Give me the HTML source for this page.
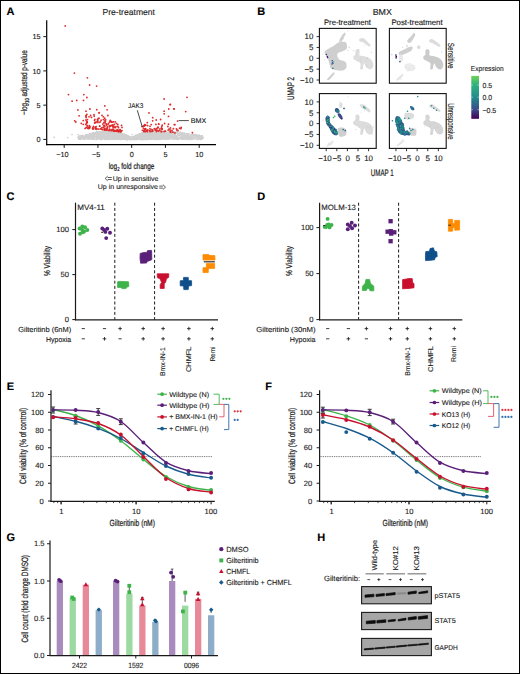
<!DOCTYPE html>
<html><head><meta charset="utf-8"><title>Figure</title>
<style>
html,body{margin:0;padding:0;background:#fff;}
svg{display:block;}
text{font-family:"Liberation Sans",sans-serif;}
</style></head><body>
<svg width="520" height="674" viewBox="0 0 520 674">
<rect x="0" y="0" width="520" height="674" fill="#fff"/>
<g fill="#1a1a1a" text-rendering="geometricPrecision">
<text x="6.60" y="15.00" font-size="11" font-weight="bold" fill="#000" stroke="#000" stroke-width="0.12">A</text>
<text x="102.50" y="15.00" font-size="8.6" fill="#1a1a1a" stroke="#1a1a1a" stroke-width="0.12" textLength="52.50" lengthAdjust="spacingAndGlyphs">Pre-treatment</text>
<g fill="#d0d0d0">
<circle cx="82.4" cy="137.5" r="0.85"/>
<circle cx="113.5" cy="134.5" r="0.85"/>
<circle cx="99.6" cy="133.1" r="0.85"/>
<circle cx="131.2" cy="138.7" r="0.85"/>
<circle cx="147.4" cy="139.1" r="0.85"/>
<circle cx="198.7" cy="136.6" r="0.85"/>
<circle cx="99.0" cy="138.2" r="0.85"/>
<circle cx="125.3" cy="138.5" r="0.85"/>
<circle cx="132.2" cy="139.3" r="0.85"/>
<circle cx="90.2" cy="136.3" r="0.85"/>
<circle cx="150.8" cy="135.2" r="0.85"/>
<circle cx="114.8" cy="131.1" r="0.85"/>
<circle cx="182.5" cy="134.6" r="0.85"/>
<circle cx="138.9" cy="138.3" r="0.85"/>
<circle cx="171.2" cy="136.1" r="0.85"/>
<circle cx="123.7" cy="134.3" r="0.85"/>
<circle cx="151.4" cy="131.8" r="0.85"/>
<circle cx="158.0" cy="138.8" r="0.85"/>
<circle cx="130.7" cy="137.6" r="0.85"/>
<circle cx="152.4" cy="131.3" r="0.85"/>
<circle cx="88.9" cy="138.0" r="0.85"/>
<circle cx="145.1" cy="138.9" r="0.85"/>
<circle cx="96.7" cy="135.3" r="0.85"/>
<circle cx="148.1" cy="138.3" r="0.85"/>
<circle cx="170.4" cy="138.4" r="0.85"/>
<circle cx="138.2" cy="134.9" r="0.85"/>
<circle cx="113.1" cy="132.0" r="0.85"/>
<circle cx="152.5" cy="136.1" r="0.85"/>
<circle cx="156.8" cy="138.6" r="0.85"/>
<circle cx="101.3" cy="137.2" r="0.85"/>
<circle cx="116.3" cy="136.9" r="0.85"/>
<circle cx="160.8" cy="137.4" r="0.85"/>
<circle cx="151.0" cy="136.3" r="0.85"/>
<circle cx="160.8" cy="134.6" r="0.85"/>
<circle cx="97.3" cy="138.2" r="0.85"/>
<circle cx="179.6" cy="137.6" r="0.85"/>
<circle cx="126.6" cy="136.4" r="0.85"/>
<circle cx="99.1" cy="131.9" r="0.85"/>
<circle cx="151.9" cy="135.9" r="0.85"/>
<circle cx="194.2" cy="138.2" r="0.85"/>
<circle cx="107.0" cy="132.5" r="0.85"/>
<circle cx="148.7" cy="136.9" r="0.85"/>
<circle cx="132.0" cy="138.9" r="0.85"/>
<circle cx="124.7" cy="135.2" r="0.85"/>
<circle cx="123.5" cy="138.3" r="0.85"/>
<circle cx="187.0" cy="137.8" r="0.85"/>
<circle cx="147.8" cy="136.3" r="0.85"/>
<circle cx="139.3" cy="138.7" r="0.85"/>
<circle cx="186.5" cy="135.3" r="0.85"/>
<circle cx="90.6" cy="135.9" r="0.85"/>
<circle cx="138.2" cy="135.1" r="0.85"/>
<circle cx="198.4" cy="139.3" r="0.85"/>
<circle cx="134.7" cy="137.9" r="0.85"/>
<circle cx="115.0" cy="131.0" r="0.85"/>
<circle cx="95.7" cy="133.0" r="0.85"/>
<circle cx="164.8" cy="132.8" r="0.85"/>
<circle cx="119.2" cy="134.4" r="0.85"/>
<circle cx="186.5" cy="136.8" r="0.85"/>
<circle cx="185.6" cy="135.8" r="0.85"/>
<circle cx="122.4" cy="137.1" r="0.85"/>
<circle cx="126.0" cy="136.6" r="0.85"/>
<circle cx="187.7" cy="135.0" r="0.85"/>
<circle cx="127.4" cy="136.7" r="0.85"/>
<circle cx="90.5" cy="138.9" r="0.85"/>
<circle cx="150.7" cy="135.4" r="0.85"/>
<circle cx="124.6" cy="136.4" r="0.85"/>
<circle cx="106.8" cy="139.3" r="0.85"/>
<circle cx="106.7" cy="133.7" r="0.85"/>
<circle cx="159.3" cy="133.9" r="0.85"/>
<circle cx="179.9" cy="133.0" r="0.85"/>
<circle cx="125.6" cy="137.4" r="0.85"/>
<circle cx="192.1" cy="134.7" r="0.85"/>
<circle cx="119.8" cy="135.3" r="0.85"/>
<circle cx="152.4" cy="132.4" r="0.85"/>
<circle cx="165.8" cy="131.5" r="0.85"/>
<circle cx="155.2" cy="138.0" r="0.85"/>
<circle cx="131.1" cy="138.5" r="0.85"/>
<circle cx="150.4" cy="135.3" r="0.85"/>
<circle cx="170.3" cy="135.6" r="0.85"/>
<circle cx="138.7" cy="135.9" r="0.85"/>
<circle cx="128.7" cy="138.4" r="0.85"/>
<circle cx="128.5" cy="136.7" r="0.85"/>
<circle cx="135.2" cy="138.9" r="0.85"/>
<circle cx="115.5" cy="134.1" r="0.85"/>
<circle cx="114.6" cy="132.7" r="0.85"/>
<circle cx="162.4" cy="137.7" r="0.85"/>
<circle cx="135.3" cy="137.8" r="0.85"/>
<circle cx="96.9" cy="137.4" r="0.85"/>
<circle cx="136.9" cy="136.5" r="0.85"/>
<circle cx="103.0" cy="136.1" r="0.85"/>
<circle cx="191.1" cy="138.9" r="0.85"/>
<circle cx="167.3" cy="138.3" r="0.85"/>
<circle cx="106.8" cy="134.2" r="0.85"/>
<circle cx="122.5" cy="136.1" r="0.85"/>
<circle cx="176.9" cy="132.2" r="0.85"/>
<circle cx="124.2" cy="135.7" r="0.85"/>
<circle cx="156.8" cy="133.4" r="0.85"/>
<circle cx="120.3" cy="133.3" r="0.85"/>
<circle cx="200.3" cy="137.2" r="0.85"/>
<circle cx="115.2" cy="131.8" r="0.85"/>
<circle cx="118.8" cy="138.8" r="0.85"/>
<circle cx="94.2" cy="136.1" r="0.85"/>
<circle cx="120.8" cy="134.1" r="0.85"/>
<circle cx="138.3" cy="137.8" r="0.85"/>
<circle cx="91.9" cy="138.5" r="0.85"/>
<circle cx="119.5" cy="134.2" r="0.85"/>
<circle cx="163.0" cy="131.5" r="0.85"/>
<circle cx="143.5" cy="137.9" r="0.85"/>
<circle cx="130.5" cy="138.7" r="0.85"/>
<circle cx="156.4" cy="135.0" r="0.85"/>
<circle cx="146.2" cy="136.9" r="0.85"/>
<circle cx="163.1" cy="137.7" r="0.85"/>
<circle cx="199.2" cy="137.2" r="0.85"/>
<circle cx="90.6" cy="138.2" r="0.85"/>
<circle cx="100.6" cy="139.2" r="0.85"/>
<circle cx="140.5" cy="137.1" r="0.85"/>
<circle cx="146.6" cy="135.3" r="0.85"/>
<circle cx="133.1" cy="139.2" r="0.85"/>
<circle cx="81.5" cy="135.8" r="0.85"/>
<circle cx="165.1" cy="135.4" r="0.85"/>
<circle cx="92.9" cy="133.6" r="0.85"/>
<circle cx="151.8" cy="136.7" r="0.85"/>
<circle cx="92.9" cy="138.6" r="0.85"/>
<circle cx="96.4" cy="137.8" r="0.85"/>
<circle cx="123.8" cy="136.1" r="0.85"/>
<circle cx="154.2" cy="133.3" r="0.85"/>
<circle cx="115.3" cy="137.7" r="0.85"/>
<circle cx="132.5" cy="138.4" r="0.85"/>
<circle cx="108.2" cy="138.1" r="0.85"/>
<circle cx="149.2" cy="134.1" r="0.85"/>
<circle cx="87.1" cy="136.2" r="0.85"/>
<circle cx="103.8" cy="133.2" r="0.85"/>
<circle cx="190.6" cy="137.6" r="0.85"/>
<circle cx="124.9" cy="135.0" r="0.85"/>
<circle cx="184.5" cy="138.5" r="0.85"/>
<circle cx="133.2" cy="137.5" r="0.85"/>
<circle cx="171.4" cy="135.9" r="0.85"/>
<circle cx="90.0" cy="137.1" r="0.85"/>
<circle cx="160.0" cy="139.3" r="0.85"/>
<circle cx="111.7" cy="131.3" r="0.85"/>
<circle cx="85.0" cy="137.0" r="0.85"/>
<circle cx="138.8" cy="136.0" r="0.85"/>
<circle cx="144.1" cy="139.1" r="0.85"/>
<circle cx="138.7" cy="136.9" r="0.85"/>
<circle cx="143.1" cy="138.0" r="0.85"/>
<circle cx="202.0" cy="135.9" r="0.85"/>
<circle cx="146.1" cy="138.9" r="0.85"/>
<circle cx="133.5" cy="137.3" r="0.85"/>
<circle cx="105.1" cy="135.8" r="0.85"/>
<circle cx="139.8" cy="139.3" r="0.85"/>
<circle cx="183.1" cy="138.2" r="0.85"/>
<circle cx="132.1" cy="139.0" r="0.85"/>
<circle cx="109.0" cy="135.1" r="0.85"/>
<circle cx="168.0" cy="133.5" r="0.85"/>
<circle cx="155.2" cy="136.0" r="0.85"/>
<circle cx="106.5" cy="135.2" r="0.85"/>
<circle cx="178.0" cy="137.5" r="0.85"/>
<circle cx="170.1" cy="132.9" r="0.85"/>
<circle cx="126.2" cy="135.6" r="0.85"/>
<circle cx="163.7" cy="133.0" r="0.85"/>
<circle cx="126.2" cy="136.3" r="0.85"/>
<circle cx="118.8" cy="139.3" r="0.85"/>
<circle cx="156.6" cy="134.1" r="0.85"/>
<circle cx="140.3" cy="135.7" r="0.85"/>
<circle cx="191.8" cy="135.9" r="0.85"/>
<circle cx="110.1" cy="131.0" r="0.85"/>
<circle cx="128.7" cy="137.2" r="0.85"/>
<circle cx="200.7" cy="139.3" r="0.85"/>
<circle cx="132.4" cy="138.5" r="0.85"/>
<circle cx="115.1" cy="137.8" r="0.85"/>
<circle cx="148.8" cy="131.8" r="0.85"/>
<circle cx="144.4" cy="135.7" r="0.85"/>
<circle cx="147.3" cy="131.1" r="0.85"/>
<circle cx="137.3" cy="136.8" r="0.85"/>
<circle cx="79.5" cy="136.2" r="0.85"/>
<circle cx="124.7" cy="137.1" r="0.85"/>
<circle cx="100.3" cy="138.9" r="0.85"/>
<circle cx="128.2" cy="137.6" r="0.85"/>
<circle cx="134.7" cy="138.2" r="0.85"/>
<circle cx="116.2" cy="137.0" r="0.85"/>
<circle cx="112.0" cy="139.3" r="0.85"/>
<circle cx="107.9" cy="139.0" r="0.85"/>
<circle cx="134.4" cy="136.6" r="0.85"/>
<circle cx="80.2" cy="135.8" r="0.85"/>
<circle cx="83.2" cy="135.5" r="0.85"/>
<circle cx="109.6" cy="135.4" r="0.85"/>
<circle cx="105.2" cy="135.0" r="0.85"/>
<circle cx="167.3" cy="135.5" r="0.85"/>
<circle cx="179.5" cy="135.0" r="0.85"/>
<circle cx="114.7" cy="137.7" r="0.85"/>
<circle cx="114.9" cy="135.0" r="0.85"/>
<circle cx="99.9" cy="135.7" r="0.85"/>
<circle cx="146.4" cy="134.6" r="0.85"/>
<circle cx="139.0" cy="134.4" r="0.85"/>
<circle cx="168.8" cy="137.4" r="0.85"/>
<circle cx="104.3" cy="131.9" r="0.85"/>
<circle cx="154.6" cy="136.4" r="0.85"/>
<circle cx="121.3" cy="135.6" r="0.85"/>
<circle cx="105.0" cy="133.1" r="0.85"/>
<circle cx="134.2" cy="136.7" r="0.85"/>
<circle cx="78.8" cy="139.2" r="0.85"/>
<circle cx="201.6" cy="137.7" r="0.85"/>
<circle cx="158.0" cy="138.8" r="0.85"/>
<circle cx="151.9" cy="133.7" r="0.85"/>
<circle cx="117.8" cy="135.6" r="0.85"/>
<circle cx="116.5" cy="136.5" r="0.85"/>
<circle cx="182.3" cy="138.9" r="0.85"/>
<circle cx="146.1" cy="133.2" r="0.85"/>
<circle cx="102.1" cy="135.9" r="0.85"/>
<circle cx="142.3" cy="135.2" r="0.85"/>
<circle cx="115.8" cy="134.8" r="0.85"/>
<circle cx="193.0" cy="137.2" r="0.85"/>
<circle cx="112.0" cy="138.6" r="0.85"/>
<circle cx="83.8" cy="139.0" r="0.85"/>
<circle cx="96.9" cy="137.2" r="0.85"/>
<circle cx="83.5" cy="138.5" r="0.85"/>
<circle cx="137.2" cy="139.1" r="0.85"/>
<circle cx="127.9" cy="138.4" r="0.85"/>
<circle cx="96.8" cy="136.8" r="0.85"/>
<circle cx="121.1" cy="138.6" r="0.85"/>
<circle cx="147.4" cy="131.7" r="0.85"/>
<circle cx="192.0" cy="137.1" r="0.85"/>
<circle cx="113.1" cy="136.7" r="0.85"/>
<circle cx="181.0" cy="137.7" r="0.85"/>
<circle cx="113.1" cy="136.3" r="0.85"/>
<circle cx="114.7" cy="137.8" r="0.85"/>
<circle cx="148.4" cy="132.7" r="0.85"/>
<circle cx="149.9" cy="137.9" r="0.85"/>
<circle cx="187.8" cy="137.7" r="0.85"/>
<circle cx="107.0" cy="135.1" r="0.85"/>
<circle cx="107.7" cy="132.7" r="0.85"/>
<circle cx="92.8" cy="138.9" r="0.85"/>
<circle cx="121.3" cy="134.7" r="0.85"/>
<circle cx="84.6" cy="136.5" r="0.85"/>
<circle cx="132.8" cy="138.8" r="0.85"/>
<circle cx="98.6" cy="133.5" r="0.85"/>
<circle cx="136.0" cy="138.1" r="0.85"/>
<circle cx="160.8" cy="135.3" r="0.85"/>
<circle cx="109.5" cy="133.4" r="0.85"/>
<circle cx="192.2" cy="137.2" r="0.85"/>
<circle cx="160.1" cy="132.3" r="0.85"/>
<circle cx="181.7" cy="133.3" r="0.85"/>
<circle cx="156.6" cy="135.0" r="0.85"/>
<circle cx="177.6" cy="136.2" r="0.85"/>
<circle cx="158.0" cy="131.1" r="0.85"/>
<circle cx="165.5" cy="138.0" r="0.85"/>
<circle cx="115.7" cy="131.3" r="0.85"/>
<circle cx="142.9" cy="137.3" r="0.85"/>
<circle cx="108.6" cy="137.9" r="0.85"/>
<circle cx="100.0" cy="135.7" r="0.85"/>
<circle cx="139.3" cy="138.8" r="0.85"/>
<circle cx="130.2" cy="138.8" r="0.85"/>
<circle cx="127.1" cy="138.5" r="0.85"/>
<circle cx="101.8" cy="137.1" r="0.85"/>
<circle cx="134.7" cy="137.6" r="0.85"/>
<circle cx="135.8" cy="138.4" r="0.85"/>
<circle cx="192.1" cy="137.6" r="0.85"/>
<circle cx="112.7" cy="131.4" r="0.85"/>
<circle cx="135.1" cy="136.2" r="0.85"/>
<circle cx="123.5" cy="136.6" r="0.85"/>
<circle cx="141.4" cy="137.7" r="0.85"/>
<circle cx="158.9" cy="137.4" r="0.85"/>
<circle cx="110.6" cy="132.7" r="0.85"/>
<circle cx="152.2" cy="138.1" r="0.85"/>
<circle cx="137.7" cy="138.0" r="0.85"/>
<circle cx="153.7" cy="134.1" r="0.85"/>
<circle cx="108.2" cy="134.9" r="0.85"/>
<circle cx="112.3" cy="133.0" r="0.85"/>
<circle cx="154.1" cy="132.5" r="0.85"/>
<circle cx="91.4" cy="137.7" r="0.85"/>
<circle cx="86.2" cy="137.0" r="0.85"/>
<circle cx="164.8" cy="132.2" r="0.85"/>
<circle cx="124.8" cy="135.6" r="0.85"/>
<circle cx="142.9" cy="133.9" r="0.85"/>
<circle cx="128.4" cy="137.6" r="0.85"/>
<circle cx="158.9" cy="136.8" r="0.85"/>
<circle cx="172.1" cy="138.8" r="0.85"/>
<circle cx="96.0" cy="136.8" r="0.85"/>
<circle cx="141.6" cy="138.8" r="0.85"/>
<circle cx="158.4" cy="139.3" r="0.85"/>
<circle cx="148.8" cy="133.5" r="0.85"/>
<circle cx="109.0" cy="139.3" r="0.85"/>
<circle cx="177.3" cy="137.8" r="0.85"/>
<circle cx="123.2" cy="137.8" r="0.85"/>
<circle cx="113.9" cy="136.6" r="0.85"/>
<circle cx="128.7" cy="137.3" r="0.85"/>
<circle cx="145.9" cy="136.8" r="0.85"/>
<circle cx="146.6" cy="133.4" r="0.85"/>
<circle cx="171.2" cy="132.5" r="0.85"/>
<circle cx="140.6" cy="135.5" r="0.85"/>
<circle cx="97.0" cy="136.4" r="0.85"/>
<circle cx="150.5" cy="138.6" r="0.85"/>
<circle cx="142.1" cy="138.4" r="0.85"/>
<circle cx="125.9" cy="135.3" r="0.85"/>
<circle cx="138.9" cy="136.8" r="0.85"/>
<circle cx="138.5" cy="137.5" r="0.85"/>
<circle cx="88.9" cy="137.1" r="0.85"/>
<circle cx="103.1" cy="131.2" r="0.85"/>
<circle cx="159.2" cy="134.3" r="0.85"/>
<circle cx="155.7" cy="136.6" r="0.85"/>
<circle cx="127.0" cy="137.9" r="0.85"/>
<circle cx="124.4" cy="135.4" r="0.85"/>
<circle cx="152.9" cy="138.1" r="0.85"/>
<circle cx="190.7" cy="136.4" r="0.85"/>
<circle cx="120.3" cy="134.6" r="0.85"/>
<circle cx="140.5" cy="135.3" r="0.85"/>
<circle cx="99.2" cy="132.0" r="0.85"/>
<circle cx="133.7" cy="138.9" r="0.85"/>
<circle cx="134.8" cy="137.1" r="0.85"/>
<circle cx="165.6" cy="131.6" r="0.85"/>
<circle cx="121.6" cy="133.3" r="0.85"/>
<circle cx="136.6" cy="135.8" r="0.85"/>
<circle cx="104.8" cy="137.2" r="0.85"/>
<circle cx="202.2" cy="136.3" r="0.85"/>
<circle cx="122.1" cy="138.7" r="0.85"/>
<circle cx="111.0" cy="131.9" r="0.85"/>
<circle cx="92.7" cy="138.2" r="0.85"/>
<circle cx="113.3" cy="138.8" r="0.85"/>
<circle cx="164.2" cy="131.5" r="0.85"/>
<circle cx="198.5" cy="138.1" r="0.85"/>
<circle cx="131.9" cy="138.2" r="0.85"/>
<circle cx="110.0" cy="135.5" r="0.85"/>
<circle cx="109.9" cy="137.9" r="0.85"/>
<circle cx="154.4" cy="137.2" r="0.85"/>
<circle cx="116.6" cy="139.1" r="0.85"/>
<circle cx="164.0" cy="138.2" r="0.85"/>
<circle cx="151.4" cy="135.5" r="0.85"/>
<circle cx="107.3" cy="133.1" r="0.85"/>
<circle cx="136.6" cy="135.4" r="0.85"/>
<circle cx="184.5" cy="136.7" r="0.85"/>
<circle cx="107.7" cy="134.7" r="0.85"/>
<circle cx="141.8" cy="136.1" r="0.85"/>
<circle cx="151.3" cy="138.9" r="0.85"/>
<circle cx="190.3" cy="135.3" r="0.85"/>
<circle cx="121.6" cy="134.7" r="0.85"/>
<circle cx="126.0" cy="138.9" r="0.85"/>
<circle cx="128.6" cy="137.8" r="0.85"/>
<circle cx="169.2" cy="135.0" r="0.85"/>
<circle cx="145.7" cy="137.0" r="0.85"/>
<circle cx="134.5" cy="136.6" r="0.85"/>
<circle cx="159.9" cy="132.2" r="0.85"/>
<circle cx="142.8" cy="134.0" r="0.85"/>
<circle cx="133.1" cy="137.1" r="0.85"/>
<circle cx="102.3" cy="132.8" r="0.85"/>
<circle cx="119.8" cy="137.7" r="0.85"/>
<circle cx="129.8" cy="136.9" r="0.85"/>
<circle cx="125.1" cy="137.7" r="0.85"/>
<circle cx="141.5" cy="139.1" r="0.85"/>
<circle cx="150.5" cy="135.2" r="0.85"/>
<circle cx="200.3" cy="137.5" r="0.85"/>
<circle cx="121.3" cy="137.5" r="0.85"/>
<circle cx="189.9" cy="138.3" r="0.85"/>
<circle cx="119.5" cy="136.0" r="0.85"/>
<circle cx="191.7" cy="138.3" r="0.85"/>
<circle cx="79.0" cy="138.8" r="0.85"/>
<circle cx="80.1" cy="139.0" r="0.85"/>
<circle cx="114.2" cy="131.9" r="0.85"/>
<circle cx="166.1" cy="138.3" r="0.85"/>
<circle cx="158.1" cy="138.7" r="0.85"/>
<circle cx="123.7" cy="137.8" r="0.85"/>
<circle cx="99.1" cy="138.0" r="0.85"/>
<circle cx="111.8" cy="136.3" r="0.85"/>
<circle cx="96.8" cy="132.9" r="0.85"/>
<circle cx="136.4" cy="135.8" r="0.85"/>
<circle cx="154.1" cy="137.1" r="0.85"/>
<circle cx="192.3" cy="137.1" r="0.85"/>
<circle cx="170.9" cy="135.0" r="0.85"/>
<circle cx="117.6" cy="137.4" r="0.85"/>
<circle cx="84.9" cy="138.1" r="0.85"/>
<circle cx="105.5" cy="137.1" r="0.85"/>
<circle cx="122.1" cy="138.3" r="0.85"/>
<circle cx="201.7" cy="139.3" r="0.85"/>
<circle cx="133.8" cy="136.8" r="0.85"/>
<circle cx="109.8" cy="137.9" r="0.85"/>
<circle cx="119.7" cy="134.8" r="0.85"/>
<circle cx="140.6" cy="136.5" r="0.85"/>
<circle cx="162.3" cy="135.1" r="0.85"/>
<circle cx="96.2" cy="133.8" r="0.85"/>
<circle cx="115.6" cy="134.3" r="0.85"/>
<circle cx="94.8" cy="134.0" r="0.85"/>
<circle cx="104.2" cy="135.3" r="0.85"/>
<circle cx="149.0" cy="134.6" r="0.85"/>
<circle cx="165.7" cy="133.4" r="0.85"/>
<circle cx="140.9" cy="134.3" r="0.85"/>
<circle cx="136.4" cy="137.5" r="0.85"/>
<circle cx="137.5" cy="137.5" r="0.85"/>
<circle cx="136.6" cy="135.8" r="0.85"/>
<circle cx="124.7" cy="136.7" r="0.85"/>
<circle cx="104.5" cy="138.2" r="0.85"/>
<circle cx="154.1" cy="134.2" r="0.85"/>
<circle cx="139.3" cy="138.0" r="0.85"/>
<circle cx="172.0" cy="138.0" r="0.85"/>
<circle cx="157.5" cy="138.1" r="0.85"/>
<circle cx="154.5" cy="138.9" r="0.85"/>
<circle cx="96.4" cy="136.8" r="0.85"/>
<circle cx="140.7" cy="136.6" r="0.85"/>
<circle cx="201.5" cy="138.8" r="0.85"/>
<circle cx="132.4" cy="137.7" r="0.85"/>
<circle cx="136.7" cy="138.8" r="0.85"/>
<circle cx="184.7" cy="137.5" r="0.85"/>
<circle cx="139.4" cy="134.2" r="0.85"/>
<circle cx="168.8" cy="137.5" r="0.85"/>
<circle cx="136.7" cy="137.2" r="0.85"/>
<circle cx="78.9" cy="138.2" r="0.85"/>
<circle cx="147.2" cy="131.2" r="0.85"/>
<circle cx="157.6" cy="134.0" r="0.85"/>
<circle cx="139.8" cy="137.6" r="0.85"/>
<circle cx="155.1" cy="132.0" r="0.85"/>
<circle cx="109.3" cy="136.1" r="0.85"/>
<circle cx="123.0" cy="135.0" r="0.85"/>
<circle cx="124.8" cy="136.7" r="0.85"/>
<circle cx="146.4" cy="137.7" r="0.85"/>
<circle cx="113.3" cy="135.7" r="0.85"/>
<circle cx="161.7" cy="132.2" r="0.85"/>
<circle cx="137.9" cy="137.6" r="0.85"/>
<circle cx="125.4" cy="138.1" r="0.85"/>
<circle cx="112.2" cy="137.9" r="0.85"/>
<circle cx="90.6" cy="135.1" r="0.85"/>
<circle cx="168.1" cy="136.4" r="0.85"/>
<circle cx="154.9" cy="133.0" r="0.85"/>
<circle cx="191.2" cy="139.3" r="0.85"/>
<circle cx="124.8" cy="137.5" r="0.85"/>
<circle cx="149.7" cy="133.0" r="0.85"/>
<circle cx="119.2" cy="139.0" r="0.85"/>
<circle cx="134.2" cy="138.9" r="0.85"/>
<circle cx="140.7" cy="139.2" r="0.85"/>
<circle cx="106.7" cy="138.3" r="0.85"/>
<circle cx="107.4" cy="133.3" r="0.85"/>
<circle cx="147.7" cy="138.2" r="0.85"/>
<circle cx="126.5" cy="137.7" r="0.85"/>
<circle cx="171.4" cy="132.2" r="0.85"/>
<circle cx="127.9" cy="138.6" r="0.85"/>
<circle cx="155.3" cy="139.2" r="0.85"/>
<circle cx="93.3" cy="133.0" r="0.85"/>
<circle cx="115.9" cy="133.8" r="0.85"/>
<circle cx="101.7" cy="133.6" r="0.85"/>
<circle cx="180.7" cy="137.7" r="0.85"/>
<circle cx="120.1" cy="138.8" r="0.85"/>
<circle cx="127.0" cy="137.9" r="0.85"/>
<circle cx="139.1" cy="136.9" r="0.85"/>
<circle cx="147.1" cy="135.4" r="0.85"/>
<circle cx="154.4" cy="133.8" r="0.85"/>
<circle cx="152.3" cy="135.9" r="0.85"/>
<circle cx="146.0" cy="134.7" r="0.85"/>
<circle cx="145.3" cy="134.0" r="0.85"/>
<circle cx="115.8" cy="138.9" r="0.85"/>
<circle cx="148.3" cy="138.9" r="0.85"/>
<circle cx="110.3" cy="136.7" r="0.85"/>
<circle cx="119.7" cy="139.2" r="0.85"/>
<circle cx="158.1" cy="137.2" r="0.85"/>
<circle cx="114.0" cy="137.8" r="0.85"/>
<circle cx="88.5" cy="137.4" r="0.85"/>
<circle cx="93.7" cy="133.1" r="0.85"/>
<circle cx="155.0" cy="134.2" r="0.85"/>
<circle cx="116.9" cy="132.6" r="0.85"/>
<circle cx="123.1" cy="134.3" r="0.85"/>
<circle cx="143.6" cy="138.4" r="0.85"/>
<circle cx="125.5" cy="134.9" r="0.85"/>
<circle cx="155.2" cy="137.8" r="0.85"/>
<circle cx="126.2" cy="139.4" r="0.85"/>
<circle cx="117.6" cy="136.3" r="0.85"/>
<circle cx="98.5" cy="135.2" r="0.85"/>
<circle cx="135.1" cy="137.5" r="0.85"/>
<circle cx="199.2" cy="138.0" r="0.85"/>
<circle cx="149.6" cy="133.4" r="0.85"/>
<circle cx="119.9" cy="134.6" r="0.85"/>
<circle cx="180.5" cy="138.3" r="0.85"/>
<circle cx="102.5" cy="136.3" r="0.85"/>
<circle cx="135.6" cy="136.7" r="0.85"/>
<circle cx="135.2" cy="138.3" r="0.85"/>
<circle cx="152.1" cy="135.1" r="0.85"/>
<circle cx="142.2" cy="138.7" r="0.85"/>
<circle cx="88.3" cy="136.9" r="0.85"/>
<circle cx="135.9" cy="138.8" r="0.85"/>
<circle cx="186.4" cy="139.1" r="0.85"/>
<circle cx="137.3" cy="137.2" r="0.85"/>
<circle cx="124.5" cy="135.8" r="0.85"/>
<circle cx="129.1" cy="138.4" r="0.85"/>
<circle cx="182.9" cy="133.8" r="0.85"/>
<circle cx="112.6" cy="135.9" r="0.85"/>
<circle cx="154.4" cy="132.5" r="0.85"/>
<circle cx="89.9" cy="137.2" r="0.85"/>
<circle cx="135.6" cy="139.4" r="0.85"/>
<circle cx="149.1" cy="131.5" r="0.85"/>
<circle cx="91.0" cy="135.2" r="0.85"/>
<circle cx="117.2" cy="131.8" r="0.85"/>
<circle cx="80.0" cy="136.8" r="0.85"/>
<circle cx="115.8" cy="139.0" r="0.85"/>
<circle cx="124.6" cy="138.8" r="0.85"/>
<circle cx="106.8" cy="136.3" r="0.85"/>
<circle cx="126.3" cy="136.0" r="0.85"/>
<circle cx="110.4" cy="136.1" r="0.85"/>
<circle cx="140.3" cy="137.2" r="0.85"/>
<circle cx="138.0" cy="138.6" r="0.85"/>
<circle cx="120.7" cy="133.2" r="0.85"/>
<circle cx="121.5" cy="137.4" r="0.85"/>
<circle cx="134.6" cy="137.6" r="0.85"/>
<circle cx="120.0" cy="137.8" r="0.85"/>
<circle cx="119.9" cy="136.9" r="0.85"/>
<circle cx="142.1" cy="133.7" r="0.85"/>
<circle cx="136.5" cy="139.1" r="0.85"/>
<circle cx="142.4" cy="133.8" r="0.85"/>
<circle cx="95.8" cy="136.6" r="0.85"/>
<circle cx="156.3" cy="134.8" r="0.85"/>
<circle cx="119.7" cy="132.8" r="0.85"/>
<circle cx="202.5" cy="137.7" r="0.85"/>
<circle cx="167.6" cy="137.9" r="0.85"/>
<circle cx="120.1" cy="138.2" r="0.85"/>
<circle cx="154.2" cy="133.1" r="0.85"/>
<circle cx="144.1" cy="135.7" r="0.85"/>
<circle cx="149.0" cy="139.3" r="0.85"/>
<circle cx="193.3" cy="135.2" r="0.85"/>
<circle cx="169.0" cy="136.1" r="0.85"/>
<circle cx="180.9" cy="134.0" r="0.85"/>
<circle cx="86.7" cy="134.6" r="0.85"/>
<circle cx="128.6" cy="136.5" r="0.85"/>
<circle cx="116.0" cy="134.6" r="0.85"/>
<circle cx="115.9" cy="133.9" r="0.85"/>
<circle cx="120.9" cy="135.2" r="0.85"/>
<circle cx="148.8" cy="137.1" r="0.85"/>
<circle cx="115.3" cy="138.6" r="0.85"/>
<circle cx="132.8" cy="137.6" r="0.85"/>
<circle cx="117.0" cy="133.8" r="0.85"/>
<circle cx="144.3" cy="136.8" r="0.85"/>
<circle cx="142.1" cy="139.3" r="0.85"/>
<circle cx="116.1" cy="134.9" r="0.85"/>
<circle cx="100.2" cy="132.3" r="0.85"/>
<circle cx="145.9" cy="133.4" r="0.85"/>
<circle cx="159.4" cy="131.4" r="0.85"/>
<circle cx="131.7" cy="138.6" r="0.85"/>
<circle cx="96.7" cy="137.4" r="0.85"/>
<circle cx="154.0" cy="137.9" r="0.85"/>
<circle cx="126.8" cy="135.4" r="0.85"/>
<circle cx="118.0" cy="134.4" r="0.85"/>
<circle cx="116.0" cy="134.2" r="0.85"/>
<circle cx="184.6" cy="135.3" r="0.85"/>
<circle cx="122.8" cy="134.6" r="0.85"/>
<circle cx="128.8" cy="138.0" r="0.85"/>
<circle cx="112.8" cy="137.5" r="0.85"/>
<circle cx="145.3" cy="135.0" r="0.85"/>
<circle cx="167.2" cy="135.7" r="0.85"/>
<circle cx="140.6" cy="136.0" r="0.85"/>
<circle cx="93.3" cy="136.3" r="0.85"/>
<circle cx="169.3" cy="136.8" r="0.85"/>
<circle cx="201.9" cy="137.9" r="0.85"/>
<circle cx="90.1" cy="133.6" r="0.85"/>
<circle cx="138.4" cy="136.3" r="0.85"/>
<circle cx="181.1" cy="133.8" r="0.85"/>
<circle cx="180.0" cy="132.3" r="0.85"/>
<circle cx="160.0" cy="137.3" r="0.85"/>
<circle cx="132.5" cy="138.2" r="0.85"/>
<circle cx="99.1" cy="137.2" r="0.85"/>
<circle cx="105.8" cy="138.8" r="0.85"/>
<circle cx="140.3" cy="138.1" r="0.85"/>
<circle cx="184.5" cy="134.4" r="0.85"/>
<circle cx="106.3" cy="131.8" r="0.85"/>
<circle cx="93.3" cy="137.0" r="0.85"/>
<circle cx="155.5" cy="132.2" r="0.85"/>
<circle cx="88.9" cy="138.4" r="0.85"/>
<circle cx="138.9" cy="135.2" r="0.85"/>
<circle cx="141.4" cy="133.4" r="0.85"/>
<circle cx="128.3" cy="137.3" r="0.85"/>
<circle cx="168.0" cy="137.8" r="0.85"/>
<circle cx="129.8" cy="138.5" r="0.85"/>
<circle cx="135.5" cy="137.2" r="0.85"/>
<circle cx="103.9" cy="137.9" r="0.85"/>
<circle cx="111.1" cy="133.6" r="0.85"/>
<circle cx="142.0" cy="133.4" r="0.85"/>
<circle cx="142.5" cy="137.1" r="0.85"/>
<circle cx="171.0" cy="133.2" r="0.85"/>
<circle cx="132.5" cy="138.7" r="0.85"/>
<circle cx="154.5" cy="135.9" r="0.85"/>
<circle cx="126.7" cy="137.5" r="0.85"/>
<circle cx="161.0" cy="131.5" r="0.85"/>
<circle cx="128.6" cy="137.5" r="0.85"/>
<circle cx="116.7" cy="132.1" r="0.85"/>
<circle cx="156.0" cy="135.6" r="0.85"/>
<circle cx="123.9" cy="135.5" r="0.85"/>
<circle cx="104.8" cy="135.7" r="0.85"/>
<circle cx="116.5" cy="135.7" r="0.85"/>
<circle cx="111.6" cy="133.6" r="0.85"/>
<circle cx="143.3" cy="137.7" r="0.85"/>
<circle cx="168.6" cy="137.3" r="0.85"/>
<circle cx="171.8" cy="136.5" r="0.85"/>
<circle cx="183.8" cy="135.5" r="0.85"/>
<circle cx="175.7" cy="138.7" r="0.85"/>
<circle cx="164.0" cy="136.3" r="0.85"/>
<circle cx="160.4" cy="136.5" r="0.85"/>
<circle cx="196.7" cy="139.3" r="0.85"/>
<circle cx="111.1" cy="135.5" r="0.85"/>
<circle cx="138.2" cy="136.3" r="0.85"/>
<circle cx="199.1" cy="135.2" r="0.85"/>
<circle cx="121.4" cy="134.2" r="0.85"/>
<circle cx="108.1" cy="138.8" r="0.85"/>
<circle cx="124.2" cy="134.4" r="0.85"/>
<circle cx="119.6" cy="136.8" r="0.85"/>
<circle cx="102.2" cy="138.7" r="0.85"/>
<circle cx="158.3" cy="134.0" r="0.85"/>
<circle cx="132.8" cy="137.5" r="0.85"/>
<circle cx="174.2" cy="138.4" r="0.85"/>
<circle cx="115.2" cy="139.3" r="0.85"/>
<circle cx="196.1" cy="135.2" r="0.85"/>
<circle cx="115.9" cy="134.9" r="0.85"/>
<circle cx="158.0" cy="132.8" r="0.85"/>
<circle cx="121.2" cy="135.8" r="0.85"/>
<circle cx="133.1" cy="139.2" r="0.85"/>
<circle cx="122.2" cy="137.9" r="0.85"/>
<circle cx="174.3" cy="139.0" r="0.85"/>
<circle cx="104.1" cy="135.6" r="0.85"/>
<circle cx="87.2" cy="135.0" r="0.85"/>
<circle cx="143.0" cy="132.9" r="0.85"/>
<circle cx="105.9" cy="132.2" r="0.85"/>
<circle cx="127.2" cy="139.4" r="0.85"/>
<circle cx="152.3" cy="132.6" r="0.85"/>
<circle cx="166.0" cy="138.1" r="0.85"/>
<circle cx="145.3" cy="137.1" r="0.85"/>
<circle cx="157.0" cy="132.3" r="0.85"/>
<circle cx="135.8" cy="137.9" r="0.85"/>
<circle cx="132.9" cy="137.2" r="0.85"/>
<circle cx="145.5" cy="135.6" r="0.85"/>
<circle cx="178.2" cy="135.2" r="0.85"/>
<circle cx="95.3" cy="133.1" r="0.85"/>
<circle cx="121.6" cy="137.8" r="0.85"/>
<circle cx="171.7" cy="135.8" r="0.85"/>
<circle cx="117.5" cy="135.8" r="0.85"/>
<circle cx="153.7" cy="132.4" r="0.85"/>
<circle cx="103.6" cy="136.1" r="0.85"/>
<circle cx="128.4" cy="139.1" r="0.85"/>
<circle cx="122.7" cy="138.1" r="0.85"/>
<circle cx="136.8" cy="139.4" r="0.85"/>
<circle cx="159.4" cy="131.3" r="0.85"/>
<circle cx="82.2" cy="137.9" r="0.85"/>
<circle cx="99.5" cy="136.5" r="0.85"/>
<circle cx="108.6" cy="136.8" r="0.85"/>
<circle cx="113.2" cy="135.1" r="0.85"/>
<circle cx="80.5" cy="139.1" r="0.85"/>
<circle cx="128.3" cy="138.0" r="0.85"/>
<circle cx="125.8" cy="138.1" r="0.85"/>
<circle cx="176.7" cy="138.7" r="0.85"/>
<circle cx="181.4" cy="137.1" r="0.85"/>
<circle cx="151.8" cy="134.0" r="0.85"/>
<circle cx="94.9" cy="134.1" r="0.85"/>
<circle cx="111.9" cy="131.7" r="0.85"/>
<circle cx="112.0" cy="139.2" r="0.85"/>
<circle cx="171.2" cy="134.6" r="0.85"/>
<circle cx="131.6" cy="138.1" r="0.85"/>
<circle cx="192.5" cy="139.0" r="0.85"/>
<circle cx="130.7" cy="137.7" r="0.85"/>
<circle cx="108.5" cy="135.7" r="0.85"/>
<circle cx="149.5" cy="133.3" r="0.85"/>
<circle cx="148.1" cy="138.4" r="0.85"/>
<circle cx="160.0" cy="134.8" r="0.85"/>
<circle cx="149.1" cy="131.4" r="0.85"/>
<circle cx="147.9" cy="131.7" r="0.85"/>
<circle cx="107.8" cy="132.4" r="0.85"/>
<circle cx="149.1" cy="132.1" r="0.85"/>
<circle cx="159.1" cy="136.2" r="0.85"/>
<circle cx="138.8" cy="134.8" r="0.85"/>
<circle cx="124.8" cy="135.6" r="0.85"/>
<circle cx="111.4" cy="133.2" r="0.85"/>
<circle cx="119.7" cy="137.0" r="0.85"/>
<circle cx="125.3" cy="137.8" r="0.85"/>
<circle cx="109.8" cy="134.6" r="0.85"/>
<circle cx="120.1" cy="135.4" r="0.85"/>
<circle cx="130.7" cy="137.1" r="0.85"/>
<circle cx="128.0" cy="138.5" r="0.85"/>
<circle cx="148.2" cy="137.3" r="0.85"/>
<circle cx="117.0" cy="132.6" r="0.85"/>
<circle cx="128.3" cy="137.3" r="0.85"/>
<circle cx="108.4" cy="131.2" r="0.85"/>
<circle cx="132.7" cy="138.3" r="0.85"/>
<circle cx="133.9" cy="138.5" r="0.85"/>
<circle cx="78.2" cy="137.2" r="0.85"/>
<circle cx="122.4" cy="136.2" r="0.85"/>
<circle cx="168.3" cy="133.0" r="0.85"/>
<circle cx="86.3" cy="135.5" r="0.85"/>
<circle cx="182.3" cy="138.0" r="0.85"/>
<circle cx="124.2" cy="135.5" r="0.85"/>
<circle cx="125.9" cy="135.4" r="0.85"/>
<circle cx="163.0" cy="136.4" r="0.85"/>
<circle cx="166.8" cy="137.0" r="0.85"/>
<circle cx="167.9" cy="137.2" r="0.85"/>
<circle cx="163.6" cy="137.3" r="0.85"/>
<circle cx="137.6" cy="138.3" r="0.85"/>
<circle cx="114.4" cy="137.0" r="0.85"/>
<circle cx="135.6" cy="137.6" r="0.85"/>
<circle cx="94.4" cy="133.5" r="0.85"/>
<circle cx="152.6" cy="134.9" r="0.85"/>
<circle cx="142.9" cy="135.0" r="0.85"/>
<circle cx="174.1" cy="137.3" r="0.85"/>
<circle cx="155.0" cy="132.8" r="0.85"/>
<circle cx="124.8" cy="137.2" r="0.85"/>
<circle cx="126.1" cy="137.2" r="0.85"/>
<circle cx="140.4" cy="138.8" r="0.85"/>
<circle cx="158.8" cy="138.8" r="0.85"/>
<circle cx="86.9" cy="136.5" r="0.85"/>
<circle cx="192.8" cy="134.2" r="0.85"/>
<circle cx="139.7" cy="135.8" r="0.85"/>
<circle cx="127.5" cy="139.3" r="0.85"/>
<circle cx="170.5" cy="132.3" r="0.85"/>
<circle cx="141.2" cy="138.9" r="0.85"/>
<circle cx="129.7" cy="138.9" r="0.85"/>
<circle cx="116.3" cy="137.7" r="0.85"/>
<circle cx="127.7" cy="137.6" r="0.85"/>
<circle cx="156.4" cy="135.3" r="0.85"/>
<circle cx="164.5" cy="138.3" r="0.85"/>
<circle cx="128.4" cy="138.3" r="0.85"/>
<circle cx="195.3" cy="134.7" r="0.85"/>
<circle cx="193.6" cy="135.0" r="0.85"/>
<circle cx="102.6" cy="134.3" r="0.85"/>
<circle cx="113.8" cy="131.6" r="0.85"/>
<circle cx="126.3" cy="138.9" r="0.85"/>
<circle cx="197.7" cy="139.3" r="0.85"/>
<circle cx="151.6" cy="135.1" r="0.85"/>
<circle cx="101.2" cy="133.1" r="0.85"/>
<circle cx="151.8" cy="132.4" r="0.85"/>
<circle cx="131.3" cy="137.8" r="0.85"/>
<circle cx="137.2" cy="136.9" r="0.85"/>
<circle cx="115.1" cy="135.6" r="0.85"/>
<circle cx="165.0" cy="132.0" r="0.85"/>
<circle cx="144.6" cy="135.8" r="0.85"/>
<circle cx="116.8" cy="137.4" r="0.85"/>
<circle cx="148.8" cy="137.2" r="0.85"/>
<circle cx="132.2" cy="139.0" r="0.85"/>
<circle cx="183.4" cy="137.4" r="0.85"/>
<circle cx="128.4" cy="136.8" r="0.85"/>
<circle cx="97.7" cy="138.8" r="0.85"/>
<circle cx="105.3" cy="137.6" r="0.85"/>
<circle cx="157.1" cy="136.4" r="0.85"/>
<circle cx="202.0" cy="137.9" r="0.85"/>
<circle cx="132.2" cy="137.7" r="0.85"/>
<circle cx="117.5" cy="133.1" r="0.85"/>
<circle cx="126.2" cy="136.2" r="0.85"/>
<circle cx="165.4" cy="132.6" r="0.85"/>
<circle cx="109.9" cy="138.9" r="0.85"/>
<circle cx="92.2" cy="138.1" r="0.85"/>
<circle cx="198.1" cy="135.3" r="0.85"/>
<circle cx="133.9" cy="136.8" r="0.85"/>
<circle cx="120.8" cy="138.1" r="0.85"/>
<circle cx="162.7" cy="131.5" r="0.85"/>
<circle cx="107.4" cy="136.3" r="0.85"/>
<circle cx="125.4" cy="139.1" r="0.85"/>
<circle cx="190.6" cy="137.5" r="0.85"/>
<circle cx="128.3" cy="139.0" r="0.85"/>
<circle cx="148.2" cy="134.9" r="0.85"/>
<circle cx="136.0" cy="135.8" r="0.85"/>
<circle cx="104.1" cy="137.5" r="0.85"/>
<circle cx="118.7" cy="132.5" r="0.85"/>
<circle cx="172.0" cy="138.1" r="0.85"/>
<circle cx="115.3" cy="132.8" r="0.85"/>
<circle cx="133.2" cy="137.8" r="0.85"/>
<circle cx="133.9" cy="138.9" r="0.85"/>
<circle cx="200.4" cy="139.3" r="0.85"/>
<circle cx="125.6" cy="139.2" r="0.85"/>
<circle cx="125.3" cy="138.6" r="0.85"/>
<circle cx="101.1" cy="139.2" r="0.85"/>
<circle cx="142.4" cy="135.2" r="0.85"/>
<circle cx="106.5" cy="137.9" r="0.85"/>
<circle cx="131.4" cy="138.9" r="0.85"/>
<circle cx="140.4" cy="137.3" r="0.85"/>
<circle cx="118.6" cy="136.7" r="0.85"/>
<circle cx="148.9" cy="135.9" r="0.85"/>
<circle cx="118.8" cy="136.0" r="0.85"/>
<circle cx="148.9" cy="131.6" r="0.85"/>
<circle cx="188.0" cy="138.4" r="0.85"/>
<circle cx="124.6" cy="134.5" r="0.85"/>
<circle cx="152.3" cy="137.4" r="0.85"/>
<circle cx="168.0" cy="138.1" r="0.85"/>
<circle cx="110.5" cy="138.6" r="0.85"/>
<circle cx="115.9" cy="135.2" r="0.85"/>
<circle cx="140.3" cy="137.3" r="0.85"/>
<circle cx="159.2" cy="135.3" r="0.85"/>
<circle cx="103.0" cy="135.5" r="0.85"/>
<circle cx="118.3" cy="135.6" r="0.85"/>
<circle cx="93.1" cy="137.6" r="0.85"/>
<circle cx="83.8" cy="139.0" r="0.85"/>
<circle cx="104.0" cy="132.5" r="0.85"/>
<circle cx="106.7" cy="131.9" r="0.85"/>
<circle cx="106.1" cy="131.5" r="0.85"/>
<circle cx="147.6" cy="135.4" r="0.85"/>
<circle cx="149.3" cy="136.5" r="0.85"/>
<circle cx="109.6" cy="137.6" r="0.85"/>
<circle cx="177.8" cy="132.1" r="0.85"/>
<circle cx="162.4" cy="132.7" r="0.85"/>
<circle cx="178.6" cy="133.5" r="0.85"/>
<circle cx="141.9" cy="137.9" r="0.85"/>
<circle cx="114.8" cy="136.5" r="0.85"/>
<circle cx="152.8" cy="131.8" r="0.85"/>
<circle cx="157.1" cy="138.9" r="0.85"/>
<circle cx="187.0" cy="134.1" r="0.85"/>
<circle cx="177.5" cy="138.0" r="0.85"/>
<circle cx="137.3" cy="136.7" r="0.85"/>
<circle cx="81.2" cy="136.0" r="0.85"/>
<circle cx="175.4" cy="132.5" r="0.85"/>
<circle cx="166.3" cy="135.3" r="0.85"/>
<circle cx="121.7" cy="137.2" r="0.85"/>
<circle cx="156.7" cy="137.5" r="0.85"/>
<circle cx="170.4" cy="132.9" r="0.85"/>
<circle cx="112.7" cy="137.1" r="0.85"/>
<circle cx="131.6" cy="138.1" r="0.85"/>
<circle cx="154.1" cy="131.7" r="0.85"/>
<circle cx="111.3" cy="131.4" r="0.85"/>
<circle cx="126.0" cy="135.2" r="0.85"/>
<circle cx="116.8" cy="137.1" r="0.85"/>
<circle cx="127.2" cy="136.1" r="0.85"/>
<circle cx="134.2" cy="138.0" r="0.85"/>
<circle cx="106.0" cy="137.7" r="0.85"/>
<circle cx="134.9" cy="139.2" r="0.85"/>
<circle cx="155.3" cy="136.4" r="0.85"/>
<circle cx="166.7" cy="135.9" r="0.85"/>
<circle cx="122.8" cy="138.1" r="0.85"/>
<circle cx="145.7" cy="136.0" r="0.85"/>
<circle cx="130.6" cy="137.6" r="0.85"/>
<circle cx="97.5" cy="132.6" r="0.85"/>
<circle cx="89.3" cy="136.3" r="0.85"/>
<circle cx="142.0" cy="138.2" r="0.85"/>
<circle cx="81.0" cy="138.8" r="0.85"/>
<circle cx="128.2" cy="136.9" r="0.85"/>
<circle cx="172.1" cy="133.0" r="0.85"/>
<circle cx="126.4" cy="137.6" r="0.85"/>
<circle cx="107.9" cy="135.4" r="0.85"/>
<circle cx="188.8" cy="139.1" r="0.85"/>
<circle cx="129.2" cy="138.1" r="0.85"/>
<circle cx="170.9" cy="135.8" r="0.85"/>
<circle cx="132.8" cy="137.8" r="0.85"/>
<circle cx="109.1" cy="134.3" r="0.85"/>
<circle cx="130.6" cy="139.3" r="0.85"/>
<circle cx="121.4" cy="139.3" r="0.85"/>
<circle cx="112.6" cy="138.5" r="0.85"/>
<circle cx="184.1" cy="136.2" r="0.85"/>
<circle cx="151.0" cy="136.8" r="0.85"/>
<circle cx="89.2" cy="137.7" r="0.85"/>
<circle cx="153.0" cy="136.0" r="0.85"/>
<circle cx="112.1" cy="132.0" r="0.85"/>
<circle cx="143.5" cy="136.3" r="0.85"/>
<circle cx="96.9" cy="136.2" r="0.85"/>
<circle cx="120.1" cy="136.6" r="0.85"/>
<circle cx="164.9" cy="132.9" r="0.85"/>
<circle cx="84.4" cy="137.3" r="0.85"/>
<circle cx="142.0" cy="133.7" r="0.85"/>
<circle cx="175.5" cy="136.2" r="0.85"/>
<circle cx="132.6" cy="137.7" r="0.85"/>
<circle cx="158.6" cy="133.8" r="0.85"/>
<circle cx="113.4" cy="133.9" r="0.85"/>
<circle cx="137.6" cy="135.1" r="0.85"/>
<circle cx="103.7" cy="133.5" r="0.85"/>
<circle cx="97.9" cy="137.4" r="0.85"/>
<circle cx="154.6" cy="137.6" r="0.85"/>
<circle cx="149.8" cy="131.8" r="0.85"/>
<circle cx="133.1" cy="137.9" r="0.85"/>
<circle cx="182.2" cy="136.7" r="0.85"/>
<circle cx="124.0" cy="135.5" r="0.85"/>
<circle cx="93.7" cy="137.7" r="0.85"/>
<circle cx="146.4" cy="134.9" r="0.85"/>
<circle cx="91.3" cy="134.6" r="0.85"/>
<circle cx="125.0" cy="138.1" r="0.85"/>
<circle cx="119.0" cy="134.8" r="0.85"/>
<circle cx="159.6" cy="137.0" r="0.85"/>
<circle cx="128.1" cy="138.9" r="0.85"/>
<circle cx="134.2" cy="138.0" r="0.85"/>
<circle cx="165.2" cy="131.4" r="0.85"/>
<circle cx="132.0" cy="137.9" r="0.85"/>
<circle cx="122.1" cy="135.3" r="0.85"/>
<circle cx="122.9" cy="137.9" r="0.85"/>
<circle cx="169.2" cy="134.9" r="0.85"/>
<circle cx="108.7" cy="138.2" r="0.85"/>
<circle cx="158.9" cy="132.1" r="0.85"/>
<circle cx="106.0" cy="137.9" r="0.85"/>
<circle cx="170.8" cy="133.2" r="0.85"/>
<circle cx="155.9" cy="135.3" r="0.85"/>
<circle cx="177.9" cy="133.0" r="0.85"/>
<circle cx="141.6" cy="135.1" r="0.85"/>
<circle cx="107.8" cy="137.6" r="0.85"/>
<circle cx="176.3" cy="137.0" r="0.85"/>
<circle cx="145.8" cy="134.6" r="0.85"/>
<circle cx="102.6" cy="137.5" r="0.85"/>
<circle cx="104.5" cy="138.1" r="0.85"/>
<circle cx="117.9" cy="136.0" r="0.85"/>
<circle cx="159.0" cy="133.7" r="0.85"/>
<circle cx="86.0" cy="137.6" r="0.85"/>
<circle cx="101.7" cy="132.0" r="0.85"/>
<circle cx="103.0" cy="136.4" r="0.85"/>
<circle cx="132.2" cy="137.9" r="0.85"/>
<circle cx="126.3" cy="135.9" r="0.85"/>
<circle cx="124.3" cy="139.2" r="0.85"/>
<circle cx="128.3" cy="136.1" r="0.85"/>
<circle cx="139.4" cy="138.9" r="0.85"/>
<circle cx="127.1" cy="136.7" r="0.85"/>
<circle cx="128.6" cy="137.2" r="0.85"/>
<circle cx="169.4" cy="135.5" r="0.85"/>
<circle cx="112.6" cy="136.4" r="0.85"/>
<circle cx="125.2" cy="138.0" r="0.85"/>
<circle cx="154.6" cy="134.5" r="0.85"/>
<circle cx="135.9" cy="139.0" r="0.85"/>
<circle cx="134.4" cy="137.8" r="0.85"/>
<circle cx="164.6" cy="134.2" r="0.85"/>
<circle cx="107.2" cy="133.6" r="0.85"/>
<circle cx="113.1" cy="135.2" r="0.85"/>
<circle cx="146.3" cy="135.1" r="0.85"/>
<circle cx="146.0" cy="137.6" r="0.85"/>
<circle cx="83.9" cy="138.1" r="0.85"/>
<circle cx="143.4" cy="137.4" r="0.85"/>
<circle cx="101.3" cy="132.1" r="0.85"/>
<circle cx="162.3" cy="133.6" r="0.85"/>
<circle cx="132.6" cy="138.5" r="0.85"/>
<circle cx="188.5" cy="134.0" r="0.85"/>
<circle cx="83.3" cy="138.3" r="0.85"/>
<circle cx="144.1" cy="135.7" r="0.85"/>
<circle cx="82.6" cy="135.8" r="0.85"/>
<circle cx="143.3" cy="132.6" r="0.85"/>
<circle cx="133.1" cy="139.0" r="0.85"/>
<circle cx="126.2" cy="137.0" r="0.85"/>
<circle cx="130.1" cy="137.4" r="0.85"/>
<circle cx="124.7" cy="136.5" r="0.85"/>
<circle cx="82.9" cy="136.5" r="0.85"/>
<circle cx="145.4" cy="135.9" r="0.85"/>
<circle cx="117.2" cy="134.3" r="0.85"/>
<circle cx="161.0" cy="137.6" r="0.85"/>
<circle cx="135.8" cy="136.6" r="0.85"/>
<circle cx="142.9" cy="133.0" r="0.85"/>
<circle cx="161.5" cy="137.2" r="0.85"/>
<circle cx="167.5" cy="133.1" r="0.85"/>
<circle cx="154.3" cy="139.1" r="0.85"/>
<circle cx="91.9" cy="138.1" r="0.85"/>
<circle cx="148.0" cy="131.4" r="0.85"/>
<circle cx="157.3" cy="137.2" r="0.85"/>
<circle cx="97.6" cy="134.6" r="0.85"/>
<circle cx="140.4" cy="136.2" r="0.85"/>
<circle cx="130.9" cy="137.5" r="0.85"/>
<circle cx="130.3" cy="138.2" r="0.85"/>
<circle cx="104.7" cy="137.1" r="0.85"/>
<circle cx="161.1" cy="138.8" r="0.85"/>
<circle cx="118.5" cy="137.6" r="0.85"/>
<circle cx="154.9" cy="131.2" r="0.85"/>
<circle cx="102.5" cy="134.2" r="0.85"/>
<circle cx="128.0" cy="139.2" r="0.85"/>
<circle cx="106.0" cy="136.2" r="0.85"/>
<circle cx="139.2" cy="134.4" r="0.85"/>
<circle cx="135.5" cy="138.2" r="0.85"/>
<circle cx="88.7" cy="138.4" r="0.85"/>
<circle cx="104.1" cy="135.2" r="0.85"/>
<circle cx="146.9" cy="137.4" r="0.85"/>
<circle cx="132.2" cy="137.6" r="0.85"/>
<circle cx="124.0" cy="138.4" r="0.85"/>
<circle cx="152.5" cy="133.2" r="0.85"/>
<circle cx="167.3" cy="139.0" r="0.85"/>
<circle cx="92.8" cy="138.4" r="0.85"/>
<circle cx="105.7" cy="139.2" r="0.85"/>
<circle cx="123.0" cy="138.9" r="0.85"/>
<circle cx="152.5" cy="131.7" r="0.85"/>
<circle cx="106.6" cy="138.5" r="0.85"/>
<circle cx="138.0" cy="138.5" r="0.85"/>
<circle cx="144.8" cy="138.1" r="0.85"/>
<circle cx="110.7" cy="138.1" r="0.85"/>
<circle cx="128.5" cy="137.7" r="0.85"/>
<circle cx="126.9" cy="137.0" r="0.85"/>
<circle cx="134.8" cy="138.3" r="0.85"/>
<circle cx="158.3" cy="136.1" r="0.85"/>
<circle cx="112.8" cy="131.5" r="0.85"/>
<circle cx="105.4" cy="136.3" r="0.85"/>
<circle cx="191.4" cy="139.2" r="0.85"/>
<circle cx="159.2" cy="137.0" r="0.85"/>
<circle cx="175.3" cy="133.9" r="0.85"/>
<circle cx="97.7" cy="136.4" r="0.85"/>
<circle cx="172.9" cy="138.5" r="0.85"/>
<circle cx="169.6" cy="132.2" r="0.85"/>
<circle cx="85.4" cy="135.1" r="0.85"/>
<circle cx="96.0" cy="133.0" r="0.85"/>
<circle cx="182.4" cy="134.9" r="0.85"/>
<circle cx="92.3" cy="136.8" r="0.85"/>
<circle cx="162.4" cy="138.9" r="0.85"/>
<circle cx="164.9" cy="137.1" r="0.85"/>
<circle cx="121.3" cy="136.6" r="0.85"/>
<circle cx="201.5" cy="138.4" r="0.85"/>
<circle cx="123.9" cy="135.8" r="0.85"/>
<circle cx="143.2" cy="135.6" r="0.85"/>
<circle cx="120.6" cy="139.4" r="0.85"/>
<circle cx="155.4" cy="137.1" r="0.85"/>
<circle cx="156.3" cy="138.9" r="0.85"/>
<circle cx="103.8" cy="135.4" r="0.85"/>
<circle cx="184.7" cy="133.4" r="0.85"/>
<circle cx="134.0" cy="138.5" r="0.85"/>
<circle cx="118.4" cy="135.9" r="0.85"/>
<circle cx="170.6" cy="138.1" r="0.85"/>
<circle cx="198.9" cy="138.5" r="0.85"/>
<circle cx="137.1" cy="137.6" r="0.85"/>
<circle cx="139.3" cy="135.6" r="0.85"/>
<circle cx="104.6" cy="138.9" r="0.85"/>
<circle cx="89.9" cy="135.4" r="0.85"/>
<circle cx="145.2" cy="132.8" r="0.85"/>
<circle cx="160.1" cy="139.2" r="0.85"/>
<circle cx="156.4" cy="139.2" r="0.85"/>
<circle cx="161.3" cy="138.3" r="0.85"/>
<circle cx="145.4" cy="133.0" r="0.85"/>
<circle cx="160.1" cy="133.3" r="0.85"/>
<circle cx="145.5" cy="134.9" r="0.85"/>
<circle cx="161.4" cy="131.3" r="0.85"/>
<circle cx="158.6" cy="132.9" r="0.85"/>
<circle cx="130.2" cy="138.2" r="0.85"/>
<circle cx="134.4" cy="137.5" r="0.85"/>
<circle cx="125.3" cy="138.8" r="0.85"/>
<circle cx="133.2" cy="137.7" r="0.85"/>
<circle cx="176.4" cy="137.2" r="0.85"/>
<circle cx="89.9" cy="137.1" r="0.85"/>
<circle cx="136.4" cy="137.8" r="0.85"/>
<circle cx="132.1" cy="138.6" r="0.85"/>
<circle cx="79.7" cy="138.0" r="0.85"/>
<circle cx="127.6" cy="138.9" r="0.85"/>
<circle cx="121.2" cy="135.6" r="0.85"/>
<circle cx="131.3" cy="138.8" r="0.85"/>
<circle cx="146.6" cy="139.3" r="0.85"/>
<circle cx="136.2" cy="138.9" r="0.85"/>
<circle cx="122.9" cy="134.3" r="0.85"/>
<circle cx="82.0" cy="136.7" r="0.85"/>
<circle cx="102.5" cy="139.0" r="0.85"/>
<circle cx="117.1" cy="138.2" r="0.85"/>
<circle cx="87.8" cy="139.2" r="0.85"/>
<circle cx="144.8" cy="135.9" r="0.85"/>
<circle cx="176.1" cy="137.8" r="0.85"/>
<circle cx="111.9" cy="136.9" r="0.85"/>
<circle cx="100.7" cy="134.1" r="0.85"/>
<circle cx="117.2" cy="131.9" r="0.85"/>
<circle cx="153.7" cy="136.7" r="0.85"/>
<circle cx="190.7" cy="135.0" r="0.85"/>
<circle cx="120.4" cy="135.7" r="0.85"/>
<circle cx="185.7" cy="137.8" r="0.85"/>
<circle cx="133.4" cy="138.6" r="0.85"/>
<circle cx="132.1" cy="138.7" r="0.85"/>
<circle cx="92.7" cy="134.9" r="0.85"/>
<circle cx="133.7" cy="139.1" r="0.85"/>
<circle cx="155.7" cy="135.3" r="0.85"/>
<circle cx="173.5" cy="136.4" r="0.85"/>
<circle cx="163.2" cy="134.3" r="0.85"/>
<circle cx="192.6" cy="135.7" r="0.85"/>
<circle cx="102.2" cy="134.3" r="0.85"/>
<circle cx="199.3" cy="137.7" r="0.85"/>
<circle cx="106.5" cy="136.3" r="0.85"/>
<circle cx="110.3" cy="136.5" r="0.85"/>
<circle cx="159.9" cy="132.3" r="0.85"/>
<circle cx="161.3" cy="132.3" r="0.85"/>
<circle cx="122.2" cy="137.5" r="0.85"/>
<circle cx="119.3" cy="133.6" r="0.85"/>
<circle cx="112.9" cy="136.2" r="0.85"/>
<circle cx="155.4" cy="131.9" r="0.85"/>
<circle cx="160.7" cy="137.3" r="0.85"/>
<circle cx="102.9" cy="132.1" r="0.85"/>
<circle cx="117.6" cy="137.1" r="0.85"/>
<circle cx="136.4" cy="138.3" r="0.85"/>
<circle cx="140.7" cy="138.3" r="0.85"/>
<circle cx="113.3" cy="138.8" r="0.85"/>
<circle cx="151.8" cy="139.3" r="0.85"/>
<circle cx="116.4" cy="139.1" r="0.85"/>
<circle cx="121.3" cy="137.2" r="0.85"/>
<circle cx="120.3" cy="133.1" r="0.85"/>
<circle cx="148.1" cy="138.3" r="0.85"/>
<circle cx="85.3" cy="136.7" r="0.85"/>
<circle cx="154.6" cy="138.1" r="0.85"/>
<circle cx="148.6" cy="131.9" r="0.85"/>
<circle cx="171.9" cy="134.0" r="0.85"/>
<circle cx="147.5" cy="132.9" r="0.85"/>
<circle cx="150.0" cy="135.9" r="0.85"/>
<circle cx="158.7" cy="133.4" r="0.85"/>
<circle cx="94.9" cy="133.7" r="0.85"/>
<circle cx="115.5" cy="138.2" r="0.85"/>
<circle cx="166.5" cy="136.8" r="0.85"/>
<circle cx="185.7" cy="136.5" r="0.85"/>
<circle cx="126.0" cy="138.0" r="0.85"/>
<circle cx="177.8" cy="139.4" r="0.85"/>
<circle cx="175.2" cy="138.7" r="0.85"/>
<circle cx="82.6" cy="138.3" r="0.85"/>
<circle cx="150.2" cy="133.8" r="0.85"/>
<circle cx="117.5" cy="135.7" r="0.85"/>
<circle cx="131.6" cy="138.1" r="0.85"/>
<circle cx="144.2" cy="135.5" r="0.85"/>
<circle cx="146.0" cy="139.4" r="0.85"/>
<circle cx="181.9" cy="136.8" r="0.85"/>
<circle cx="164.3" cy="137.9" r="0.85"/>
<circle cx="179.7" cy="132.6" r="0.85"/>
<circle cx="142.7" cy="133.4" r="0.85"/>
<circle cx="135.1" cy="139.0" r="0.85"/>
<circle cx="148.9" cy="137.4" r="0.85"/>
<circle cx="125.8" cy="137.5" r="0.85"/>
<circle cx="92.4" cy="136.4" r="0.85"/>
<circle cx="98.2" cy="133.9" r="0.85"/>
<circle cx="144.0" cy="135.3" r="0.85"/>
<circle cx="156.8" cy="136.4" r="0.85"/>
<circle cx="140.5" cy="139.0" r="0.85"/>
<circle cx="177.0" cy="139.2" r="0.85"/>
<circle cx="117.3" cy="136.4" r="0.85"/>
<circle cx="154.9" cy="132.4" r="0.85"/>
<circle cx="158.4" cy="137.9" r="0.85"/>
<circle cx="174.9" cy="137.6" r="0.85"/>
<circle cx="176.1" cy="138.8" r="0.85"/>
<circle cx="137.7" cy="138.0" r="0.85"/>
<circle cx="169.1" cy="136.9" r="0.85"/>
<circle cx="116.9" cy="132.9" r="0.85"/>
<circle cx="155.4" cy="132.6" r="0.85"/>
<circle cx="151.5" cy="131.4" r="0.85"/>
<circle cx="95.8" cy="132.3" r="0.85"/>
<circle cx="137.9" cy="138.0" r="0.85"/>
<circle cx="122.1" cy="134.4" r="0.85"/>
<circle cx="148.6" cy="132.2" r="0.85"/>
<circle cx="183.5" cy="139.1" r="0.85"/>
<circle cx="127.1" cy="135.7" r="0.85"/>
<circle cx="158.1" cy="132.6" r="0.85"/>
<circle cx="134.8" cy="138.3" r="0.85"/>
<circle cx="173.1" cy="138.9" r="0.85"/>
<circle cx="107.7" cy="136.1" r="0.85"/>
<circle cx="149.7" cy="137.0" r="0.85"/>
<circle cx="123.7" cy="136.8" r="0.85"/>
<circle cx="114.2" cy="137.1" r="0.85"/>
<circle cx="127.8" cy="139.0" r="0.85"/>
<circle cx="153.3" cy="135.4" r="0.85"/>
<circle cx="150.4" cy="135.7" r="0.85"/>
<circle cx="117.9" cy="139.2" r="0.85"/>
<circle cx="140.5" cy="136.6" r="0.85"/>
<circle cx="103.5" cy="133.1" r="0.85"/>
<circle cx="145.9" cy="132.3" r="0.85"/>
<circle cx="161.0" cy="135.5" r="0.85"/>
<circle cx="89.2" cy="136.1" r="0.85"/>
<circle cx="153.9" cy="139.0" r="0.85"/>
<circle cx="153.5" cy="134.4" r="0.85"/>
<circle cx="80.1" cy="137.7" r="0.85"/>
<circle cx="90.2" cy="133.8" r="0.85"/>
<circle cx="121.2" cy="134.6" r="0.85"/>
<circle cx="128.5" cy="137.0" r="0.85"/>
<circle cx="135.9" cy="138.6" r="0.85"/>
<circle cx="187.6" cy="134.7" r="0.85"/>
<circle cx="131.8" cy="139.2" r="0.85"/>
<circle cx="168.4" cy="138.9" r="0.85"/>
<circle cx="142.1" cy="139.2" r="0.85"/>
<circle cx="127.7" cy="136.2" r="0.85"/>
<circle cx="89.7" cy="136.8" r="0.85"/>
<circle cx="143.4" cy="134.8" r="0.85"/>
<circle cx="121.2" cy="136.4" r="0.85"/>
<circle cx="155.3" cy="134.4" r="0.85"/>
<circle cx="194.4" cy="134.9" r="0.85"/>
<circle cx="103.2" cy="137.4" r="0.85"/>
<circle cx="113.1" cy="136.5" r="0.85"/>
<circle cx="114.1" cy="139.2" r="0.85"/>
<circle cx="107.7" cy="137.6" r="0.85"/>
<circle cx="182.6" cy="139.1" r="0.85"/>
<circle cx="135.8" cy="136.1" r="0.85"/>
<circle cx="176.4" cy="138.6" r="0.85"/>
<circle cx="199.6" cy="136.4" r="0.85"/>
<circle cx="132.9" cy="138.2" r="0.85"/>
<circle cx="92.2" cy="136.1" r="0.85"/>
<circle cx="118.1" cy="138.3" r="0.85"/>
<circle cx="101.0" cy="137.5" r="0.85"/>
<circle cx="196.8" cy="135.1" r="0.85"/>
<circle cx="183.6" cy="134.0" r="0.85"/>
<circle cx="164.7" cy="138.8" r="0.85"/>
<circle cx="182.0" cy="133.6" r="0.85"/>
<circle cx="170.2" cy="135.3" r="0.85"/>
<circle cx="202.0" cy="137.7" r="0.85"/>
<circle cx="148.5" cy="133.8" r="0.85"/>
<circle cx="110.3" cy="138.8" r="0.85"/>
<circle cx="167.4" cy="132.7" r="0.85"/>
<circle cx="159.4" cy="137.7" r="0.85"/>
<circle cx="120.8" cy="138.7" r="0.85"/>
<circle cx="106.0" cy="136.1" r="0.85"/>
<circle cx="136.2" cy="137.8" r="0.85"/>
<circle cx="150.7" cy="131.8" r="0.85"/>
<circle cx="182.2" cy="135.2" r="0.85"/>
<circle cx="153.2" cy="136.4" r="0.85"/>
<circle cx="140.1" cy="139.0" r="0.85"/>
<circle cx="168.4" cy="131.8" r="0.85"/>
<circle cx="146.0" cy="134.6" r="0.85"/>
<circle cx="198.0" cy="135.8" r="0.85"/>
<circle cx="133.2" cy="139.4" r="0.85"/>
<circle cx="102.5" cy="134.3" r="0.85"/>
<circle cx="96.7" cy="139.4" r="0.85"/>
<circle cx="154.6" cy="131.2" r="0.85"/>
<circle cx="158.9" cy="131.1" r="0.85"/>
<circle cx="100.3" cy="132.1" r="0.85"/>
<circle cx="155.2" cy="136.5" r="0.85"/>
<circle cx="124.8" cy="138.1" r="0.85"/>
<circle cx="135.2" cy="139.1" r="0.85"/>
<circle cx="123.8" cy="136.2" r="0.85"/>
<circle cx="141.4" cy="134.5" r="0.85"/>
<circle cx="149.6" cy="135.0" r="0.85"/>
<circle cx="131.4" cy="139.4" r="0.85"/>
<circle cx="149.7" cy="135.3" r="0.85"/>
<circle cx="121.4" cy="137.7" r="0.85"/>
<circle cx="154.4" cy="137.0" r="0.85"/>
<circle cx="173.4" cy="133.7" r="0.85"/>
<circle cx="142.7" cy="133.7" r="0.85"/>
<circle cx="80.8" cy="138.9" r="0.85"/>
<circle cx="182.5" cy="132.7" r="0.85"/>
<circle cx="94.1" cy="135.6" r="0.85"/>
<circle cx="123.4" cy="134.1" r="0.85"/>
<circle cx="125.7" cy="138.2" r="0.85"/>
<circle cx="123.5" cy="139.0" r="0.85"/>
<circle cx="132.7" cy="138.7" r="0.85"/>
<circle cx="150.7" cy="136.7" r="0.85"/>
<circle cx="195.4" cy="135.1" r="0.85"/>
<circle cx="106.5" cy="132.5" r="0.85"/>
<circle cx="92.0" cy="135.7" r="0.85"/>
<circle cx="181.8" cy="138.5" r="0.85"/>
<circle cx="142.0" cy="139.4" r="0.85"/>
<circle cx="81.5" cy="135.9" r="0.85"/>
<circle cx="138.0" cy="137.4" r="0.85"/>
<circle cx="168.3" cy="133.6" r="0.85"/>
<circle cx="79.1" cy="137.1" r="0.85"/>
<circle cx="124.7" cy="135.9" r="0.85"/>
<circle cx="116.3" cy="133.0" r="0.85"/>
<circle cx="108.3" cy="137.1" r="0.85"/>
<circle cx="149.1" cy="132.0" r="0.85"/>
<circle cx="136.8" cy="138.6" r="0.85"/>
<circle cx="110.7" cy="131.3" r="0.85"/>
<circle cx="200.9" cy="137.1" r="0.85"/>
<circle cx="137.7" cy="136.7" r="0.85"/>
<circle cx="140.3" cy="134.1" r="0.85"/>
<circle cx="135.5" cy="138.9" r="0.85"/>
<circle cx="150.8" cy="135.3" r="0.85"/>
<circle cx="93.4" cy="137.3" r="0.85"/>
<circle cx="142.7" cy="138.7" r="0.85"/>
<circle cx="177.8" cy="134.8" r="0.85"/>
<circle cx="80.2" cy="136.8" r="0.85"/>
<circle cx="116.0" cy="133.3" r="0.85"/>
<circle cx="91.3" cy="138.4" r="0.85"/>
<circle cx="192.3" cy="134.5" r="0.85"/>
<circle cx="155.8" cy="131.8" r="0.85"/>
<circle cx="141.1" cy="137.6" r="0.85"/>
<circle cx="150.3" cy="138.7" r="0.85"/>
<circle cx="118.2" cy="137.8" r="0.85"/>
<circle cx="107.2" cy="138.6" r="0.85"/>
<circle cx="110.0" cy="138.9" r="0.85"/>
<circle cx="140.5" cy="134.7" r="0.85"/>
<circle cx="116.0" cy="136.1" r="0.85"/>
<circle cx="96.2" cy="132.6" r="0.85"/>
<circle cx="125.0" cy="138.3" r="0.85"/>
<circle cx="114.1" cy="134.8" r="0.85"/>
<circle cx="136.0" cy="136.8" r="0.85"/>
<circle cx="145.4" cy="132.1" r="0.85"/>
<circle cx="187.8" cy="137.1" r="0.85"/>
<circle cx="95.7" cy="134.2" r="0.85"/>
<circle cx="100.7" cy="139.4" r="0.85"/>
<circle cx="137.5" cy="139.0" r="0.85"/>
<circle cx="152.2" cy="135.4" r="0.85"/>
<circle cx="125.5" cy="138.8" r="0.85"/>
<circle cx="123.4" cy="135.9" r="0.85"/>
<circle cx="180.8" cy="138.4" r="0.85"/>
<circle cx="151.2" cy="139.2" r="0.85"/>
<circle cx="162.0" cy="132.6" r="0.85"/>
<circle cx="155.9" cy="131.8" r="0.85"/>
<circle cx="181.1" cy="133.8" r="0.85"/>
<circle cx="129.1" cy="137.1" r="0.85"/>
<circle cx="140.6" cy="133.8" r="0.85"/>
<circle cx="89.5" cy="133.9" r="0.85"/>
<circle cx="188.0" cy="133.9" r="0.85"/>
<circle cx="154.2" cy="134.2" r="0.85"/>
<circle cx="107.1" cy="135.2" r="0.85"/>
<circle cx="80.0" cy="137.4" r="0.85"/>
<circle cx="124.1" cy="137.2" r="0.85"/>
<circle cx="169.5" cy="132.3" r="0.85"/>
<circle cx="136.1" cy="137.7" r="0.85"/>
<circle cx="141.4" cy="136.9" r="0.85"/>
<circle cx="103.1" cy="135.6" r="0.85"/>
<circle cx="140.9" cy="136.9" r="0.85"/>
<circle cx="140.5" cy="134.7" r="0.85"/>
<circle cx="154.4" cy="138.1" r="0.85"/>
<circle cx="110.8" cy="132.4" r="0.85"/>
<circle cx="112.9" cy="139.0" r="0.85"/>
<circle cx="106.4" cy="135.8" r="0.85"/>
<circle cx="195.9" cy="136.6" r="0.85"/>
<circle cx="163.5" cy="136.0" r="0.85"/>
<circle cx="100.4" cy="137.7" r="0.85"/>
<circle cx="142.7" cy="139.2" r="0.85"/>
<circle cx="186.6" cy="138.5" r="0.85"/>
<circle cx="117.5" cy="134.5" r="0.85"/>
<circle cx="170.5" cy="137.1" r="0.85"/>
<circle cx="125.3" cy="138.1" r="0.85"/>
<circle cx="107.1" cy="132.1" r="0.85"/>
<circle cx="151.1" cy="131.4" r="0.85"/>
<circle cx="119.7" cy="137.6" r="0.85"/>
<circle cx="129.3" cy="139.3" r="0.85"/>
<circle cx="144.8" cy="137.6" r="0.85"/>
<circle cx="136.0" cy="136.6" r="0.85"/>
<circle cx="120.5" cy="137.0" r="0.85"/>
<circle cx="181.0" cy="133.5" r="0.85"/>
<circle cx="151.9" cy="131.6" r="0.85"/>
<circle cx="115.0" cy="136.2" r="0.85"/>
<circle cx="123.1" cy="138.0" r="0.85"/>
<circle cx="159.2" cy="137.5" r="0.85"/>
<circle cx="104.5" cy="136.3" r="0.85"/>
<circle cx="151.2" cy="135.1" r="0.85"/>
<circle cx="108.6" cy="134.8" r="0.85"/>
<circle cx="104.9" cy="137.4" r="0.85"/>
<circle cx="122.8" cy="136.9" r="0.85"/>
<circle cx="196.3" cy="138.0" r="0.85"/>
<circle cx="107.2" cy="137.9" r="0.85"/>
<circle cx="84.7" cy="138.3" r="0.85"/>
<circle cx="130.6" cy="138.9" r="0.85"/>
<circle cx="159.7" cy="138.0" r="0.85"/>
<circle cx="147.9" cy="134.4" r="0.85"/>
<circle cx="100.5" cy="137.0" r="0.85"/>
<circle cx="137.8" cy="136.3" r="0.85"/>
<circle cx="130.4" cy="137.0" r="0.85"/>
<circle cx="101.7" cy="134.8" r="0.85"/>
<circle cx="111.0" cy="136.3" r="0.85"/>
<circle cx="130.0" cy="138.9" r="0.85"/>
<circle cx="200.9" cy="137.4" r="0.85"/>
<circle cx="154.2" cy="136.2" r="0.85"/>
<circle cx="95.2" cy="139.3" r="0.85"/>
<circle cx="127.1" cy="136.4" r="0.85"/>
<circle cx="100.8" cy="133.3" r="0.85"/>
<circle cx="113.3" cy="133.8" r="0.85"/>
<circle cx="110.8" cy="138.6" r="0.85"/>
<circle cx="126.4" cy="135.3" r="0.85"/>
<circle cx="109.1" cy="138.0" r="0.85"/>
<circle cx="124.5" cy="135.0" r="0.85"/>
<circle cx="145.1" cy="134.0" r="0.85"/>
<circle cx="124.9" cy="135.3" r="0.85"/>
<circle cx="186.3" cy="136.6" r="0.85"/>
<circle cx="126.2" cy="137.4" r="0.85"/>
<circle cx="117.6" cy="132.5" r="0.85"/>
<circle cx="154.4" cy="134.9" r="0.85"/>
<circle cx="93.0" cy="135.5" r="0.85"/>
<circle cx="119.7" cy="132.7" r="0.85"/>
<circle cx="129.7" cy="137.0" r="0.85"/>
<circle cx="164.1" cy="134.0" r="0.85"/>
<circle cx="130.3" cy="138.8" r="0.85"/>
<circle cx="147.6" cy="135.9" r="0.85"/>
<circle cx="129.4" cy="138.0" r="0.85"/>
<circle cx="177.9" cy="137.6" r="0.85"/>
<circle cx="144.5" cy="136.9" r="0.85"/>
<circle cx="167.3" cy="133.4" r="0.85"/>
<circle cx="126.2" cy="135.7" r="0.85"/>
<circle cx="116.6" cy="132.1" r="0.85"/>
<circle cx="107.8" cy="135.0" r="0.85"/>
<circle cx="152.3" cy="134.7" r="0.85"/>
<circle cx="169.9" cy="138.6" r="0.85"/>
<circle cx="141.9" cy="139.2" r="0.85"/>
<circle cx="116.0" cy="135.3" r="0.85"/>
<circle cx="141.8" cy="137.4" r="0.85"/>
<circle cx="134.4" cy="136.4" r="0.85"/>
<circle cx="153.6" cy="131.8" r="0.85"/>
<circle cx="108.0" cy="137.4" r="0.85"/>
<circle cx="122.1" cy="133.8" r="0.85"/>
<circle cx="135.2" cy="138.7" r="0.85"/>
<circle cx="140.3" cy="136.1" r="0.85"/>
<circle cx="115.5" cy="137.4" r="0.85"/>
<circle cx="96.7" cy="137.7" r="0.85"/>
<circle cx="132.5" cy="138.1" r="0.85"/>
<circle cx="202.7" cy="138.2" r="0.85"/>
<circle cx="132.6" cy="138.2" r="0.85"/>
<circle cx="163.9" cy="138.5" r="0.85"/>
<circle cx="151.5" cy="138.7" r="0.85"/>
<circle cx="140.1" cy="135.2" r="0.85"/>
<circle cx="151.6" cy="138.2" r="0.85"/>
<circle cx="167.6" cy="135.7" r="0.85"/>
<circle cx="132.6" cy="137.8" r="0.85"/>
<circle cx="175.5" cy="137.4" r="0.85"/>
<circle cx="87.1" cy="138.7" r="0.85"/>
<circle cx="146.2" cy="137.1" r="0.85"/>
<circle cx="129.8" cy="137.2" r="0.85"/>
<circle cx="132.3" cy="137.7" r="0.85"/>
<circle cx="162.3" cy="136.1" r="0.85"/>
<circle cx="103.9" cy="133.7" r="0.85"/>
<circle cx="87.7" cy="136.6" r="0.85"/>
<circle cx="101.3" cy="139.3" r="0.85"/>
<circle cx="160.1" cy="135.1" r="0.85"/>
<circle cx="131.6" cy="138.6" r="0.85"/>
<circle cx="115.3" cy="134.4" r="0.85"/>
<circle cx="123.4" cy="135.1" r="0.85"/>
<circle cx="110.3" cy="138.5" r="0.85"/>
<circle cx="133.3" cy="136.9" r="0.85"/>
<circle cx="154.2" cy="133.2" r="0.85"/>
<circle cx="125.4" cy="138.4" r="0.85"/>
<circle cx="124.9" cy="139.3" r="0.85"/>
<circle cx="198.7" cy="137.8" r="0.85"/>
<circle cx="130.1" cy="139.3" r="0.85"/>
<circle cx="82.4" cy="138.4" r="0.85"/>
<circle cx="173.1" cy="137.5" r="0.85"/>
<circle cx="98.1" cy="133.3" r="0.85"/>
<circle cx="118.4" cy="138.9" r="0.85"/>
<circle cx="131.3" cy="138.3" r="0.85"/>
<circle cx="100.2" cy="134.8" r="0.85"/>
<circle cx="142.3" cy="136.8" r="0.85"/>
<circle cx="142.5" cy="133.6" r="0.85"/>
<circle cx="180.9" cy="134.0" r="0.85"/>
<circle cx="116.4" cy="138.5" r="0.85"/>
<circle cx="127.8" cy="138.5" r="0.85"/>
<circle cx="102.1" cy="135.8" r="0.85"/>
<circle cx="123.6" cy="137.8" r="0.85"/>
<circle cx="149.8" cy="136.8" r="0.85"/>
<circle cx="119.7" cy="136.4" r="0.85"/>
<circle cx="135.3" cy="136.6" r="0.85"/>
<circle cx="199.6" cy="137.5" r="0.85"/>
<circle cx="92.2" cy="135.3" r="0.85"/>
<circle cx="145.8" cy="135.0" r="0.85"/>
<circle cx="111.5" cy="136.4" r="0.85"/>
<circle cx="128.8" cy="136.4" r="0.85"/>
<circle cx="160.9" cy="131.9" r="0.85"/>
<circle cx="176.2" cy="137.2" r="0.85"/>
<circle cx="140.4" cy="137.7" r="0.85"/>
<circle cx="161.0" cy="132.5" r="0.85"/>
<circle cx="96.7" cy="135.7" r="0.85"/>
<circle cx="127.5" cy="138.0" r="0.85"/>
<circle cx="142.0" cy="135.2" r="0.85"/>
<circle cx="115.4" cy="137.3" r="0.85"/>
<circle cx="105.5" cy="133.4" r="0.85"/>
<circle cx="118.0" cy="132.1" r="0.85"/>
<circle cx="147.3" cy="132.1" r="0.85"/>
<circle cx="125.7" cy="136.7" r="0.85"/>
<circle cx="161.7" cy="139.0" r="0.85"/>
<circle cx="134.2" cy="138.8" r="0.85"/>
<circle cx="155.1" cy="132.3" r="0.85"/>
<circle cx="163.4" cy="137.3" r="0.85"/>
<circle cx="111.6" cy="134.5" r="0.85"/>
<circle cx="138.5" cy="138.2" r="0.85"/>
<circle cx="163.0" cy="133.2" r="0.85"/>
<circle cx="138.8" cy="135.0" r="0.85"/>
<circle cx="122.9" cy="134.3" r="0.85"/>
<circle cx="117.0" cy="132.5" r="0.85"/>
<circle cx="168.9" cy="137.9" r="0.85"/>
<circle cx="93.8" cy="136.8" r="0.85"/>
<circle cx="122.8" cy="137.5" r="0.85"/>
<circle cx="146.8" cy="138.6" r="0.85"/>
<circle cx="119.5" cy="134.3" r="0.85"/>
<circle cx="154.5" cy="131.3" r="0.85"/>
<circle cx="165.1" cy="132.4" r="0.85"/>
<circle cx="194.2" cy="137.3" r="0.85"/>
<circle cx="154.7" cy="136.7" r="0.85"/>
<circle cx="143.5" cy="139.3" r="0.85"/>
<circle cx="83.3" cy="137.6" r="0.85"/>
<circle cx="152.5" cy="138.2" r="0.85"/>
<circle cx="104.9" cy="137.4" r="0.85"/>
<circle cx="81.8" cy="137.6" r="0.85"/>
<circle cx="165.1" cy="136.8" r="0.85"/>
<circle cx="118.8" cy="137.6" r="0.85"/>
<circle cx="105.9" cy="138.7" r="0.85"/>
<circle cx="83.1" cy="136.3" r="0.85"/>
<circle cx="120.6" cy="138.8" r="0.85"/>
<circle cx="99.8" cy="138.0" r="0.85"/>
<circle cx="142.0" cy="138.7" r="0.85"/>
<circle cx="151.9" cy="135.0" r="0.85"/>
<circle cx="94.3" cy="138.8" r="0.85"/>
<circle cx="83.9" cy="138.8" r="0.85"/>
<circle cx="121.3" cy="136.2" r="0.85"/>
<circle cx="174.5" cy="136.4" r="0.85"/>
<circle cx="144.1" cy="133.4" r="0.85"/>
<circle cx="111.9" cy="135.8" r="0.85"/>
<circle cx="139.1" cy="134.7" r="0.85"/>
<circle cx="203.2" cy="137.4" r="0.85"/>
<circle cx="151.6" cy="135.4" r="0.85"/>
<circle cx="141.6" cy="135.5" r="0.85"/>
<circle cx="130.6" cy="138.7" r="0.85"/>
<circle cx="127.3" cy="136.5" r="0.85"/>
<circle cx="124.2" cy="136.7" r="0.85"/>
<circle cx="175.0" cy="136.3" r="0.85"/>
<circle cx="139.9" cy="134.2" r="0.85"/>
<circle cx="144.2" cy="132.6" r="0.85"/>
<circle cx="136.2" cy="136.8" r="0.85"/>
<circle cx="103.0" cy="136.0" r="0.85"/>
<circle cx="146.7" cy="136.5" r="0.85"/>
<circle cx="141.1" cy="136.9" r="0.85"/>
<circle cx="160.9" cy="138.9" r="0.85"/>
<circle cx="130.6" cy="138.3" r="0.85"/>
<circle cx="152.7" cy="133.3" r="0.85"/>
<circle cx="199.1" cy="137.8" r="0.85"/>
<circle cx="119.4" cy="134.0" r="0.85"/>
<circle cx="114.8" cy="134.7" r="0.85"/>
<circle cx="185.3" cy="136.2" r="0.85"/>
<circle cx="137.5" cy="139.1" r="0.85"/>
<circle cx="164.1" cy="135.3" r="0.85"/>
<circle cx="119.4" cy="136.4" r="0.85"/>
<circle cx="147.8" cy="135.1" r="0.85"/>
<circle cx="174.6" cy="134.5" r="0.85"/>
<circle cx="158.0" cy="137.9" r="0.85"/>
<circle cx="97.2" cy="135.6" r="0.85"/>
<circle cx="143.4" cy="138.1" r="0.85"/>
<circle cx="150.3" cy="139.1" r="0.85"/>
<circle cx="124.4" cy="134.6" r="0.85"/>
<circle cx="117.7" cy="135.8" r="0.85"/>
<circle cx="157.8" cy="135.5" r="0.85"/>
<circle cx="169.6" cy="136.8" r="0.85"/>
<circle cx="129.2" cy="137.6" r="0.85"/>
<circle cx="93.6" cy="134.5" r="0.85"/>
<circle cx="143.7" cy="134.9" r="0.85"/>
<circle cx="101.3" cy="136.4" r="0.85"/>
<circle cx="88.1" cy="139.2" r="0.85"/>
<circle cx="154.3" cy="137.5" r="0.85"/>
<circle cx="106.4" cy="132.4" r="0.85"/>
<circle cx="164.5" cy="137.7" r="0.85"/>
<circle cx="107.8" cy="139.1" r="0.85"/>
<circle cx="188.8" cy="135.1" r="0.85"/>
<circle cx="108.4" cy="138.8" r="0.85"/>
<circle cx="199.4" cy="135.6" r="0.85"/>
<circle cx="168.1" cy="134.0" r="0.85"/>
<circle cx="172.1" cy="135.2" r="0.85"/>
<circle cx="133.5" cy="138.2" r="0.85"/>
<circle cx="154.0" cy="132.8" r="0.85"/>
<circle cx="151.8" cy="131.9" r="0.85"/>
<circle cx="118.5" cy="139.2" r="0.85"/>
<circle cx="126.7" cy="136.9" r="0.85"/>
<circle cx="146.0" cy="133.6" r="0.85"/>
<circle cx="95.5" cy="134.7" r="0.85"/>
<circle cx="137.8" cy="137.8" r="0.85"/>
<circle cx="145.2" cy="136.9" r="0.85"/>
<circle cx="152.8" cy="132.8" r="0.85"/>
<circle cx="182.0" cy="134.0" r="0.85"/>
<circle cx="128.5" cy="138.4" r="0.85"/>
<circle cx="100.2" cy="139.3" r="0.85"/>
<circle cx="160.3" cy="139.0" r="0.85"/>
<circle cx="107.7" cy="134.9" r="0.85"/>
<circle cx="113.3" cy="134.7" r="0.85"/>
<circle cx="127.9" cy="138.9" r="0.85"/>
<circle cx="150.0" cy="136.3" r="0.85"/>
<circle cx="124.8" cy="136.4" r="0.85"/>
<circle cx="116.4" cy="133.2" r="0.85"/>
<circle cx="100.8" cy="132.8" r="0.85"/>
<circle cx="111.6" cy="131.8" r="0.85"/>
<circle cx="176.4" cy="136.6" r="0.85"/>
<circle cx="124.8" cy="138.5" r="0.85"/>
<circle cx="124.6" cy="136.2" r="0.85"/>
<circle cx="172.5" cy="135.0" r="0.85"/>
<circle cx="112.9" cy="136.7" r="0.85"/>
<circle cx="171.5" cy="136.9" r="0.85"/>
<circle cx="165.3" cy="131.2" r="0.85"/>
<circle cx="137.9" cy="135.0" r="0.85"/>
<circle cx="107.3" cy="135.4" r="0.85"/>
<circle cx="187.3" cy="137.4" r="0.85"/>
<circle cx="142.0" cy="138.9" r="0.85"/>
<circle cx="170.4" cy="131.5" r="0.85"/>
<circle cx="142.4" cy="138.8" r="0.85"/>
<circle cx="139.4" cy="135.3" r="0.85"/>
<circle cx="155.9" cy="134.7" r="0.85"/>
<circle cx="140.0" cy="137.0" r="0.85"/>
<circle cx="141.6" cy="133.6" r="0.85"/>
<circle cx="134.4" cy="139.1" r="0.85"/>
<circle cx="102.1" cy="134.4" r="0.85"/>
<circle cx="121.5" cy="136.9" r="0.85"/>
<circle cx="157.5" cy="136.3" r="0.85"/>
<circle cx="162.7" cy="132.6" r="0.85"/>
<circle cx="113.6" cy="131.6" r="0.85"/>
<circle cx="144.2" cy="138.0" r="0.85"/>
<circle cx="162.8" cy="138.8" r="0.85"/>
<circle cx="136.4" cy="137.4" r="0.85"/>
<circle cx="141.2" cy="137.5" r="0.85"/>
<circle cx="80.4" cy="136.3" r="0.85"/>
<circle cx="165.0" cy="138.0" r="0.85"/>
<circle cx="126.2" cy="135.5" r="0.85"/>
<circle cx="125.9" cy="137.6" r="0.85"/>
<circle cx="150.6" cy="137.9" r="0.85"/>
<circle cx="125.1" cy="138.4" r="0.85"/>
<circle cx="123.3" cy="138.1" r="0.85"/>
<circle cx="117.0" cy="132.8" r="0.85"/>
<circle cx="101.2" cy="136.8" r="0.85"/>
<circle cx="87.7" cy="136.1" r="0.85"/>
<circle cx="117.0" cy="137.4" r="0.85"/>
<circle cx="127.9" cy="139.2" r="0.85"/>
<circle cx="176.3" cy="132.0" r="0.85"/>
<circle cx="159.4" cy="131.3" r="0.85"/>
<circle cx="157.6" cy="136.4" r="0.85"/>
<circle cx="134.6" cy="139.2" r="0.85"/>
<circle cx="160.1" cy="135.4" r="0.85"/>
<circle cx="136.6" cy="135.7" r="0.85"/>
<circle cx="138.4" cy="135.6" r="0.85"/>
<circle cx="134.5" cy="138.3" r="0.85"/>
<circle cx="119.2" cy="138.1" r="0.85"/>
<circle cx="91.6" cy="138.7" r="0.85"/>
<circle cx="106.3" cy="135.2" r="0.85"/>
<circle cx="151.2" cy="131.8" r="0.85"/>
<circle cx="163.4" cy="133.2" r="0.85"/>
<circle cx="162.2" cy="133.9" r="0.85"/>
<circle cx="117.8" cy="135.2" r="0.85"/>
<circle cx="112.5" cy="137.8" r="0.85"/>
<circle cx="119.2" cy="134.8" r="0.85"/>
<circle cx="169.3" cy="137.7" r="0.85"/>
<circle cx="104.6" cy="135.5" r="0.85"/>
<circle cx="156.0" cy="133.6" r="0.85"/>
<circle cx="85.6" cy="136.4" r="0.85"/>
<circle cx="111.8" cy="135.2" r="0.85"/>
<circle cx="186.7" cy="136.7" r="0.85"/>
<circle cx="160.2" cy="132.7" r="0.85"/>
<circle cx="82.9" cy="138.5" r="0.85"/>
<circle cx="115.0" cy="132.6" r="0.85"/>
<circle cx="103.0" cy="135.3" r="0.85"/>
<circle cx="167.3" cy="134.5" r="0.85"/>
<circle cx="193.4" cy="138.9" r="0.85"/>
<circle cx="111.4" cy="134.3" r="0.85"/>
<circle cx="111.7" cy="136.8" r="0.85"/>
<circle cx="176.2" cy="131.8" r="0.85"/>
<circle cx="105.8" cy="131.4" r="0.85"/>
<circle cx="110.0" cy="138.6" r="0.85"/>
<circle cx="105.3" cy="137.2" r="0.85"/>
<circle cx="127.6" cy="139.1" r="0.85"/>
<circle cx="146.1" cy="132.8" r="0.85"/>
<circle cx="127.9" cy="137.5" r="0.85"/>
<circle cx="174.0" cy="133.4" r="0.85"/>
<circle cx="136.7" cy="139.1" r="0.85"/>
<circle cx="146.9" cy="137.8" r="0.85"/>
<circle cx="129.7" cy="137.2" r="0.85"/>
<circle cx="129.5" cy="138.8" r="0.85"/>
<circle cx="127.0" cy="136.6" r="0.85"/>
<circle cx="151.5" cy="135.9" r="0.85"/>
<circle cx="145.1" cy="138.1" r="0.85"/>
<circle cx="96.9" cy="134.7" r="0.85"/>
<circle cx="90.1" cy="135.8" r="0.85"/>
<circle cx="86.1" cy="135.2" r="0.85"/>
<circle cx="93.1" cy="133.2" r="0.85"/>
<circle cx="98.4" cy="136.0" r="0.85"/>
<circle cx="117.6" cy="133.9" r="0.85"/>
<circle cx="127.3" cy="139.4" r="0.85"/>
<circle cx="90.0" cy="137.8" r="0.85"/>
<circle cx="172.9" cy="133.5" r="0.85"/>
<circle cx="148.4" cy="134.2" r="0.85"/>
<circle cx="123.2" cy="137.8" r="0.85"/>
<circle cx="131.7" cy="138.4" r="0.85"/>
<circle cx="153.4" cy="136.5" r="0.85"/>
<circle cx="124.0" cy="135.6" r="0.85"/>
<circle cx="137.5" cy="137.6" r="0.85"/>
<circle cx="130.4" cy="137.4" r="0.85"/>
<circle cx="149.1" cy="134.5" r="0.85"/>
<circle cx="100.9" cy="138.7" r="0.85"/>
<circle cx="154.8" cy="137.3" r="0.85"/>
<circle cx="125.2" cy="136.7" r="0.85"/>
<circle cx="147.5" cy="137.4" r="0.85"/>
<circle cx="153.1" cy="133.7" r="0.85"/>
<circle cx="90.9" cy="138.3" r="0.85"/>
<circle cx="175.5" cy="135.4" r="0.85"/>
<circle cx="181.8" cy="133.5" r="0.85"/>
<circle cx="155.4" cy="135.8" r="0.85"/>
<circle cx="137.5" cy="137.9" r="0.85"/>
<circle cx="145.4" cy="136.9" r="0.85"/>
<circle cx="121.8" cy="134.2" r="0.85"/>
<circle cx="117.8" cy="137.5" r="0.85"/>
<circle cx="166.2" cy="133.2" r="0.85"/>
<circle cx="140.1" cy="134.0" r="0.85"/>
<circle cx="156.0" cy="137.5" r="0.85"/>
<circle cx="106.8" cy="132.2" r="0.85"/>
<circle cx="179.5" cy="137.6" r="0.85"/>
<circle cx="153.0" cy="139.1" r="0.85"/>
<circle cx="126.0" cy="135.2" r="0.85"/>
<circle cx="169.6" cy="133.9" r="0.85"/>
<circle cx="152.6" cy="133.0" r="0.85"/>
<circle cx="125.8" cy="137.2" r="0.85"/>
<circle cx="174.0" cy="136.2" r="0.85"/>
<circle cx="96.3" cy="136.9" r="0.85"/>
<circle cx="111.1" cy="139.0" r="0.85"/>
<circle cx="197.7" cy="135.7" r="0.85"/>
<circle cx="134.6" cy="139.2" r="0.85"/>
<circle cx="136.6" cy="139.0" r="0.85"/>
<circle cx="113.7" cy="134.6" r="0.85"/>
<circle cx="111.5" cy="133.2" r="0.85"/>
<circle cx="155.4" cy="131.1" r="0.85"/>
<circle cx="133.7" cy="136.9" r="0.85"/>
<circle cx="123.8" cy="138.5" r="0.85"/>
<circle cx="188.1" cy="138.6" r="0.85"/>
<circle cx="197.9" cy="137.8" r="0.85"/>
<circle cx="167.0" cy="134.7" r="0.85"/>
<circle cx="116.5" cy="132.9" r="0.85"/>
<circle cx="82.5" cy="137.0" r="0.85"/>
<circle cx="101.8" cy="139.2" r="0.85"/>
<circle cx="174.8" cy="133.7" r="0.85"/>
<circle cx="175.0" cy="135.9" r="0.85"/>
<circle cx="85.8" cy="135.9" r="0.85"/>
<circle cx="133.6" cy="136.8" r="0.85"/>
<circle cx="145.6" cy="136.2" r="0.85"/>
<circle cx="123.1" cy="136.6" r="0.85"/>
<circle cx="202.1" cy="135.9" r="0.85"/>
<circle cx="200.1" cy="136.4" r="0.85"/>
<circle cx="85.4" cy="137.4" r="0.85"/>
<circle cx="175.0" cy="136.4" r="0.85"/>
<circle cx="165.9" cy="138.7" r="0.85"/>
<circle cx="103.1" cy="134.1" r="0.85"/>
<circle cx="184.3" cy="138.4" r="0.85"/>
<circle cx="121.1" cy="136.2" r="0.85"/>
<circle cx="102.8" cy="136.0" r="0.85"/>
<circle cx="80.8" cy="138.5" r="0.85"/>
<circle cx="114.5" cy="136.6" r="0.85"/>
<circle cx="122.0" cy="138.8" r="0.85"/>
<circle cx="173.0" cy="133.5" r="0.85"/>
<circle cx="130.8" cy="138.0" r="0.85"/>
<circle cx="111.2" cy="136.7" r="0.85"/>
<circle cx="113.0" cy="139.1" r="0.85"/>
<circle cx="116.2" cy="132.2" r="0.85"/>
<circle cx="142.5" cy="137.9" r="0.85"/>
<circle cx="166.4" cy="138.8" r="0.85"/>
<circle cx="164.5" cy="134.5" r="0.85"/>
<circle cx="183.6" cy="137.6" r="0.85"/>
<circle cx="105.5" cy="131.3" r="0.85"/>
<circle cx="156.7" cy="134.1" r="0.85"/>
<circle cx="152.0" cy="137.5" r="0.85"/>
<circle cx="145.4" cy="134.3" r="0.85"/>
<circle cx="134.5" cy="138.8" r="0.85"/>
<circle cx="133.3" cy="138.4" r="0.85"/>
<circle cx="134.3" cy="137.0" r="0.85"/>
<circle cx="107.2" cy="137.0" r="0.85"/>
<circle cx="151.3" cy="133.9" r="0.85"/>
<circle cx="168.2" cy="136.4" r="0.85"/>
<circle cx="122.3" cy="137.7" r="0.85"/>
<circle cx="150.1" cy="133.6" r="0.85"/>
<circle cx="116.5" cy="137.1" r="0.85"/>
<circle cx="116.8" cy="137.5" r="0.85"/>
<circle cx="144.1" cy="135.8" r="0.85"/>
<circle cx="174.9" cy="134.1" r="0.85"/>
<circle cx="100.4" cy="135.2" r="0.85"/>
<circle cx="140.1" cy="136.5" r="0.85"/>
<circle cx="142.9" cy="137.1" r="0.85"/>
<circle cx="141.9" cy="138.0" r="0.85"/>
<circle cx="176.7" cy="131.8" r="0.85"/>
<circle cx="91.3" cy="138.2" r="0.85"/>
<circle cx="174.9" cy="134.2" r="0.85"/>
<circle cx="193.6" cy="135.1" r="0.85"/>
<circle cx="127.8" cy="136.2" r="0.85"/>
<circle cx="172.4" cy="132.9" r="0.85"/>
<circle cx="128.5" cy="137.5" r="0.85"/>
<circle cx="147.8" cy="139.2" r="0.85"/>
<circle cx="165.5" cy="135.4" r="0.85"/>
<circle cx="171.7" cy="137.5" r="0.85"/>
<circle cx="186.4" cy="139.4" r="0.85"/>
<circle cx="129.6" cy="137.0" r="0.85"/>
<circle cx="124.9" cy="138.4" r="0.85"/>
<circle cx="152.4" cy="132.7" r="0.85"/>
<circle cx="143.8" cy="137.4" r="0.85"/>
<circle cx="127.3" cy="136.4" r="0.85"/>
<circle cx="202.1" cy="136.1" r="0.85"/>
<circle cx="130.8" cy="138.2" r="0.85"/>
<circle cx="88.9" cy="134.6" r="0.85"/>
<circle cx="94.0" cy="139.2" r="0.85"/>
<circle cx="179.4" cy="138.0" r="0.85"/>
<circle cx="171.7" cy="138.0" r="0.85"/>
<circle cx="115.1" cy="138.1" r="0.85"/>
<circle cx="101.6" cy="132.4" r="0.85"/>
<circle cx="89.3" cy="135.4" r="0.85"/>
<circle cx="105.3" cy="131.8" r="0.85"/>
<circle cx="118.7" cy="133.1" r="0.85"/>
<circle cx="143.0" cy="133.3" r="0.85"/>
<circle cx="137.4" cy="136.3" r="0.85"/>
<circle cx="115.3" cy="134.5" r="0.85"/>
<circle cx="130.7" cy="139.2" r="0.85"/>
<circle cx="137.6" cy="135.8" r="0.85"/>
<circle cx="142.9" cy="134.0" r="0.85"/>
<circle cx="148.7" cy="139.2" r="0.85"/>
<circle cx="98.1" cy="132.8" r="0.85"/>
<circle cx="164.5" cy="133.2" r="0.85"/>
<circle cx="137.4" cy="139.1" r="0.85"/>
<circle cx="98.2" cy="136.2" r="0.85"/>
<circle cx="98.7" cy="136.3" r="0.85"/>
<circle cx="121.0" cy="134.1" r="0.85"/>
<circle cx="138.3" cy="138.1" r="0.85"/>
<circle cx="123.8" cy="134.8" r="0.85"/>
<circle cx="164.2" cy="136.3" r="0.85"/>
<circle cx="138.7" cy="134.7" r="0.85"/>
<circle cx="146.1" cy="134.3" r="0.85"/>
<circle cx="123.3" cy="136.3" r="0.85"/>
<circle cx="122.6" cy="135.5" r="0.85"/>
<circle cx="100.4" cy="136.4" r="0.85"/>
<circle cx="161.1" cy="135.6" r="0.85"/>
<circle cx="175.1" cy="132.6" r="0.85"/>
<circle cx="127.0" cy="138.9" r="0.85"/>
<circle cx="155.0" cy="135.6" r="0.85"/>
<circle cx="146.1" cy="131.5" r="0.85"/>
<circle cx="141.4" cy="135.3" r="0.85"/>
<circle cx="146.9" cy="136.0" r="0.85"/>
<circle cx="102.9" cy="134.4" r="0.85"/>
<circle cx="153.4" cy="135.3" r="0.85"/>
<circle cx="110.2" cy="133.0" r="0.85"/>
<circle cx="169.8" cy="134.2" r="0.85"/>
<circle cx="120.3" cy="138.6" r="0.85"/>
<circle cx="99.2" cy="136.4" r="0.85"/>
<circle cx="129.2" cy="137.8" r="0.85"/>
<circle cx="182.0" cy="137.2" r="0.85"/>
<circle cx="114.3" cy="131.5" r="0.85"/>
<circle cx="107.7" cy="136.3" r="0.85"/>
<circle cx="145.5" cy="137.3" r="0.85"/>
<circle cx="102.9" cy="138.8" r="0.85"/>
<circle cx="174.1" cy="132.8" r="0.85"/>
<circle cx="108.3" cy="135.1" r="0.85"/>
<circle cx="147.1" cy="132.4" r="0.85"/>
<circle cx="156.3" cy="131.2" r="0.85"/>
<circle cx="144.1" cy="135.1" r="0.85"/>
<circle cx="172.1" cy="137.9" r="0.85"/>
<circle cx="161.4" cy="136.4" r="0.85"/>
<circle cx="128.3" cy="137.1" r="0.85"/>
<circle cx="108.4" cy="134.1" r="0.85"/>
<circle cx="189.1" cy="136.6" r="0.85"/>
<circle cx="125.9" cy="139.0" r="0.85"/>
<circle cx="98.6" cy="137.2" r="0.85"/>
<circle cx="143.9" cy="137.6" r="0.85"/>
<circle cx="151.5" cy="134.7" r="0.85"/>
<circle cx="156.7" cy="134.0" r="0.85"/>
<circle cx="124.3" cy="137.2" r="0.85"/>
<circle cx="144.6" cy="132.6" r="0.85"/>
<circle cx="82.1" cy="135.7" r="0.85"/>
<circle cx="172.9" cy="138.3" r="0.85"/>
<circle cx="125.0" cy="136.5" r="0.85"/>
<circle cx="146.3" cy="135.0" r="0.85"/>
<circle cx="102.4" cy="133.4" r="0.85"/>
<circle cx="180.9" cy="136.1" r="0.85"/>
<circle cx="105.5" cy="138.5" r="0.85"/>
<circle cx="98.6" cy="137.6" r="0.85"/>
<circle cx="111.1" cy="135.3" r="0.85"/>
<circle cx="144.5" cy="132.2" r="0.85"/>
<circle cx="133.4" cy="138.4" r="0.85"/>
<circle cx="168.2" cy="138.3" r="0.85"/>
<circle cx="131.0" cy="138.1" r="0.85"/>
<circle cx="144.3" cy="134.3" r="0.85"/>
<circle cx="129.2" cy="137.8" r="0.85"/>
<circle cx="158.6" cy="132.4" r="0.85"/>
<circle cx="125.8" cy="138.4" r="0.85"/>
<circle cx="121.6" cy="139.2" r="0.85"/>
<circle cx="114.4" cy="136.2" r="0.85"/>
<circle cx="156.3" cy="135.4" r="0.85"/>
<circle cx="145.7" cy="134.8" r="0.85"/>
<circle cx="160.5" cy="133.2" r="0.85"/>
<circle cx="147.1" cy="138.4" r="0.85"/>
<circle cx="190.3" cy="137.1" r="0.85"/>
<circle cx="145.5" cy="137.0" r="0.85"/>
<circle cx="180.5" cy="135.1" r="0.85"/>
<circle cx="122.0" cy="136.1" r="0.85"/>
<circle cx="184.4" cy="133.3" r="0.85"/>
<circle cx="139.2" cy="137.1" r="0.85"/>
<circle cx="92.7" cy="136.2" r="0.85"/>
<circle cx="82.3" cy="137.8" r="0.85"/>
<circle cx="175.3" cy="132.8" r="0.85"/>
<circle cx="159.6" cy="135.9" r="0.85"/>
<circle cx="140.6" cy="138.8" r="0.85"/>
<circle cx="183.1" cy="133.4" r="0.85"/>
<circle cx="101.8" cy="132.9" r="0.85"/>
<circle cx="113.1" cy="135.2" r="0.85"/>
<circle cx="133.7" cy="137.9" r="0.85"/>
<circle cx="135.7" cy="138.4" r="0.85"/>
<circle cx="98.2" cy="137.6" r="0.85"/>
<circle cx="108.1" cy="133.0" r="0.85"/>
<circle cx="107.5" cy="136.9" r="0.85"/>
<circle cx="146.8" cy="139.3" r="0.85"/>
<circle cx="165.4" cy="134.5" r="0.85"/>
<circle cx="141.4" cy="133.4" r="0.85"/>
<circle cx="145.2" cy="137.6" r="0.85"/>
<circle cx="169.5" cy="136.4" r="0.85"/>
<circle cx="94.8" cy="137.8" r="0.85"/>
<circle cx="135.0" cy="137.6" r="0.85"/>
<circle cx="113.7" cy="131.9" r="0.85"/>
<circle cx="121.9" cy="138.1" r="0.85"/>
<circle cx="104.2" cy="131.5" r="0.85"/>
<circle cx="123.6" cy="138.0" r="0.85"/>
<circle cx="157.7" cy="138.3" r="0.85"/>
<circle cx="187.5" cy="139.0" r="0.85"/>
<circle cx="152.0" cy="134.4" r="0.85"/>
<circle cx="145.0" cy="135.6" r="0.85"/>
<circle cx="84.7" cy="136.6" r="0.85"/>
<circle cx="134.0" cy="136.8" r="0.85"/>
<circle cx="139.6" cy="137.8" r="0.85"/>
<circle cx="111.9" cy="131.2" r="0.85"/>
<circle cx="160.3" cy="135.8" r="0.85"/>
<circle cx="146.5" cy="137.1" r="0.85"/>
<circle cx="136.2" cy="136.2" r="0.85"/>
<circle cx="157.0" cy="134.8" r="0.85"/>
<circle cx="113.9" cy="131.5" r="0.85"/>
<circle cx="111.2" cy="135.6" r="0.85"/>
<circle cx="128.8" cy="138.0" r="0.85"/>
<circle cx="154.2" cy="139.2" r="0.85"/>
<circle cx="144.5" cy="138.7" r="0.85"/>
<circle cx="114.7" cy="137.1" r="0.85"/>
<circle cx="123.6" cy="137.8" r="0.85"/>
<circle cx="79.1" cy="139.2" r="0.85"/>
<circle cx="162.9" cy="137.2" r="0.85"/>
<circle cx="171.4" cy="136.4" r="0.85"/>
<circle cx="129.0" cy="137.4" r="0.85"/>
<circle cx="106.8" cy="134.6" r="0.85"/>
<circle cx="163.6" cy="132.1" r="0.85"/>
<circle cx="170.2" cy="136.0" r="0.85"/>
<circle cx="92.1" cy="133.3" r="0.85"/>
<circle cx="92.4" cy="135.6" r="0.85"/>
<circle cx="125.6" cy="136.4" r="0.85"/>
<circle cx="131.4" cy="137.9" r="0.85"/>
<circle cx="169.0" cy="131.3" r="0.85"/>
<circle cx="87.5" cy="137.7" r="0.85"/>
<circle cx="87.6" cy="134.8" r="0.85"/>
<circle cx="92.8" cy="138.0" r="0.85"/>
<circle cx="158.3" cy="139.1" r="0.85"/>
<circle cx="136.0" cy="138.7" r="0.85"/>
<circle cx="143.1" cy="139.3" r="0.85"/>
<circle cx="186.5" cy="133.9" r="0.85"/>
<circle cx="107.9" cy="134.0" r="0.85"/>
<circle cx="146.1" cy="138.5" r="0.85"/>
<circle cx="137.2" cy="136.3" r="0.85"/>
<circle cx="93.5" cy="136.7" r="0.85"/>
<circle cx="173.2" cy="134.1" r="0.85"/>
<circle cx="139.4" cy="135.1" r="0.85"/>
<circle cx="96.7" cy="135.4" r="0.85"/>
<circle cx="111.3" cy="138.4" r="0.85"/>
<circle cx="118.0" cy="134.6" r="0.85"/>
<circle cx="198.6" cy="136.4" r="0.85"/>
<circle cx="112.9" cy="133.9" r="0.85"/>
<circle cx="116.9" cy="138.2" r="0.85"/>
<circle cx="151.9" cy="133.2" r="0.85"/>
<circle cx="125.7" cy="136.9" r="0.85"/>
<circle cx="136.6" cy="136.8" r="0.85"/>
<circle cx="138.0" cy="137.6" r="0.85"/>
<circle cx="114.0" cy="139.1" r="0.85"/>
<circle cx="159.1" cy="136.2" r="0.85"/>
<circle cx="79.2" cy="136.0" r="0.85"/>
<circle cx="136.4" cy="136.1" r="0.85"/>
<circle cx="134.6" cy="138.3" r="0.85"/>
<circle cx="167.1" cy="138.3" r="0.85"/>
<circle cx="119.1" cy="137.6" r="0.85"/>
<circle cx="118.1" cy="135.4" r="0.85"/>
<circle cx="149.6" cy="135.9" r="0.85"/>
<circle cx="132.2" cy="137.7" r="0.85"/>
<circle cx="124.2" cy="137.6" r="0.85"/>
<circle cx="158.3" cy="136.2" r="0.85"/>
<circle cx="85.5" cy="135.3" r="0.85"/>
<circle cx="165.6" cy="135.4" r="0.85"/>
<circle cx="79.4" cy="137.1" r="0.85"/>
<circle cx="126.5" cy="136.4" r="0.85"/>
<circle cx="92.1" cy="136.4" r="0.85"/>
<circle cx="133.3" cy="138.0" r="0.85"/>
<circle cx="94.9" cy="136.2" r="0.85"/>
<circle cx="119.1" cy="136.8" r="0.85"/>
<circle cx="115.8" cy="138.1" r="0.85"/>
<circle cx="124.8" cy="135.1" r="0.85"/>
<circle cx="166.7" cy="133.6" r="0.85"/>
<circle cx="146.1" cy="138.2" r="0.85"/>
<circle cx="126.3" cy="137.7" r="0.85"/>
<circle cx="154.6" cy="137.5" r="0.85"/>
<circle cx="103.4" cy="135.5" r="0.85"/>
<circle cx="139.0" cy="139.1" r="0.85"/>
<circle cx="143.4" cy="138.1" r="0.85"/>
<circle cx="116.1" cy="131.6" r="0.85"/>
<circle cx="126.2" cy="138.0" r="0.85"/>
<circle cx="173.0" cy="131.6" r="0.85"/>
<circle cx="161.8" cy="138.4" r="0.85"/>
<circle cx="95.3" cy="134.2" r="0.85"/>
<circle cx="97.9" cy="139.1" r="0.85"/>
<circle cx="132.2" cy="139.0" r="0.85"/>
<circle cx="184.5" cy="136.6" r="0.85"/>
<circle cx="129.6" cy="137.2" r="0.85"/>
<circle cx="194.9" cy="138.6" r="0.85"/>
<circle cx="154.2" cy="136.3" r="0.85"/>
<circle cx="144.8" cy="139.4" r="0.85"/>
<circle cx="172.8" cy="138.3" r="0.85"/>
<circle cx="126.7" cy="135.6" r="0.85"/>
<circle cx="129.3" cy="136.5" r="0.85"/>
<circle cx="159.9" cy="137.8" r="0.85"/>
<circle cx="138.6" cy="136.9" r="0.85"/>
<circle cx="116.8" cy="131.5" r="0.85"/>
<circle cx="177.4" cy="135.3" r="0.85"/>
<circle cx="134.5" cy="136.4" r="0.85"/>
<circle cx="95.0" cy="132.8" r="0.85"/>
<circle cx="102.7" cy="134.8" r="0.85"/>
<circle cx="183.5" cy="138.2" r="0.85"/>
<circle cx="141.8" cy="136.9" r="0.85"/>
<circle cx="130.6" cy="137.2" r="0.85"/>
<circle cx="167.5" cy="134.6" r="0.85"/>
<circle cx="124.4" cy="139.0" r="0.85"/>
<circle cx="153.3" cy="136.3" r="0.85"/>
<circle cx="145.5" cy="132.0" r="0.85"/>
<circle cx="139.2" cy="138.2" r="0.85"/>
<circle cx="115.5" cy="137.9" r="0.85"/>
<circle cx="194.6" cy="136.3" r="0.85"/>
<circle cx="179.3" cy="135.5" r="0.85"/>
<circle cx="155.0" cy="133.6" r="0.85"/>
<circle cx="157.4" cy="132.6" r="0.85"/>
<circle cx="146.0" cy="139.1" r="0.85"/>
<circle cx="79.7" cy="137.6" r="0.85"/>
<circle cx="128.3" cy="137.3" r="0.85"/>
<circle cx="188.3" cy="136.4" r="0.85"/>
<circle cx="150.5" cy="139.1" r="0.85"/>
<circle cx="144.2" cy="137.3" r="0.85"/>
<circle cx="144.6" cy="133.1" r="0.85"/>
<circle cx="91.5" cy="138.3" r="0.85"/>
<circle cx="139.2" cy="139.2" r="0.85"/>
<circle cx="162.0" cy="136.9" r="0.85"/>
<circle cx="120.0" cy="135.9" r="0.85"/>
<circle cx="108.6" cy="132.0" r="0.85"/>
<circle cx="198.2" cy="135.8" r="0.85"/>
<circle cx="104.8" cy="132.7" r="0.85"/>
<circle cx="148.8" cy="135.8" r="0.85"/>
<circle cx="178.0" cy="133.8" r="0.85"/>
<circle cx="126.1" cy="138.6" r="0.85"/>
<circle cx="108.2" cy="132.8" r="0.85"/>
<circle cx="188.0" cy="136.1" r="0.85"/>
<circle cx="130.4" cy="137.7" r="0.85"/>
<circle cx="117.5" cy="137.4" r="0.85"/>
<circle cx="93.5" cy="136.7" r="0.85"/>
<circle cx="120.6" cy="137.0" r="0.85"/>
<circle cx="131.4" cy="138.4" r="0.85"/>
<circle cx="126.3" cy="138.3" r="0.85"/>
<circle cx="123.5" cy="138.4" r="0.85"/>
<circle cx="124.1" cy="135.6" r="0.85"/>
<circle cx="128.2" cy="138.5" r="0.85"/>
<circle cx="154.1" cy="134.6" r="0.85"/>
<circle cx="153.2" cy="137.1" r="0.85"/>
<circle cx="161.7" cy="137.9" r="0.85"/>
<circle cx="177.1" cy="135.3" r="0.85"/>
<circle cx="154.1" cy="136.4" r="0.85"/>
<circle cx="142.7" cy="139.4" r="0.85"/>
<circle cx="178.7" cy="135.2" r="0.85"/>
<circle cx="164.2" cy="138.3" r="0.85"/>
<circle cx="131.2" cy="137.6" r="0.85"/>
<circle cx="142.5" cy="134.0" r="0.85"/>
<circle cx="108.6" cy="131.6" r="0.85"/>
<circle cx="87.5" cy="134.7" r="0.85"/>
<circle cx="135.0" cy="138.3" r="0.85"/>
<circle cx="140.8" cy="139.1" r="0.85"/>
<circle cx="100.9" cy="133.8" r="0.85"/>
<circle cx="161.4" cy="131.7" r="0.85"/>
<circle cx="92.7" cy="135.8" r="0.85"/>
<circle cx="134.7" cy="138.8" r="0.85"/>
<circle cx="155.1" cy="135.5" r="0.85"/>
<circle cx="133.8" cy="137.3" r="0.85"/>
<circle cx="111.9" cy="137.2" r="0.85"/>
<circle cx="202.0" cy="136.9" r="0.85"/>
<circle cx="108.8" cy="132.9" r="0.85"/>
<circle cx="133.1" cy="138.0" r="0.85"/>
<circle cx="160.2" cy="137.3" r="0.85"/>
<circle cx="146.0" cy="134.3" r="0.85"/>
<circle cx="108.4" cy="138.0" r="0.85"/>
<circle cx="160.7" cy="138.0" r="0.85"/>
<circle cx="96.9" cy="138.6" r="0.85"/>
<circle cx="136.3" cy="137.6" r="0.85"/>
<circle cx="149.7" cy="134.7" r="0.85"/>
<circle cx="197.3" cy="136.6" r="0.85"/>
<circle cx="165.6" cy="135.0" r="0.85"/>
<circle cx="132.0" cy="138.0" r="0.85"/>
<circle cx="143.2" cy="137.5" r="0.85"/>
<circle cx="164.5" cy="133.6" r="0.85"/>
<circle cx="132.3" cy="137.4" r="0.85"/>
<circle cx="139.6" cy="138.8" r="0.85"/>
<circle cx="150.2" cy="132.9" r="0.85"/>
<circle cx="136.3" cy="138.6" r="0.85"/>
<circle cx="148.0" cy="135.9" r="0.85"/>
<circle cx="130.8" cy="139.3" r="0.85"/>
<circle cx="153.0" cy="136.7" r="0.85"/>
<circle cx="130.4" cy="138.7" r="0.85"/>
<circle cx="142.8" cy="137.4" r="0.85"/>
<circle cx="118.7" cy="136.8" r="0.85"/>
<circle cx="167.8" cy="139.1" r="0.85"/>
<circle cx="112.3" cy="137.1" r="0.85"/>
<circle cx="199.3" cy="137.1" r="0.85"/>
<circle cx="154.9" cy="139.3" r="0.85"/>
<circle cx="98.4" cy="133.0" r="0.85"/>
<circle cx="165.1" cy="137.6" r="0.85"/>
<circle cx="196.7" cy="136.2" r="0.85"/>
<circle cx="165.3" cy="139.2" r="0.85"/>
<circle cx="141.7" cy="133.5" r="0.85"/>
<circle cx="168.8" cy="133.8" r="0.85"/>
<circle cx="185.3" cy="137.4" r="0.85"/>
<circle cx="143.4" cy="133.9" r="0.85"/>
<circle cx="127.8" cy="137.2" r="0.85"/>
<circle cx="127.8" cy="136.4" r="0.85"/>
<circle cx="157.8" cy="134.0" r="0.85"/>
<circle cx="181.1" cy="134.4" r="0.85"/>
<circle cx="142.3" cy="139.1" r="0.85"/>
<circle cx="160.1" cy="137.7" r="0.85"/>
<circle cx="132.4" cy="139.0" r="0.85"/>
<circle cx="122.5" cy="134.3" r="0.85"/>
<circle cx="200.5" cy="138.6" r="0.85"/>
<circle cx="149.4" cy="138.0" r="0.85"/>
<circle cx="112.6" cy="132.8" r="0.85"/>
<circle cx="133.7" cy="137.2" r="0.85"/>
<circle cx="155.2" cy="138.8" r="0.85"/>
<circle cx="154.9" cy="137.4" r="0.85"/>
<circle cx="186.3" cy="138.6" r="0.85"/>
<circle cx="168.2" cy="136.4" r="0.85"/>
<circle cx="148.1" cy="138.0" r="0.85"/>
<circle cx="130.0" cy="137.8" r="0.85"/>
<circle cx="98.5" cy="133.4" r="0.85"/>
<circle cx="159.6" cy="137.9" r="0.85"/>
<circle cx="174.1" cy="132.2" r="0.85"/>
<circle cx="157.0" cy="133.5" r="0.85"/>
<circle cx="161.9" cy="136.3" r="0.85"/>
<circle cx="108.2" cy="131.8" r="0.85"/>
<circle cx="129.8" cy="138.3" r="0.85"/>
<circle cx="171.7" cy="137.9" r="0.85"/>
<circle cx="158.2" cy="134.7" r="0.85"/>
<circle cx="132.0" cy="137.9" r="0.85"/>
<circle cx="122.6" cy="135.8" r="0.85"/>
<circle cx="144.1" cy="133.7" r="0.85"/>
<circle cx="134.6" cy="136.7" r="0.85"/>
<circle cx="119.8" cy="138.7" r="0.85"/>
<circle cx="119.4" cy="137.9" r="0.85"/>
<circle cx="178.2" cy="139.2" r="0.85"/>
<circle cx="108.8" cy="134.8" r="0.85"/>
<circle cx="182.2" cy="138.5" r="0.85"/>
<circle cx="133.1" cy="138.2" r="0.85"/>
<circle cx="124.0" cy="138.2" r="0.85"/>
<circle cx="127.9" cy="138.5" r="0.85"/>
<circle cx="163.6" cy="138.5" r="0.85"/>
<circle cx="155.8" cy="135.6" r="0.85"/>
<circle cx="119.9" cy="132.5" r="0.85"/>
<circle cx="135.3" cy="138.4" r="0.85"/>
<circle cx="126.7" cy="137.5" r="0.85"/>
<circle cx="147.6" cy="133.5" r="0.85"/>
<circle cx="128.5" cy="137.8" r="0.85"/>
<circle cx="152.5" cy="138.5" r="0.85"/>
<circle cx="141.3" cy="135.5" r="0.85"/>
<circle cx="150.6" cy="137.7" r="0.85"/>
<circle cx="136.8" cy="137.4" r="0.85"/>
<circle cx="140.0" cy="137.7" r="0.85"/>
<circle cx="115.8" cy="137.4" r="0.85"/>
<circle cx="135.8" cy="136.7" r="0.85"/>
<circle cx="131.5" cy="138.4" r="0.85"/>
<circle cx="156.4" cy="135.1" r="0.85"/>
<circle cx="124.6" cy="137.0" r="0.85"/>
<circle cx="141.5" cy="133.8" r="0.85"/>
<circle cx="189.4" cy="136.8" r="0.85"/>
<circle cx="140.8" cy="137.2" r="0.85"/>
<circle cx="123.7" cy="135.1" r="0.85"/>
<circle cx="193.7" cy="138.5" r="0.85"/>
<circle cx="164.0" cy="134.8" r="0.85"/>
<circle cx="143.1" cy="133.0" r="0.85"/>
<circle cx="121.3" cy="136.0" r="0.85"/>
<circle cx="107.9" cy="131.9" r="0.85"/>
<circle cx="125.6" cy="137.7" r="0.85"/>
<circle cx="115.3" cy="134.2" r="0.85"/>
<circle cx="102.9" cy="133.8" r="0.85"/>
<circle cx="96.7" cy="134.1" r="0.85"/>
<circle cx="102.9" cy="131.7" r="0.85"/>
<circle cx="154.1" cy="132.5" r="0.85"/>
<circle cx="138.8" cy="138.5" r="0.85"/>
<circle cx="83.5" cy="137.9" r="0.85"/>
<circle cx="181.3" cy="139.1" r="0.85"/>
<circle cx="122.9" cy="133.8" r="0.85"/>
<circle cx="142.4" cy="137.4" r="0.85"/>
<circle cx="86.2" cy="135.1" r="0.85"/>
<circle cx="125.4" cy="136.4" r="0.85"/>
<circle cx="164.7" cy="131.2" r="0.85"/>
<circle cx="121.3" cy="137.1" r="0.85"/>
<circle cx="85.3" cy="136.8" r="0.85"/>
<circle cx="129.3" cy="138.8" r="0.85"/>
<circle cx="135.3" cy="137.8" r="0.85"/>
<circle cx="108.8" cy="137.5" r="0.85"/>
<circle cx="195.2" cy="138.3" r="0.85"/>
<circle cx="154.4" cy="135.9" r="0.85"/>
<circle cx="159.4" cy="137.3" r="0.85"/>
<circle cx="150.7" cy="132.7" r="0.85"/>
<circle cx="101.1" cy="133.2" r="0.85"/>
<circle cx="199.4" cy="138.9" r="0.85"/>
<circle cx="119.8" cy="137.6" r="0.85"/>
<circle cx="143.9" cy="133.6" r="0.85"/>
<circle cx="138.6" cy="136.7" r="0.85"/>
<circle cx="150.2" cy="138.8" r="0.85"/>
<circle cx="148.2" cy="137.7" r="0.85"/>
<circle cx="149.7" cy="136.7" r="0.85"/>
<circle cx="131.5" cy="138.1" r="0.85"/>
<circle cx="111.2" cy="131.6" r="0.85"/>
<circle cx="151.2" cy="132.0" r="0.85"/>
<circle cx="154.6" cy="134.0" r="0.85"/>
<circle cx="121.6" cy="138.0" r="0.85"/>
<circle cx="119.7" cy="132.5" r="0.85"/>
<circle cx="159.5" cy="133.8" r="0.85"/>
<circle cx="132.7" cy="138.5" r="0.85"/>
<circle cx="119.5" cy="136.4" r="0.85"/>
<circle cx="142.2" cy="133.4" r="0.85"/>
<circle cx="126.7" cy="137.0" r="0.85"/>
<circle cx="163.5" cy="132.6" r="0.85"/>
<circle cx="170.4" cy="133.6" r="0.85"/>
<circle cx="114.4" cy="133.5" r="0.85"/>
<circle cx="179.0" cy="139.1" r="0.85"/>
<circle cx="169.7" cy="132.0" r="0.85"/>
<circle cx="134.2" cy="137.4" r="0.85"/>
<circle cx="129.9" cy="137.3" r="0.85"/>
<circle cx="103.4" cy="135.5" r="0.85"/>
<circle cx="162.1" cy="131.8" r="0.85"/>
<circle cx="146.8" cy="133.3" r="0.85"/>
<circle cx="189.0" cy="133.8" r="0.85"/>
<circle cx="111.2" cy="135.7" r="0.85"/>
<circle cx="117.9" cy="136.8" r="0.85"/>
<circle cx="144.5" cy="136.2" r="0.85"/>
<circle cx="122.0" cy="134.5" r="0.85"/>
<circle cx="105.3" cy="139.4" r="0.85"/>
<circle cx="89.0" cy="138.9" r="0.85"/>
<circle cx="158.1" cy="133.1" r="0.85"/>
<circle cx="146.6" cy="132.2" r="0.85"/>
<circle cx="114.7" cy="138.3" r="0.85"/>
<circle cx="135.6" cy="139.0" r="0.85"/>
<circle cx="123.9" cy="134.3" r="0.85"/>
<circle cx="171.7" cy="137.4" r="0.85"/>
<circle cx="148.9" cy="132.7" r="0.85"/>
<circle cx="159.1" cy="137.3" r="0.85"/>
<circle cx="189.3" cy="139.4" r="0.85"/>
<circle cx="157.7" cy="137.5" r="0.85"/>
<circle cx="120.4" cy="136.7" r="0.85"/>
<circle cx="173.5" cy="132.1" r="0.85"/>
<circle cx="151.0" cy="138.3" r="0.85"/>
<circle cx="167.2" cy="135.7" r="0.85"/>
<circle cx="169.6" cy="138.9" r="0.85"/>
<circle cx="157.2" cy="132.5" r="0.85"/>
<circle cx="95.7" cy="137.2" r="0.85"/>
<circle cx="123.3" cy="134.9" r="0.85"/>
<circle cx="148.0" cy="133.8" r="0.85"/>
<circle cx="141.2" cy="136.8" r="0.85"/>
<circle cx="146.1" cy="137.9" r="0.85"/>
<circle cx="132.6" cy="138.2" r="0.85"/>
<circle cx="129.6" cy="137.5" r="0.85"/>
<circle cx="137.4" cy="138.1" r="0.85"/>
<circle cx="128.0" cy="137.5" r="0.85"/>
<circle cx="117.7" cy="134.9" r="0.85"/>
<circle cx="147.1" cy="136.9" r="0.85"/>
<circle cx="81.6" cy="137.5" r="0.85"/>
<circle cx="125.0" cy="138.0" r="0.85"/>
<circle cx="127.8" cy="139.4" r="0.85"/>
<circle cx="133.8" cy="138.3" r="0.85"/>
<circle cx="127.5" cy="137.2" r="0.85"/>
<circle cx="109.3" cy="133.5" r="0.85"/>
<circle cx="146.4" cy="133.7" r="0.85"/>
<circle cx="174.6" cy="135.2" r="0.85"/>
<circle cx="154.9" cy="133.2" r="0.85"/>
<circle cx="157.6" cy="135.5" r="0.85"/>
<circle cx="193.9" cy="135.5" r="0.85"/>
<circle cx="125.5" cy="137.4" r="0.85"/>
<circle cx="189.9" cy="136.8" r="0.85"/>
<circle cx="146.4" cy="134.9" r="0.85"/>
<circle cx="130.0" cy="136.8" r="0.85"/>
<circle cx="152.0" cy="137.6" r="0.85"/>
<circle cx="148.3" cy="136.8" r="0.85"/>
<circle cx="100.5" cy="133.9" r="0.85"/>
<circle cx="156.8" cy="133.4" r="0.85"/>
<circle cx="176.2" cy="132.7" r="0.85"/>
<circle cx="141.7" cy="137.0" r="0.85"/>
<circle cx="200.2" cy="136.1" r="0.85"/>
<circle cx="94.0" cy="133.5" r="0.85"/>
<circle cx="99.6" cy="132.1" r="0.85"/>
<circle cx="192.4" cy="134.7" r="0.85"/>
<circle cx="155.0" cy="138.0" r="0.85"/>
<circle cx="172.2" cy="132.8" r="0.85"/>
<circle cx="125.4" cy="137.5" r="0.85"/>
<circle cx="167.9" cy="136.5" r="0.85"/>
<circle cx="132.8" cy="139.0" r="0.85"/>
<circle cx="130.5" cy="137.6" r="0.85"/>
<circle cx="116.8" cy="134.7" r="0.85"/>
<circle cx="130.1" cy="138.0" r="0.85"/>
<circle cx="136.0" cy="136.1" r="0.85"/>
<circle cx="157.6" cy="138.1" r="0.85"/>
<circle cx="127.3" cy="135.8" r="0.85"/>
<circle cx="85.3" cy="139.2" r="0.85"/>
<circle cx="121.0" cy="135.3" r="0.85"/>
<circle cx="108.5" cy="134.4" r="0.85"/>
<circle cx="144.4" cy="137.7" r="0.85"/>
<circle cx="171.8" cy="134.0" r="0.85"/>
<circle cx="194.9" cy="135.1" r="0.85"/>
<circle cx="107.7" cy="132.4" r="0.85"/>
<circle cx="118.9" cy="134.8" r="0.85"/>
<circle cx="134.1" cy="138.0" r="0.85"/>
<circle cx="201.3" cy="136.3" r="0.85"/>
<circle cx="112.3" cy="134.1" r="0.85"/>
<circle cx="123.2" cy="136.7" r="0.85"/>
<circle cx="111.4" cy="133.0" r="0.85"/>
<circle cx="141.8" cy="133.3" r="0.85"/>
<circle cx="177.4" cy="138.6" r="0.85"/>
<circle cx="90.8" cy="133.9" r="0.85"/>
<circle cx="134.5" cy="139.4" r="0.85"/>
<circle cx="200.1" cy="138.0" r="0.85"/>
<circle cx="115.8" cy="134.1" r="0.85"/>
<circle cx="149.5" cy="131.9" r="0.85"/>
<circle cx="107.1" cy="131.2" r="0.85"/>
<circle cx="134.7" cy="136.5" r="0.85"/>
<circle cx="88.1" cy="136.7" r="0.85"/>
<circle cx="161.8" cy="133.6" r="0.85"/>
<circle cx="148.9" cy="134.9" r="0.85"/>
<circle cx="144.5" cy="132.5" r="0.85"/>
<circle cx="149.0" cy="134.9" r="0.85"/>
<circle cx="182.1" cy="134.2" r="0.85"/>
<circle cx="113.0" cy="138.9" r="0.85"/>
<circle cx="84.0" cy="137.7" r="0.85"/>
<circle cx="113.9" cy="131.8" r="0.85"/>
<circle cx="128.4" cy="138.9" r="0.85"/>
<circle cx="105.3" cy="131.9" r="0.85"/>
<circle cx="97.7" cy="131.9" r="0.85"/>
<circle cx="101.2" cy="135.5" r="0.85"/>
<circle cx="149.9" cy="131.1" r="0.85"/>
<circle cx="118.3" cy="131.8" r="0.85"/>
<circle cx="77.9" cy="137.5" r="0.85"/>
<circle cx="136.2" cy="138.3" r="0.85"/>
<circle cx="100.5" cy="136.5" r="0.85"/>
<circle cx="124.8" cy="138.8" r="0.85"/>
<circle cx="152.4" cy="136.0" r="0.85"/>
<circle cx="151.0" cy="136.3" r="0.85"/>
<circle cx="126.4" cy="136.0" r="0.85"/>
<circle cx="154.5" cy="131.8" r="0.85"/>
<circle cx="134.1" cy="137.7" r="0.85"/>
<circle cx="144.5" cy="132.7" r="0.85"/>
<circle cx="105.6" cy="132.4" r="0.85"/>
<circle cx="113.9" cy="134.7" r="0.85"/>
<circle cx="135.9" cy="137.4" r="0.85"/>
<circle cx="145.6" cy="133.2" r="0.85"/>
<circle cx="134.9" cy="137.7" r="0.85"/>
<circle cx="133.2" cy="138.4" r="0.85"/>
<circle cx="168.5" cy="135.6" r="0.85"/>
<circle cx="149.4" cy="137.3" r="0.85"/>
<circle cx="156.6" cy="132.7" r="0.85"/>
<circle cx="100.1" cy="135.1" r="0.85"/>
<circle cx="108.9" cy="132.8" r="0.85"/>
<circle cx="115.6" cy="135.1" r="0.85"/>
<circle cx="92.1" cy="139.2" r="0.85"/>
<circle cx="162.6" cy="134.9" r="0.85"/>
<circle cx="119.4" cy="134.3" r="0.85"/>
<circle cx="99.6" cy="138.2" r="0.85"/>
<circle cx="133.2" cy="138.1" r="0.85"/>
<circle cx="134.1" cy="137.2" r="0.85"/>
<circle cx="136.2" cy="139.3" r="0.85"/>
<circle cx="169.0" cy="136.9" r="0.85"/>
<circle cx="160.4" cy="131.6" r="0.85"/>
<circle cx="149.3" cy="135.5" r="0.85"/>
<circle cx="131.2" cy="138.7" r="0.85"/>
<circle cx="90.2" cy="133.6" r="0.85"/>
<circle cx="102.8" cy="136.8" r="0.85"/>
<circle cx="146.0" cy="139.0" r="0.85"/>
<circle cx="87.3" cy="134.8" r="0.85"/>
<circle cx="175.6" cy="133.5" r="0.85"/>
<circle cx="125.8" cy="136.1" r="0.85"/>
<circle cx="100.9" cy="135.7" r="0.85"/>
<circle cx="130.1" cy="137.7" r="0.85"/>
<circle cx="164.9" cy="132.1" r="0.85"/>
<circle cx="146.0" cy="132.1" r="0.85"/>
<circle cx="143.8" cy="134.0" r="0.85"/>
<circle cx="134.8" cy="136.6" r="0.85"/>
<circle cx="172.5" cy="136.7" r="0.85"/>
<circle cx="156.0" cy="139.4" r="0.85"/>
<circle cx="106.1" cy="134.5" r="0.85"/>
<circle cx="140.5" cy="139.4" r="0.85"/>
<circle cx="128.7" cy="137.1" r="0.85"/>
<circle cx="150.7" cy="133.2" r="0.85"/>
<circle cx="140.7" cy="133.7" r="0.85"/>
<circle cx="103.7" cy="134.1" r="0.85"/>
<circle cx="162.0" cy="136.4" r="0.85"/>
<circle cx="157.6" cy="135.5" r="0.85"/>
<circle cx="133.0" cy="137.3" r="0.85"/>
<circle cx="142.3" cy="137.9" r="0.85"/>
<circle cx="117.9" cy="136.6" r="0.85"/>
<circle cx="120.5" cy="137.2" r="0.85"/>
<circle cx="103.5" cy="133.1" r="0.85"/>
<circle cx="184.6" cy="139.1" r="0.85"/>
<circle cx="175.9" cy="133.2" r="0.85"/>
<circle cx="162.3" cy="134.5" r="0.85"/>
<circle cx="156.5" cy="133.0" r="0.85"/>
<circle cx="109.3" cy="131.9" r="0.85"/>
<circle cx="188.6" cy="137.9" r="0.85"/>
<circle cx="157.9" cy="135.0" r="0.85"/>
<circle cx="154.1" cy="131.6" r="0.85"/>
<circle cx="144.8" cy="132.8" r="0.85"/>
<circle cx="140.3" cy="134.3" r="0.85"/>
<circle cx="153.8" cy="136.4" r="0.85"/>
<circle cx="127.8" cy="136.2" r="0.85"/>
<circle cx="106.3" cy="131.9" r="0.85"/>
<circle cx="115.8" cy="134.8" r="0.85"/>
<circle cx="100.9" cy="134.1" r="0.85"/>
<circle cx="188.8" cy="138.9" r="0.85"/>
<circle cx="160.1" cy="137.6" r="0.85"/>
<circle cx="141.2" cy="138.1" r="0.85"/>
<circle cx="122.4" cy="137.9" r="0.85"/>
<circle cx="86.8" cy="135.1" r="0.85"/>
<circle cx="138.4" cy="138.4" r="0.85"/>
<circle cx="122.4" cy="137.2" r="0.85"/>
<circle cx="54.2" cy="137.4" r="0.85"/>
<circle cx="196.4" cy="135.0" r="0.85"/>
<circle cx="120.1" cy="134.3" r="0.85"/>
<circle cx="67.7" cy="137.6" r="0.85"/>
<circle cx="185.0" cy="134.0" r="0.85"/>
<circle cx="102.5" cy="132.2" r="0.85"/>
<circle cx="98.3" cy="135.4" r="0.85"/>
<circle cx="173.3" cy="132.3" r="0.85"/>
<circle cx="96.7" cy="131.3" r="0.85"/>
<circle cx="86.0" cy="136.7" r="0.85"/>
<circle cx="132.2" cy="134.5" r="0.85"/>
<circle cx="136.1" cy="135.2" r="0.85"/>
<circle cx="172.5" cy="136.8" r="0.85"/>
<circle cx="120.1" cy="133.6" r="0.85"/>
<circle cx="189.4" cy="136.8" r="0.85"/>
<circle cx="108.0" cy="135.2" r="0.85"/>
<circle cx="94.8" cy="134.9" r="0.85"/>
<circle cx="196.8" cy="137.0" r="0.85"/>
<circle cx="180.3" cy="132.0" r="0.85"/>
<circle cx="128.3" cy="136.1" r="0.85"/>
<circle cx="72.0" cy="134.6" r="0.85"/>
<circle cx="182.4" cy="135.8" r="0.85"/>
<circle cx="92.8" cy="132.5" r="0.85"/>
<circle cx="78.0" cy="134.5" r="0.85"/>
<circle cx="170.5" cy="134.9" r="0.85"/>
</g>
<g fill="#dd2a2a">
<circle cx="65.2" cy="25.9" r="0.9"/>
<circle cx="74.4" cy="73.1" r="0.9"/>
<circle cx="87.4" cy="77.8" r="0.9"/>
<circle cx="89.6" cy="85.0" r="0.9"/>
<circle cx="96.6" cy="86.1" r="0.9"/>
<circle cx="68.5" cy="94.6" r="0.9"/>
<circle cx="83.8" cy="94.6" r="0.9"/>
<circle cx="86.9" cy="97.5" r="0.9"/>
<circle cx="72.1" cy="101.2" r="0.9"/>
<circle cx="76.7" cy="100.4" r="0.9"/>
<circle cx="83.5" cy="100.4" r="0.9"/>
<circle cx="77.9" cy="109.9" r="0.9"/>
<circle cx="86.0" cy="111.2" r="0.9"/>
<circle cx="89.9" cy="109.0" r="0.9"/>
<circle cx="96.8" cy="109.7" r="0.9"/>
<circle cx="99.0" cy="112.8" r="0.9"/>
<circle cx="79.1" cy="115.8" r="0.9"/>
<circle cx="85.9" cy="116.2" r="0.9"/>
<circle cx="94.0" cy="114.7" r="0.9"/>
<circle cx="91.5" cy="117.4" r="0.9"/>
<circle cx="99.0" cy="118.2" r="0.9"/>
<circle cx="74.7" cy="120.8" r="0.9"/>
<circle cx="75.8" cy="122.0" r="0.9"/>
<circle cx="83.2" cy="120.6" r="0.9"/>
<circle cx="86.0" cy="120.0" r="0.9"/>
<circle cx="81.3" cy="123.4" r="0.9"/>
<circle cx="83.2" cy="124.3" r="0.9"/>
<circle cx="86.5" cy="123.2" r="0.9"/>
<circle cx="104.8" cy="105.9" r="0.9"/>
<circle cx="107.1" cy="109.8" r="0.9"/>
<circle cx="99.2" cy="112.7" r="0.9"/>
<circle cx="102.0" cy="115.4" r="0.9"/>
<circle cx="103.3" cy="116.8" r="0.9"/>
<circle cx="104.7" cy="118.2" r="0.9"/>
<circle cx="107.9" cy="115.5" r="0.9"/>
<circle cx="110.1" cy="120.4" r="0.9"/>
<circle cx="115.2" cy="121.8" r="0.9"/>
<circle cx="105.0" cy="120.2" r="0.9"/>
<circle cx="117.7" cy="124.5" r="0.9"/>
<circle cx="164.1" cy="99.0" r="0.9"/>
<circle cx="170.0" cy="104.6" r="0.9"/>
<circle cx="168.8" cy="109.0" r="0.9"/>
<circle cx="173.8" cy="108.8" r="0.9"/>
<circle cx="164.1" cy="111.2" r="0.9"/>
<circle cx="164.2" cy="113.8" r="0.9"/>
<circle cx="168.5" cy="116.4" r="0.9"/>
<circle cx="149.0" cy="112.9" r="0.9"/>
<circle cx="152.7" cy="117.7" r="0.9"/>
<circle cx="152.7" cy="120.8" r="0.9"/>
<circle cx="156.2" cy="120.0" r="0.9"/>
<circle cx="160.6" cy="119.5" r="0.9"/>
<circle cx="147.3" cy="122.7" r="0.9"/>
<circle cx="144.6" cy="124.6" r="0.9"/>
<circle cx="151.2" cy="124.6" r="0.9"/>
<circle cx="158.7" cy="123.8" r="0.9"/>
<circle cx="164.6" cy="123.5" r="0.9"/>
<circle cx="168.5" cy="124.2" r="0.9"/>
<circle cx="174.2" cy="124.6" r="0.9"/>
<circle cx="187.0" cy="97.3" r="0.9"/>
<circle cx="170.4" cy="104.5" r="0.9"/>
<circle cx="174.2" cy="108.9" r="0.9"/>
<circle cx="185.7" cy="111.6" r="0.9"/>
<circle cx="177.6" cy="121.1" r="0.9"/>
<circle cx="174.9" cy="124.7" r="0.9"/>
<circle cx="170.4" cy="127.8" r="0.9"/>
<circle cx="173.4" cy="128.7" r="0.9"/>
<circle cx="176.9" cy="130.0" r="0.9"/>
<circle cx="179.6" cy="128.2" r="0.9"/>
<circle cx="170.8" cy="132.2" r="0.9"/>
<circle cx="172.9" cy="132.2" r="0.9"/>
<circle cx="192.4" cy="132.7" r="0.9"/>
<circle cx="170.0" cy="129.1" r="0.9"/>
<circle cx="165.4" cy="131.2" r="0.9"/>
<circle cx="174.9" cy="132.9" r="0.9"/>
<circle cx="85.1" cy="128.4" r="0.9"/>
<circle cx="89.2" cy="125.7" r="0.9"/>
<circle cx="94.6" cy="123.0" r="0.9"/>
<circle cx="97.9" cy="120.9" r="0.9"/>
<circle cx="113.9" cy="127.4" r="0.9"/>
<circle cx="112.4" cy="126.3" r="0.9"/>
<circle cx="94.5" cy="120.3" r="0.9"/>
<circle cx="95.5" cy="128.8" r="0.9"/>
<circle cx="114.7" cy="126.8" r="0.9"/>
<circle cx="101.1" cy="120.2" r="0.9"/>
<circle cx="108.6" cy="130.4" r="0.9"/>
<circle cx="120.7" cy="131.7" r="0.9"/>
<circle cx="104.9" cy="128.7" r="0.9"/>
<circle cx="121.5" cy="125.4" r="0.9"/>
<circle cx="120.9" cy="130.6" r="0.9"/>
<circle cx="95.4" cy="122.7" r="0.9"/>
<circle cx="116.4" cy="123.3" r="0.9"/>
<circle cx="108.4" cy="123.3" r="0.9"/>
<circle cx="109.3" cy="126.0" r="0.9"/>
<circle cx="87.7" cy="128.3" r="0.9"/>
<circle cx="103.8" cy="125.7" r="0.9"/>
<circle cx="87.2" cy="122.5" r="0.9"/>
<circle cx="115.0" cy="130.9" r="0.9"/>
<circle cx="104.3" cy="129.6" r="0.9"/>
<circle cx="111.9" cy="122.0" r="0.9"/>
<circle cx="117.5" cy="130.9" r="0.9"/>
<circle cx="99.7" cy="126.1" r="0.9"/>
<circle cx="89.8" cy="126.7" r="0.9"/>
<circle cx="96.1" cy="126.6" r="0.9"/>
<circle cx="86.1" cy="115.5" r="0.9"/>
<circle cx="117.2" cy="129.9" r="0.9"/>
<circle cx="107.4" cy="127.7" r="0.9"/>
<circle cx="102.8" cy="124.1" r="0.9"/>
<circle cx="118.5" cy="127.7" r="0.9"/>
<circle cx="93.4" cy="126.3" r="0.9"/>
<circle cx="114.7" cy="130.3" r="0.9"/>
<circle cx="102.2" cy="129.6" r="0.9"/>
<circle cx="116.6" cy="130.3" r="0.9"/>
<circle cx="99.0" cy="122.4" r="0.9"/>
<circle cx="104.7" cy="129.7" r="0.9"/>
<circle cx="111.8" cy="130.7" r="0.9"/>
<circle cx="85.9" cy="124.5" r="0.9"/>
<circle cx="92.8" cy="127.8" r="0.9"/>
<circle cx="114.5" cy="130.8" r="0.9"/>
<circle cx="110.6" cy="125.7" r="0.9"/>
<circle cx="104.4" cy="128.6" r="0.9"/>
<circle cx="119.1" cy="130.8" r="0.9"/>
<circle cx="95.6" cy="128.6" r="0.9"/>
<circle cx="86.2" cy="117.5" r="0.9"/>
<circle cx="117.9" cy="131.4" r="0.9"/>
<circle cx="93.3" cy="128.9" r="0.9"/>
<circle cx="99.7" cy="126.1" r="0.9"/>
<circle cx="109.7" cy="126.8" r="0.9"/>
<circle cx="122.0" cy="127.4" r="0.9"/>
<circle cx="92.6" cy="128.8" r="0.9"/>
<circle cx="114.3" cy="124.5" r="0.9"/>
<circle cx="117.1" cy="131.1" r="0.9"/>
<circle cx="94.2" cy="116.2" r="0.9"/>
<circle cx="86.3" cy="127.5" r="0.9"/>
<circle cx="119.0" cy="131.5" r="0.9"/>
<circle cx="119.4" cy="130.5" r="0.9"/>
<circle cx="87.5" cy="119.6" r="0.9"/>
<circle cx="117.6" cy="129.8" r="0.9"/>
<circle cx="104.5" cy="129.7" r="0.9"/>
<circle cx="121.1" cy="131.4" r="0.9"/>
<circle cx="113.7" cy="131.0" r="0.9"/>
<circle cx="86.9" cy="114.4" r="0.9"/>
<circle cx="107.4" cy="128.0" r="0.9"/>
<circle cx="104.3" cy="122.1" r="0.9"/>
<circle cx="109.7" cy="122.0" r="0.9"/>
<circle cx="87.7" cy="126.9" r="0.9"/>
<circle cx="103.4" cy="119.6" r="0.9"/>
<circle cx="113.5" cy="121.9" r="0.9"/>
<circle cx="106.4" cy="125.1" r="0.9"/>
<circle cx="120.1" cy="130.2" r="0.9"/>
<circle cx="100.3" cy="128.9" r="0.9"/>
<circle cx="87.1" cy="125.5" r="0.9"/>
<circle cx="103.8" cy="122.9" r="0.9"/>
<circle cx="113.2" cy="126.1" r="0.9"/>
<circle cx="97.1" cy="121.4" r="0.9"/>
<circle cx="113.0" cy="129.6" r="0.9"/>
<circle cx="103.2" cy="127.3" r="0.9"/>
<circle cx="107.4" cy="126.6" r="0.9"/>
<circle cx="96.1" cy="128.8" r="0.9"/>
<circle cx="116.6" cy="131.1" r="0.9"/>
<circle cx="105.7" cy="129.6" r="0.9"/>
<circle cx="88.8" cy="127.6" r="0.9"/>
<circle cx="108.4" cy="124.1" r="0.9"/>
<circle cx="114.2" cy="131.0" r="0.9"/>
<circle cx="116.0" cy="126.6" r="0.9"/>
<circle cx="111.9" cy="122.2" r="0.9"/>
<circle cx="118.3" cy="130.5" r="0.9"/>
<circle cx="106.6" cy="128.8" r="0.9"/>
<circle cx="113.8" cy="130.9" r="0.9"/>
<circle cx="106.2" cy="123.9" r="0.9"/>
<circle cx="111.2" cy="121.4" r="0.9"/>
<circle cx="101.6" cy="127.9" r="0.9"/>
<circle cx="111.3" cy="129.8" r="0.9"/>
<circle cx="120.1" cy="129.6" r="0.9"/>
<circle cx="105.1" cy="122.9" r="0.9"/>
<circle cx="120.5" cy="131.7" r="0.9"/>
<circle cx="89.8" cy="126.3" r="0.9"/>
<circle cx="97.5" cy="119.5" r="0.9"/>
<circle cx="114.3" cy="130.7" r="0.9"/>
<circle cx="95.2" cy="127.6" r="0.9"/>
<circle cx="106.3" cy="130.2" r="0.9"/>
<circle cx="103.2" cy="127.4" r="0.9"/>
<circle cx="116.7" cy="130.9" r="0.9"/>
<circle cx="89.0" cy="116.8" r="0.9"/>
<circle cx="113.3" cy="129.8" r="0.9"/>
<circle cx="112.3" cy="129.5" r="0.9"/>
<circle cx="110.7" cy="121.6" r="0.9"/>
<circle cx="122.0" cy="130.6" r="0.9"/>
<circle cx="104.5" cy="125.5" r="0.9"/>
<circle cx="112.5" cy="125.7" r="0.9"/>
<circle cx="109.1" cy="130.2" r="0.9"/>
<circle cx="89.7" cy="127.7" r="0.9"/>
<circle cx="98.3" cy="118.7" r="0.9"/>
<circle cx="117.9" cy="126.4" r="0.9"/>
<circle cx="95.3" cy="127.2" r="0.9"/>
<circle cx="89.4" cy="128.1" r="0.9"/>
<circle cx="105.7" cy="119.8" r="0.9"/>
<circle cx="105.4" cy="121.6" r="0.9"/>
<circle cx="110.1" cy="126.1" r="0.9"/>
<circle cx="106.9" cy="124.6" r="0.9"/>
<circle cx="97.1" cy="122.4" r="0.9"/>
<circle cx="96.0" cy="128.4" r="0.9"/>
<circle cx="100.4" cy="121.8" r="0.9"/>
<circle cx="96.6" cy="128.7" r="0.9"/>
<circle cx="104.5" cy="130.1" r="0.9"/>
<circle cx="87.1" cy="121.6" r="0.9"/>
<circle cx="115.5" cy="127.7" r="0.9"/>
<circle cx="113.2" cy="127.7" r="0.9"/>
<circle cx="94.9" cy="119.3" r="0.9"/>
<circle cx="86.6" cy="121.3" r="0.9"/>
<circle cx="104.9" cy="126.8" r="0.9"/>
<circle cx="118.5" cy="131.5" r="0.9"/>
<circle cx="90.6" cy="115.5" r="0.9"/>
<circle cx="93.1" cy="128.2" r="0.9"/>
<circle cx="101.5" cy="129.1" r="0.9"/>
<circle cx="112.9" cy="124.8" r="0.9"/>
<circle cx="88.8" cy="128.5" r="0.9"/>
<circle cx="95.2" cy="122.2" r="0.9"/>
<circle cx="98.6" cy="129.1" r="0.9"/>
<circle cx="111.9" cy="125.2" r="0.9"/>
<circle cx="116.8" cy="131.0" r="0.9"/>
<circle cx="107.2" cy="129.9" r="0.9"/>
<circle cx="114.9" cy="130.8" r="0.9"/>
<circle cx="116.6" cy="131.1" r="0.9"/>
<circle cx="109.7" cy="129.2" r="0.9"/>
<circle cx="118.8" cy="131.2" r="0.9"/>
<circle cx="110.0" cy="130.5" r="0.9"/>
<circle cx="113.8" cy="131.0" r="0.9"/>
<circle cx="96.9" cy="129.0" r="0.9"/>
<circle cx="150.8" cy="131.4" r="0.9"/>
<circle cx="155.9" cy="124.4" r="0.9"/>
<circle cx="156.5" cy="131.5" r="0.9"/>
<circle cx="145.0" cy="131.3" r="0.9"/>
<circle cx="161.1" cy="131.5" r="0.9"/>
<circle cx="157.9" cy="127.1" r="0.9"/>
<circle cx="159.7" cy="130.2" r="0.9"/>
<circle cx="149.6" cy="130.6" r="0.9"/>
<circle cx="155.2" cy="129.8" r="0.9"/>
<circle cx="156.5" cy="130.1" r="0.9"/>
<circle cx="160.0" cy="128.8" r="0.9"/>
<circle cx="146.5" cy="130.2" r="0.9"/>
<circle cx="145.7" cy="125.2" r="0.9"/>
<circle cx="142.4" cy="130.3" r="0.9"/>
<circle cx="149.9" cy="128.8" r="0.9"/>
<circle cx="143.3" cy="128.1" r="0.9"/>
<circle cx="143.8" cy="130.9" r="0.9"/>
<circle cx="147.3" cy="131.5" r="0.9"/>
<circle cx="164.1" cy="131.5" r="0.9"/>
<circle cx="161.5" cy="128.0" r="0.9"/>
<circle cx="162.2" cy="128.9" r="0.9"/>
<circle cx="152.6" cy="130.0" r="0.9"/>
<circle cx="152.7" cy="130.7" r="0.9"/>
<circle cx="144.6" cy="128.9" r="0.9"/>
<circle cx="158.7" cy="124.3" r="0.9"/>
<circle cx="161.7" cy="128.8" r="0.9"/>
<circle cx="145.1" cy="129.2" r="0.9"/>
<circle cx="144.3" cy="126.0" r="0.9"/>
<circle cx="157.7" cy="130.5" r="0.9"/>
<circle cx="147.6" cy="125.6" r="0.9"/>
<circle cx="150.1" cy="131.5" r="0.9"/>
<circle cx="155.6" cy="130.2" r="0.9"/>
<circle cx="143.5" cy="126.0" r="0.9"/>
<circle cx="145.2" cy="131.2" r="0.9"/>
<circle cx="152.2" cy="131.1" r="0.9"/>
<circle cx="147.8" cy="130.0" r="0.9"/>
<circle cx="162.2" cy="128.9" r="0.9"/>
<circle cx="150.0" cy="126.3" r="0.9"/>
<circle cx="162.2" cy="125.2" r="0.9"/>
<circle cx="142.1" cy="126.6" r="0.9"/>
<circle cx="158.2" cy="127.7" r="0.9"/>
<circle cx="157.0" cy="128.3" r="0.9"/>
<circle cx="145.2" cy="125.0" r="0.9"/>
<circle cx="158.7" cy="131.1" r="0.9"/>
<circle cx="152.3" cy="131.3" r="0.9"/>
<circle cx="145.7" cy="128.6" r="0.9"/>
<circle cx="143.9" cy="131.5" r="0.9"/>
<circle cx="154.3" cy="128.7" r="0.9"/>
<circle cx="161.7" cy="131.5" r="0.9"/>
<circle cx="147.3" cy="131.4" r="0.9"/>
<circle cx="161.8" cy="126.6" r="0.9"/>
<circle cx="144.2" cy="129.8" r="0.9"/>
<circle cx="156.1" cy="128.6" r="0.9"/>
<circle cx="151.1" cy="129.3" r="0.9"/>
<circle cx="145.3" cy="131.5" r="0.9"/>
<circle cx="168.1" cy="130.1" r="0.9"/>
<circle cx="167.9" cy="126.5" r="0.9"/>
<circle cx="170.4" cy="131.9" r="0.9"/>
<circle cx="176.4" cy="128.8" r="0.9"/>
<circle cx="178.0" cy="130.5" r="0.9"/>
<circle cx="180.9" cy="128.7" r="0.9"/>
<circle cx="181.2" cy="127.5" r="0.9"/>
<circle cx="170.1" cy="130.6" r="0.9"/>
<circle cx="168.9" cy="129.1" r="0.9"/>
<circle cx="172.0" cy="130.4" r="0.9"/>
</g>
<line x1="46.70" y1="20.20" x2="46.70" y2="145.30" stroke="#000" stroke-width="1.2"/>
<line x1="46.10" y1="144.70" x2="216.00" y2="144.70" stroke="#000" stroke-width="1.2"/>
<line x1="43.30" y1="139.40" x2="46.70" y2="139.40" stroke="#1a1a1a" stroke-width="1"/>
<text x="40.50" y="142.00" font-size="7.3" text-anchor="end" fill="#1a1a1a" stroke="#1a1a1a" stroke-width="0.12">0</text>
<line x1="43.30" y1="105.15" x2="46.70" y2="105.15" stroke="#1a1a1a" stroke-width="1"/>
<text x="40.50" y="107.75" font-size="7.3" text-anchor="end" fill="#1a1a1a" stroke="#1a1a1a" stroke-width="0.12">5</text>
<line x1="43.30" y1="70.90" x2="46.70" y2="70.90" stroke="#1a1a1a" stroke-width="1"/>
<text x="40.50" y="73.50" font-size="7.3" text-anchor="end" fill="#1a1a1a" stroke="#1a1a1a" stroke-width="0.12">10</text>
<line x1="43.30" y1="36.65" x2="46.70" y2="36.65" stroke="#1a1a1a" stroke-width="1"/>
<text x="40.50" y="39.25" font-size="7.3" text-anchor="end" fill="#1a1a1a" stroke="#1a1a1a" stroke-width="0.12">15</text>
<line x1="64.20" y1="144.70" x2="64.20" y2="147.90" stroke="#1a1a1a" stroke-width="1"/>
<text x="62.50" y="156.50" font-size="7.3" text-anchor="middle" fill="#1a1a1a" stroke="#1a1a1a" stroke-width="0.12">−10</text>
<line x1="97.95" y1="144.70" x2="97.95" y2="147.90" stroke="#1a1a1a" stroke-width="1"/>
<text x="96.25" y="156.50" font-size="7.3" text-anchor="middle" fill="#1a1a1a" stroke="#1a1a1a" stroke-width="0.12">−5</text>
<line x1="131.70" y1="144.70" x2="131.70" y2="147.90" stroke="#1a1a1a" stroke-width="1"/>
<text x="131.70" y="156.50" font-size="7.3" text-anchor="middle" fill="#1a1a1a" stroke="#1a1a1a" stroke-width="0.12">0</text>
<line x1="165.45" y1="144.70" x2="165.45" y2="147.90" stroke="#1a1a1a" stroke-width="1"/>
<text x="165.45" y="156.50" font-size="7.3" text-anchor="middle" fill="#1a1a1a" stroke="#1a1a1a" stroke-width="0.12">5</text>
<line x1="199.20" y1="144.70" x2="199.20" y2="147.90" stroke="#1a1a1a" stroke-width="1"/>
<text x="199.20" y="156.50" font-size="7.3" text-anchor="middle" fill="#1a1a1a" stroke="#1a1a1a" stroke-width="0.12">10</text>
<text transform="translate(23.60,82.60) rotate(-90)" dy="3.10" font-size="8.6" text-anchor="middle" fill="#1a1a1a" stroke="#1a1a1a" stroke-width="0.22" textLength="64.80" lengthAdjust="spacingAndGlyphs">−log<tspan font-size="5.8" dy="2">10</tspan><tspan dy="-2"> adjusted p-value</tspan></text>
<text x="131.50" y="168.80" font-size="8.6" text-anchor="middle" fill="#1a1a1a" stroke="#1a1a1a" stroke-width="0.22" textLength="45.70" lengthAdjust="spacingAndGlyphs">log<tspan font-size="5.8" dy="2">2</tspan><tspan dy="-2"> fold change</tspan></text>
<path d="M111.80,177.50 L107.70,177.50 M111.80,179.50 L107.70,179.50 M107.70,176.10 L105.10,178.50 L107.70,180.90" fill="none" stroke="#1a1a1a" stroke-width="0.7"/>
<text x="112.80" y="180.80" font-size="7.0" fill="#1a1a1a" stroke="#1a1a1a" stroke-width="0.12" textLength="45.70" lengthAdjust="spacingAndGlyphs">Up in sensitive</text>
<text x="97.80" y="189.30" font-size="7.0" fill="#1a1a1a" stroke="#1a1a1a" stroke-width="0.12" textLength="60.20" lengthAdjust="spacingAndGlyphs">Up in unresponsive</text>
<path d="M159.20,186.10 L162.90,186.10 M159.20,188.10 L162.90,188.10 M162.90,184.70 L165.50,187.10 L162.90,189.50" fill="none" stroke="#1a1a1a" stroke-width="0.7"/>
<text x="128.00" y="108.30" font-size="7" fill="#1a1a1a" stroke="#1a1a1a" stroke-width="0.12" textLength="15.30" lengthAdjust="spacingAndGlyphs">JAK3</text>
<line x1="137.30" y1="110.30" x2="142.30" y2="127.00" stroke="#1a1a1a" stroke-width="0.8"/>
<text x="190.70" y="123.10" font-size="7" fill="#1a1a1a" stroke="#1a1a1a" stroke-width="0.12" textLength="15.50" lengthAdjust="spacingAndGlyphs">BMX</text>
<line x1="178.60" y1="120.60" x2="188.80" y2="120.60" stroke="#1a1a1a" stroke-width="0.8"/>
<text x="257.20" y="14.80" font-size="11" font-weight="bold" fill="#000" stroke="#000" stroke-width="0.12">B</text>
<text x="372.70" y="14.50" font-size="8.8" fill="#1a1a1a" stroke="#1a1a1a" stroke-width="0.12" textLength="19.30" lengthAdjust="spacingAndGlyphs">BMX</text>
<text x="347.40" y="25.30" font-size="7.9" text-anchor="middle" fill="#1a1a1a" stroke="#1a1a1a" stroke-width="0.12" textLength="46.80" lengthAdjust="spacingAndGlyphs" stroke-width="0">Pre-treatment</text>
<text x="417.00" y="25.30" font-size="7.9" text-anchor="middle" fill="#1a1a1a" stroke="#1a1a1a" stroke-width="0.12" textLength="51.20" lengthAdjust="spacingAndGlyphs" stroke-width="0">Post-treatment</text>
<path d="M344.0,33.0 C344.8,32.5 345.7,33.1 345.6,34.0 C345.5,34.9 344.0,37.2 343.2,38.5 C342.4,39.8 341.5,41.1 340.8,41.6 C340.1,42.1 339.2,42.0 339.2,41.2 C339.2,40.4 340.2,38.4 341.0,37.0 C341.8,35.6 343.2,33.5 344.0,33.0 Z" fill="#cfcfcf"/>
<circle cx="343.27" cy="38.63" r="0.55" fill="#cfcfcf"/>
<circle cx="342.17" cy="39.62" r="0.55" fill="#cfcfcf"/>
<circle cx="341.52" cy="40.49" r="0.55" fill="#cfcfcf"/>
<circle cx="341.15" cy="38.20" r="0.55" fill="#cfcfcf"/>
<path d="M335.5,44.5 C336.5,43.8 337.1,43.2 338.0,42.8 C338.9,42.4 339.9,42.2 341.0,42.0 C342.1,41.8 343.6,41.5 344.5,41.8 C345.4,42.0 346.1,42.6 346.5,43.5 C346.9,44.4 347.1,46.0 347.0,47.0 C346.9,48.0 346.8,48.8 346.0,49.5 C345.2,50.2 343.2,51.0 342.0,51.5 C340.8,52.0 339.6,52.1 338.8,52.6 C338.0,53.1 337.4,53.9 337.2,54.6 C337.0,55.3 337.3,56.2 337.6,57.0 C337.9,57.8 338.3,58.9 339.0,59.5 C339.7,60.1 340.9,60.1 342.0,60.5 C343.1,60.9 344.7,61.2 345.5,62.0 C346.3,62.8 346.6,64.3 346.6,65.5 C346.6,66.7 346.3,68.2 345.5,69.0 C344.7,69.8 343.4,70.4 342.0,70.6 C340.6,70.8 338.5,70.4 337.0,70.2 C335.5,70.0 334.1,70.0 333.0,69.6 C331.9,69.2 331.1,68.9 330.5,68.0 C329.9,67.1 329.9,65.5 329.5,64.0 C329.1,62.5 328.5,60.4 328.0,59.0 C327.5,57.6 327.1,56.6 326.5,55.5 C325.9,54.4 324.5,53.5 324.4,52.6 C324.3,51.7 325.2,50.9 326.0,50.2 C326.8,49.5 328.0,49.1 329.0,48.6 C330.0,48.1 330.9,47.7 332.0,47.0 C333.1,46.3 334.5,45.2 335.5,44.5 Z" fill="#cfcfcf"/>
<circle cx="337.77" cy="68.65" r="0.55" fill="#cfcfcf"/>
<circle cx="340.18" cy="69.41" r="0.55" fill="#cfcfcf"/>
<circle cx="342.31" cy="67.68" r="0.55" fill="#cfcfcf"/>
<circle cx="324.49" cy="59.73" r="0.55" fill="#cfcfcf"/>
<circle cx="341.07" cy="50.99" r="0.55" fill="#cfcfcf"/>
<circle cx="347.96" cy="50.34" r="0.55" fill="#cfcfcf"/>
<circle cx="333.44" cy="59.60" r="0.55" fill="#cfcfcf"/>
<circle cx="332.69" cy="54.98" r="0.55" fill="#cfcfcf"/>
<circle cx="336.19" cy="60.63" r="0.55" fill="#cfcfcf"/>
<circle cx="338.05" cy="58.03" r="0.55" fill="#cfcfcf"/>
<circle cx="338.66" cy="69.77" r="0.55" fill="#cfcfcf"/>
<circle cx="335.87" cy="54.08" r="0.55" fill="#cfcfcf"/>
<circle cx="341.12" cy="48.12" r="0.55" fill="#cfcfcf"/>
<circle cx="338.95" cy="42.65" r="0.55" fill="#cfcfcf"/>
<circle cx="332.07" cy="62.57" r="0.55" fill="#cfcfcf"/>
<circle cx="341.56" cy="41.48" r="0.55" fill="#cfcfcf"/>
<circle cx="334.63" cy="59.05" r="0.55" fill="#cfcfcf"/>
<circle cx="331.27" cy="52.01" r="0.55" fill="#cfcfcf"/>
<circle cx="331.09" cy="52.17" r="0.55" fill="#cfcfcf"/>
<circle cx="338.05" cy="50.05" r="0.55" fill="#cfcfcf"/>
<circle cx="332.68" cy="64.59" r="0.55" fill="#cfcfcf"/>
<circle cx="331.03" cy="47.65" r="0.55" fill="#cfcfcf"/>
<circle cx="343.17" cy="48.15" r="0.55" fill="#cfcfcf"/>
<circle cx="328.01" cy="54.21" r="0.55" fill="#cfcfcf"/>
<circle cx="340.57" cy="43.94" r="0.55" fill="#cfcfcf"/>
<path d="M333.5,72.5 C334.3,72.1 334.9,72.8 334.6,73.5 C334.4,74.2 333.0,75.9 332.0,77.0 C331.0,78.1 329.3,79.6 328.5,80.0 C327.7,80.4 326.8,80.2 327.0,79.5 C327.2,78.8 328.9,77.2 330.0,76.0 C331.1,74.8 332.7,72.9 333.5,72.5 Z" fill="#cfcfcf"/>
<circle cx="329.23" cy="77.68" r="0.55" fill="#cfcfcf"/>
<circle cx="328.67" cy="79.17" r="0.55" fill="#cfcfcf"/>
<circle cx="328.76" cy="79.20" r="0.55" fill="#cfcfcf"/>
<path d="M359.2,39.5 C359.5,38.9 360.8,38.0 361.8,38.0 C362.8,38.0 364.1,38.5 365.0,39.2 C365.9,39.9 366.6,41.0 367.5,42.0 C368.4,43.0 370.2,44.2 370.5,45.0 C370.8,45.8 370.2,46.6 369.5,46.6 C368.8,46.6 367.6,45.5 366.5,44.8 C365.4,44.1 364.1,42.8 363.0,42.2 C361.9,41.6 360.6,41.9 360.0,41.4 C359.4,40.9 358.9,40.1 359.2,39.5 Z" fill="#dcdcdc"/>
<circle cx="360.49" cy="40.18" r="0.55" fill="#dcdcdc"/>
<circle cx="367.02" cy="42.56" r="0.55" fill="#dcdcdc"/>
<circle cx="362.74" cy="39.68" r="0.55" fill="#dcdcdc"/>
<circle cx="362.88" cy="39.09" r="0.55" fill="#dcdcdc"/>
<circle cx="364.49" cy="45.23" r="0.55" fill="#dcdcdc"/>
<circle cx="362.38" cy="40.72" r="0.55" fill="#dcdcdc"/>
<path d="M355.6,50.0 C356.1,49.2 357.9,49.2 358.6,49.6 C359.3,50.0 359.5,51.6 359.6,52.5 C359.7,53.4 358.8,54.6 359.4,55.2 C360.0,55.8 361.6,55.7 363.0,56.0 C364.4,56.3 366.2,56.6 367.5,57.2 C368.8,57.8 370.1,58.5 371.0,59.5 C371.9,60.5 372.7,61.8 373.0,63.0 C373.3,64.2 373.4,65.9 373.0,67.0 C372.6,68.1 371.5,69.1 370.6,69.4 C369.7,69.7 368.4,69.2 367.6,68.6 C366.8,68.0 366.1,66.8 365.6,66.0 C365.1,65.2 364.9,63.9 364.6,63.6 C364.3,63.4 363.9,63.7 363.6,64.5 C363.3,65.3 363.1,67.7 362.8,68.5 C362.5,69.3 362.0,69.5 361.6,69.6 C361.2,69.6 360.4,69.6 360.2,68.8 C360.0,68.0 360.7,65.5 360.6,64.5 C360.5,63.5 360.4,63.1 359.6,62.5 C358.8,61.9 357.0,61.2 356.0,60.6 C355.0,60.0 354.0,59.7 353.6,59.0 C353.2,58.3 353.1,57.2 353.4,56.5 C353.7,55.8 355.0,55.7 355.4,54.6 C355.8,53.5 355.1,50.8 355.6,50.0 Z" fill="#dedede"/>
<circle cx="366.37" cy="61.51" r="0.55" fill="#cfcfcf"/>
<circle cx="360.46" cy="61.90" r="0.55" fill="#cfcfcf"/>
<circle cx="365.86" cy="58.10" r="0.55" fill="#cfcfcf"/>
<circle cx="360.44" cy="59.52" r="0.55" fill="#cfcfcf"/>
<circle cx="367.58" cy="57.85" r="0.55" fill="#cfcfcf"/>
<circle cx="367.39" cy="58.74" r="0.55" fill="#cfcfcf"/>
<circle cx="357.69" cy="60.39" r="0.55" fill="#cfcfcf"/>
<circle cx="361.60" cy="67.95" r="0.55" fill="#cfcfcf"/>
<circle cx="371.57" cy="66.03" r="0.55" fill="#cfcfcf"/>
<circle cx="366.82" cy="64.74" r="0.55" fill="#cfcfcf"/>
<circle cx="353.36" cy="50.62" r="0.55" fill="#cfcfcf"/>
<circle cx="371.42" cy="52.54" r="0.55" fill="#cfcfcf"/>
<circle cx="366.95" cy="67.00" r="0.55" fill="#cfcfcf"/>
<circle cx="356.28" cy="54.10" r="0.55" fill="#cfcfcf"/>
<circle cx="365.71" cy="65.18" r="0.55" fill="#cfcfcf"/>
<circle cx="360.90" cy="56.68" r="0.55" fill="#cfcfcf"/>
<path d="M357.2,49.2 C357.5,48.8 358.9,48.8 359.2,49.2 C359.5,49.6 359.5,51.2 359.2,51.6 C358.9,52.0 357.5,52.0 357.2,51.6 C356.9,51.2 356.9,49.6 357.2,49.2 Z" fill="#dcdcdc"/>
<circle cx="347.80" cy="30.80" r="0.60" fill="#dcdcdc"/>
<circle cx="349.20" cy="47.40" r="0.80" fill="#dcdcdc"/>
<circle cx="323.00" cy="54.00" r="0.70" fill="#e6e6e6"/>
<circle cx="326.30" cy="54.60" r="0.80" fill="#3b2a7e"/>
<circle cx="327.30" cy="56.50" r="0.80" fill="#45206e"/>
<circle cx="327.60" cy="57.60" r="0.80" fill="#3b2a7e"/>
<circle cx="332.20" cy="60.80" r="0.80" fill="#3f4a8a"/>
<circle cx="332.50" cy="62.50" r="0.80" fill="#2c6e8e"/>
<circle cx="332.00" cy="64.00" r="0.80" fill="#3f4a8a"/>
<circle cx="333.00" cy="63.20" r="0.80" fill="#31688e"/>
<circle cx="332.90" cy="68.30" r="0.80" fill="#2c6e8e"/>
<circle cx="333.50" cy="61.50" r="0.80" fill="#5fb8c8"/>
<path d="M425.6,50.0 C426.1,49.2 427.9,49.2 428.6,49.6 C429.3,50.0 429.5,51.6 429.6,52.5 C429.7,53.4 428.8,54.6 429.4,55.2 C430.0,55.8 431.6,55.7 433.0,56.0 C434.4,56.3 436.2,56.6 437.5,57.2 C438.8,57.8 440.1,58.5 441.0,59.5 C441.9,60.5 442.7,61.8 443.0,63.0 C443.3,64.2 443.4,65.9 443.0,67.0 C442.6,68.1 441.5,69.1 440.6,69.4 C439.7,69.7 438.4,69.2 437.6,68.6 C436.8,68.0 436.1,66.8 435.6,66.0 C435.1,65.2 434.9,63.9 434.6,63.6 C434.3,63.4 433.9,63.7 433.6,64.5 C433.3,65.3 433.1,67.7 432.8,68.5 C432.5,69.3 432.0,69.5 431.6,69.6 C431.2,69.6 430.4,69.6 430.2,68.8 C430.0,68.0 430.7,65.5 430.6,64.5 C430.5,63.5 430.4,63.1 429.6,62.5 C428.8,61.9 427.0,61.2 426.0,60.6 C425.0,60.0 424.0,59.7 423.6,59.0 C423.2,58.3 423.1,57.2 423.4,56.5 C423.7,55.8 425.0,55.7 425.4,54.6 C425.8,53.5 425.1,50.8 425.6,50.0 Z" fill="#cbcbcb"/>
<circle cx="430.97" cy="56.31" r="0.55" fill="#cbcbcb"/>
<circle cx="436.96" cy="59.98" r="0.55" fill="#cbcbcb"/>
<circle cx="432.85" cy="62.74" r="0.55" fill="#cbcbcb"/>
<circle cx="441.78" cy="51.89" r="0.55" fill="#cbcbcb"/>
<circle cx="438.56" cy="68.77" r="0.55" fill="#cbcbcb"/>
<circle cx="433.57" cy="58.35" r="0.55" fill="#cbcbcb"/>
<circle cx="440.84" cy="61.46" r="0.55" fill="#cbcbcb"/>
<circle cx="428.17" cy="53.39" r="0.55" fill="#cbcbcb"/>
<circle cx="426.12" cy="56.53" r="0.55" fill="#cbcbcb"/>
<circle cx="432.51" cy="66.96" r="0.55" fill="#cbcbcb"/>
<circle cx="440.15" cy="60.86" r="0.55" fill="#cbcbcb"/>
<circle cx="432.80" cy="64.46" r="0.55" fill="#cbcbcb"/>
<path d="M414.5,33.3 C414.9,33.4 415.4,34.0 415.2,35.0 C415.0,36.0 414.0,37.7 413.2,39.0 C412.4,40.3 411.5,42.0 410.6,42.6 C409.7,43.2 408.5,43.0 408.0,42.6 C407.5,42.2 407.1,41.4 407.4,40.5 C407.7,39.6 409.1,38.5 410.0,37.5 C410.9,36.5 411.8,35.2 412.5,34.5 C413.2,33.8 414.1,33.2 414.5,33.3 Z" fill="#cfcfcf"/>
<circle cx="408.70" cy="40.41" r="0.55" fill="#cfcfcf"/>
<circle cx="408.23" cy="40.26" r="0.55" fill="#cfcfcf"/>
<circle cx="413.54" cy="33.27" r="0.55" fill="#cfcfcf"/>
<circle cx="414.57" cy="35.60" r="0.55" fill="#cfcfcf"/>
<circle cx="409.90" cy="38.86" r="0.55" fill="#cfcfcf"/>
<path d="M398.5,53.5 C398.5,52.8 399.2,52.1 400.0,51.5 C400.8,50.9 402.0,50.5 403.0,50.0 C404.0,49.5 405.0,49.0 406.0,48.5 C407.0,48.0 408.0,47.3 409.0,47.0 C410.0,46.7 411.4,46.2 412.0,46.5 C412.6,46.8 412.8,47.8 412.6,48.5 C412.4,49.2 411.8,50.3 411.0,51.0 C410.2,51.7 409.0,52.1 408.0,52.6 C407.0,53.1 406.0,53.6 405.0,54.0 C404.0,54.4 402.8,54.7 402.0,55.0 C401.2,55.3 400.6,55.9 400.0,55.6 C399.4,55.4 398.5,54.2 398.5,53.5 Z" fill="#cfcfcf"/>
<circle cx="404.52" cy="50.89" r="0.55" fill="#cfcfcf"/>
<circle cx="400.88" cy="51.99" r="0.55" fill="#cfcfcf"/>
<circle cx="401.78" cy="53.87" r="0.55" fill="#cfcfcf"/>
<circle cx="400.43" cy="52.67" r="0.55" fill="#cfcfcf"/>
<circle cx="407.12" cy="51.66" r="0.55" fill="#cfcfcf"/>
<circle cx="407.92" cy="50.58" r="0.55" fill="#cfcfcf"/>
<circle cx="402.53" cy="47.46" r="0.55" fill="#cfcfcf"/>
<circle cx="409.41" cy="49.49" r="0.55" fill="#cfcfcf"/>
<path d="M406.3,45.0 C406.5,44.7 407.4,44.7 407.6,45.0 C407.8,45.3 407.8,46.7 407.6,47.0 C407.4,47.3 406.5,47.3 406.3,47.0 C406.1,46.7 406.1,45.3 406.3,45.0 Z" fill="#dcdcdc"/>
<path d="M429.2,40.2 C429.5,39.7 430.8,38.9 431.8,39.0 C432.8,39.1 434.0,40.1 435.0,40.8 C436.0,41.5 437.1,42.2 438.0,43.0 C438.9,43.8 440.2,44.9 440.5,45.6 C440.8,46.3 440.2,47.0 439.6,47.0 C439.0,47.0 437.7,46.2 436.6,45.6 C435.5,45.0 434.1,44.0 433.0,43.4 C431.9,42.8 430.6,42.7 430.0,42.2 C429.4,41.7 428.9,40.7 429.2,40.2 Z" fill="#dcdcdc"/>
<circle cx="431.74" cy="41.83" r="0.55" fill="#dcdcdc"/>
<circle cx="432.63" cy="42.03" r="0.55" fill="#dcdcdc"/>
<circle cx="438.16" cy="43.92" r="0.55" fill="#dcdcdc"/>
<circle cx="430.15" cy="41.98" r="0.55" fill="#dcdcdc"/>
<circle cx="430.89" cy="40.50" r="0.55" fill="#dcdcdc"/>
<path d="M417.3,46.0 C417.8,45.5 419.5,45.4 420.0,45.8 C420.5,46.2 420.6,48.1 420.2,48.6 C419.8,49.1 417.8,49.0 417.3,48.6 C416.8,48.2 416.9,46.5 417.3,46.0 Z" fill="#dcdcdc"/>
<path d="M402.2,74.0 C402.9,73.7 403.5,74.3 403.3,75.0 C403.1,75.7 402.0,77.3 401.0,78.2 C400.0,79.1 398.3,80.4 397.5,80.6 C396.7,80.8 396.1,80.3 396.4,79.6 C396.7,78.9 398.4,77.5 399.4,76.6 C400.4,75.7 401.5,74.3 402.2,74.0 Z" fill="#e4e4e4"/>
<circle cx="400.32" cy="78.01" r="0.55" fill="#e4e4e4"/>
<circle cx="400.75" cy="79.25" r="0.55" fill="#e4e4e4"/>
<circle cx="400.06" cy="76.96" r="0.55" fill="#e4e4e4"/>
<path d="M399.2,55.0 C399.6,54.1 401.9,54.6 402.5,55.5 C403.1,56.4 403.4,59.6 403.0,60.5 C402.6,61.4 400.6,61.9 400.0,61.0 C399.4,60.1 398.8,55.9 399.2,55.0 Z" fill="#e8e8e8"/>
<path d="M404.8,64.5 C405.6,63.7 408.3,63.2 410.0,63.5 C411.7,63.8 414.5,64.8 415.2,66.0 C415.9,67.2 415.2,69.7 414.0,70.5 C412.8,71.3 409.5,71.3 408.0,71.0 C406.5,70.7 405.5,69.6 405.0,68.5 C404.5,67.4 404.0,65.3 404.8,64.5 Z" fill="#ededed"/>
<circle cx="406.20" cy="67.53" r="0.55" fill="#dcdcdc"/>
<circle cx="409.31" cy="67.88" r="0.55" fill="#dcdcdc"/>
<circle cx="413.63" cy="68.42" r="0.55" fill="#dcdcdc"/>
<circle cx="407.81" cy="70.77" r="0.55" fill="#dcdcdc"/>
<circle cx="412.97" cy="65.76" r="0.55" fill="#dcdcdc"/>
<circle cx="409.22" cy="69.69" r="0.55" fill="#dcdcdc"/>
<circle cx="409.81" cy="63.54" r="0.55" fill="#dcdcdc"/>
<circle cx="405.79" cy="67.22" r="0.55" fill="#dcdcdc"/>
<circle cx="395.90" cy="55.00" r="0.85" fill="#45206e"/>
<circle cx="396.30" cy="56.60" r="0.85" fill="#440154"/>
<circle cx="396.10" cy="57.80" r="0.85" fill="#46307e"/>
<circle cx="399.90" cy="61.60" r="0.85" fill="#3e6a8e"/>
<circle cx="391.80" cy="54.50" r="0.85" fill="#b8dce8"/>
<path d="M338.0,128.6 C338.6,127.3 341.2,127.4 342.5,127.6 C343.8,127.8 345.4,128.4 346.0,129.6 C346.6,130.8 346.7,133.3 346.2,134.5 C345.7,135.7 344.2,136.4 343.0,136.6 C341.8,136.8 339.8,136.9 339.0,135.6 C338.2,134.3 337.4,129.9 338.0,128.6 Z" fill="#cfcfcf"/>
<circle cx="344.13" cy="132.51" r="0.55" fill="#cfcfcf"/>
<circle cx="341.31" cy="133.74" r="0.55" fill="#cfcfcf"/>
<circle cx="340.11" cy="131.71" r="0.55" fill="#cfcfcf"/>
<circle cx="344.72" cy="131.02" r="0.55" fill="#cfcfcf"/>
<circle cx="340.74" cy="130.68" r="0.55" fill="#cfcfcf"/>
<circle cx="342.40" cy="133.16" r="0.55" fill="#cfcfcf"/>
<circle cx="338.99" cy="128.90" r="0.55" fill="#cfcfcf"/>
<circle cx="338.74" cy="131.04" r="0.55" fill="#cfcfcf"/>
<path d="M339.6,103.2 C340.0,102.5 341.6,102.3 342.0,103.0 C342.4,103.7 342.6,106.5 342.2,107.2 C341.8,107.9 340.2,107.9 339.8,107.2 C339.4,106.5 339.2,103.9 339.6,103.2 Z" fill="#dcdcdc"/>
<circle cx="339.37" cy="102.17" r="0.55" fill="#dcdcdc"/>
<circle cx="339.37" cy="105.04" r="0.55" fill="#dcdcdc"/>
<circle cx="339.87" cy="106.88" r="0.55" fill="#dcdcdc"/>
<path d="M355.6,115.2 C356.1,114.4 357.9,114.4 358.6,114.8 C359.3,115.2 359.5,116.8 359.6,117.7 C359.7,118.6 358.8,119.8 359.4,120.4 C360.0,121.0 361.6,120.9 363.0,121.2 C364.4,121.5 366.2,121.8 367.5,122.4 C368.8,123.0 370.1,123.7 371.0,124.7 C371.9,125.7 372.7,126.9 373.0,128.2 C373.3,129.4 373.4,131.1 373.0,132.2 C372.6,133.3 371.5,134.3 370.6,134.6 C369.7,134.9 368.4,134.4 367.6,133.8 C366.8,133.2 366.1,132.0 365.6,131.2 C365.1,130.4 364.9,129.1 364.6,128.8 C364.3,128.6 363.9,128.9 363.6,129.7 C363.3,130.5 363.1,132.8 362.8,133.7 C362.5,134.5 362.0,134.8 361.6,134.8 C361.2,134.9 360.4,134.8 360.2,134.0 C360.0,133.2 360.7,130.8 360.6,129.7 C360.5,128.6 360.4,128.3 359.6,127.7 C358.8,127.1 357.0,126.4 356.0,125.8 C355.0,125.2 354.0,124.9 353.6,124.2 C353.2,123.5 353.1,122.4 353.4,121.7 C353.7,121.0 355.0,120.9 355.4,119.8 C355.8,118.7 355.1,116.0 355.6,115.2 Z" fill="#dcdcdc"/>
<circle cx="357.80" cy="119.65" r="0.55" fill="#cfcfcf"/>
<circle cx="370.00" cy="127.64" r="0.55" fill="#cfcfcf"/>
<circle cx="373.34" cy="126.83" r="0.55" fill="#cfcfcf"/>
<circle cx="362.70" cy="131.48" r="0.55" fill="#cfcfcf"/>
<circle cx="372.22" cy="134.48" r="0.55" fill="#cfcfcf"/>
<circle cx="358.98" cy="127.15" r="0.55" fill="#cfcfcf"/>
<circle cx="370.45" cy="125.97" r="0.55" fill="#cfcfcf"/>
<circle cx="358.22" cy="117.53" r="0.55" fill="#cfcfcf"/>
<circle cx="367.97" cy="127.13" r="0.55" fill="#cfcfcf"/>
<circle cx="355.72" cy="129.44" r="0.55" fill="#cfcfcf"/>
<circle cx="362.49" cy="130.49" r="0.55" fill="#cfcfcf"/>
<circle cx="370.62" cy="127.93" r="0.55" fill="#cfcfcf"/>
<circle cx="371.38" cy="132.99" r="0.55" fill="#cfcfcf"/>
<circle cx="362.12" cy="133.53" r="0.55" fill="#cfcfcf"/>
<circle cx="353.96" cy="122.59" r="0.55" fill="#cfcfcf"/>
<circle cx="366.32" cy="126.68" r="0.55" fill="#cfcfcf"/>
<path d="M359.6,105.0 C359.8,104.4 361.5,104.0 362.6,104.2 C363.7,104.4 364.8,105.3 366.0,106.2 C367.2,107.1 368.9,108.7 369.6,109.6 C370.3,110.5 370.6,111.4 370.4,111.8 C370.2,112.2 369.5,112.3 368.6,112.0 C367.7,111.7 366.2,110.5 365.0,109.8 C363.8,109.1 362.5,108.6 361.6,107.8 C360.7,107.0 359.4,105.6 359.6,105.0 Z" fill="#dcdcdc"/>
<circle cx="368.60" cy="109.12" r="0.55" fill="#dcdcdc"/>
<circle cx="361.15" cy="111.95" r="0.55" fill="#dcdcdc"/>
<circle cx="364.56" cy="105.38" r="0.55" fill="#dcdcdc"/>
<circle cx="368.35" cy="111.74" r="0.55" fill="#dcdcdc"/>
<circle cx="364.54" cy="110.33" r="0.55" fill="#dcdcdc"/>
<path d="M332.6,140.8 C333.3,140.6 333.8,141.2 333.6,141.8 C333.4,142.4 332.4,143.8 331.4,144.6 C330.4,145.4 328.6,146.3 327.8,146.4 C327.0,146.5 326.3,146.0 326.6,145.4 C326.9,144.8 328.6,143.8 329.6,143.0 C330.6,142.2 331.9,141.0 332.6,140.8 Z" fill="#e4e4e4"/>
<circle cx="328.72" cy="143.48" r="0.55" fill="#e4e4e4"/>
<circle cx="331.44" cy="144.40" r="0.55" fill="#e4e4e4"/>
<circle cx="328.62" cy="143.07" r="0.55" fill="#e4e4e4"/>
<circle cx="322.90" cy="120.30" r="0.80" fill="#dcdcdc"/>
<circle cx="347.80" cy="96.80" r="0.60" fill="#dcdcdc"/>
<path d="M326.2,116.4 C326.7,115.9 327.8,115.7 328.4,116.0 C329.0,116.3 329.4,117.3 329.6,118.2 C329.8,119.1 329.3,120.5 329.6,121.5 C329.9,122.5 330.7,123.5 331.5,124.5 C332.3,125.5 333.6,126.5 334.5,127.6 C335.4,128.7 336.6,129.7 337.2,130.8 C337.8,131.9 338.2,133.7 337.8,134.4 C337.4,135.1 335.9,135.4 335.0,135.2 C334.1,135.0 333.0,134.2 332.2,133.2 C331.4,132.2 330.7,130.5 330.0,129.2 C329.3,127.9 328.5,126.8 327.8,125.6 C327.1,124.4 326.4,123.1 326.0,122.0 C325.6,120.9 325.4,119.9 325.4,119.0 C325.4,118.1 325.7,116.9 326.2,116.4 Z" fill="#2f5a8b"/>
<path d="M335.2,108.6 C335.6,108.1 336.9,107.9 337.6,108.2 C338.3,108.5 339.2,109.5 339.4,110.2 C339.6,110.9 339.5,112.2 339.0,112.6 C338.5,113.0 337.3,112.9 336.6,112.6 C335.9,112.3 335.2,111.7 335.0,111.0 C334.8,110.3 334.8,109.1 335.2,108.6 Z" fill="#2b6c8e"/>
<path d="M337.6,113.6 C337.9,113.2 339.2,112.9 340.0,113.4 C340.8,113.9 342.1,115.8 342.4,116.8 C342.7,117.8 342.4,119.1 342.0,119.4 C341.6,119.7 340.6,119.2 340.0,118.6 C339.4,118.0 338.6,116.8 338.2,116.0 C337.8,115.2 337.3,114.0 337.6,113.6 Z" fill="#3a4a8a"/>
<circle cx="328.10" cy="119.17" r="0.80" fill="#3d4b8a"/>
<circle cx="334.41" cy="132.79" r="0.80" fill="#1f9a8a"/>
<circle cx="337.16" cy="133.34" r="0.80" fill="#2a788e"/>
<circle cx="331.40" cy="130.85" r="0.80" fill="#2a788e"/>
<circle cx="331.22" cy="127.28" r="0.80" fill="#2c2f7a"/>
<circle cx="327.69" cy="117.84" r="0.80" fill="#1f9a8a"/>
<circle cx="327.82" cy="119.98" r="0.80" fill="#2a788e"/>
<circle cx="334.60" cy="130.34" r="0.80" fill="#21908c"/>
<circle cx="327.95" cy="125.36" r="0.80" fill="#3cbc75"/>
<circle cx="329.27" cy="124.89" r="0.80" fill="#433e85"/>
<circle cx="334.67" cy="133.86" r="0.80" fill="#433e85"/>
<circle cx="331.98" cy="126.29" r="0.80" fill="#3d4b8a"/>
<circle cx="329.90" cy="126.61" r="0.80" fill="#2a788e"/>
<circle cx="327.69" cy="116.25" r="0.80" fill="#2a788e"/>
<circle cx="336.62" cy="132.04" r="0.80" fill="#433e85"/>
<circle cx="329.26" cy="120.75" r="0.80" fill="#3cbc75"/>
<circle cx="331.58" cy="129.88" r="0.80" fill="#21908c"/>
<circle cx="333.18" cy="128.96" r="0.80" fill="#3cbc75"/>
<circle cx="328.87" cy="119.24" r="0.80" fill="#2c2f7a"/>
<circle cx="331.86" cy="130.49" r="0.80" fill="#3cbc75"/>
<circle cx="330.54" cy="125.95" r="0.80" fill="#3d4b8a"/>
<circle cx="329.04" cy="117.42" r="0.80" fill="#3d4b8a"/>
<circle cx="327.33" cy="122.05" r="0.80" fill="#433e85"/>
<circle cx="328.26" cy="124.81" r="0.80" fill="#433e85"/>
<circle cx="332.52" cy="126.56" r="0.80" fill="#2a788e"/>
<circle cx="334.73" cy="131.87" r="0.80" fill="#2a788e"/>
<circle cx="327.65" cy="123.36" r="0.80" fill="#3cbc75"/>
<circle cx="328.06" cy="116.73" r="0.80" fill="#21908c"/>
<circle cx="329.34" cy="123.54" r="0.80" fill="#21908c"/>
<circle cx="334.54" cy="129.41" r="0.80" fill="#2c2f7a"/>
<circle cx="334.61" cy="132.10" r="0.80" fill="#1f9a8a"/>
<circle cx="335.80" cy="132.91" r="0.80" fill="#21908c"/>
<circle cx="327.29" cy="120.11" r="0.80" fill="#3cbc75"/>
<circle cx="327.03" cy="118.79" r="0.80" fill="#3d4b8a"/>
<circle cx="330.45" cy="126.33" r="0.80" fill="#21908c"/>
<circle cx="330.88" cy="126.26" r="0.80" fill="#3cbc75"/>
<circle cx="336.05" cy="134.41" r="0.80" fill="#21908c"/>
<circle cx="328.70" cy="119.89" r="0.80" fill="#2c2f7a"/>
<circle cx="326.92" cy="123.75" r="0.80" fill="#433e85"/>
<circle cx="329.41" cy="125.72" r="0.80" fill="#21908c"/>
<circle cx="333.30" cy="127.35" r="0.80" fill="#1f9a8a"/>
<circle cx="337.01" cy="132.55" r="0.80" fill="#3cbc75"/>
<circle cx="329.09" cy="119.50" r="0.80" fill="#433e85"/>
<circle cx="331.61" cy="130.06" r="0.80" fill="#21908c"/>
<circle cx="327.01" cy="122.42" r="0.80" fill="#3cbc75"/>
<circle cx="336.16" cy="129.66" r="0.80" fill="#21908c"/>
<circle cx="330.00" cy="124.43" r="0.80" fill="#1f9a8a"/>
<circle cx="327.99" cy="124.36" r="0.80" fill="#3d4b8a"/>
<circle cx="334.54" cy="131.91" r="0.80" fill="#3cbc75"/>
<circle cx="329.61" cy="127.22" r="0.80" fill="#433e85"/>
<circle cx="328.96" cy="119.65" r="0.80" fill="#3cbc75"/>
<circle cx="330.15" cy="125.41" r="0.80" fill="#3d4b8a"/>
<circle cx="329.09" cy="121.51" r="0.80" fill="#1f9a8a"/>
<circle cx="336.49" cy="131.87" r="0.80" fill="#21908c"/>
<circle cx="333.39" cy="132.93" r="0.80" fill="#3d4b8a"/>
<circle cx="336.72" cy="108.59" r="0.70" fill="#3b528b"/>
<circle cx="337.28" cy="112.17" r="0.70" fill="#3b528b"/>
<circle cx="337.30" cy="110.73" r="0.70" fill="#21908c"/>
<circle cx="338.63" cy="112.24" r="0.70" fill="#2a788e"/>
<circle cx="337.91" cy="110.52" r="0.70" fill="#21908c"/>
<circle cx="337.52" cy="109.71" r="0.70" fill="#3b528b"/>
<circle cx="335.58" cy="110.54" r="0.70" fill="#3b528b"/>
<circle cx="337.28" cy="109.59" r="0.70" fill="#3b528b"/>
<circle cx="338.77" cy="111.45" r="0.70" fill="#21908c"/>
<circle cx="336.97" cy="111.37" r="0.70" fill="#2a788e"/>
<circle cx="343.20" cy="129.50" r="0.85" fill="#2a708e"/>
<circle cx="345.20" cy="130.60" r="0.85" fill="#31688e"/>
<circle cx="363.90" cy="107.10" r="0.85" fill="#2a8a8a"/>
<circle cx="365.00" cy="108.00" r="0.85" fill="#22a884"/>
<circle cx="334.70" cy="116.20" r="0.85" fill="#5ec962"/>
<circle cx="333.50" cy="117.50" r="0.85" fill="#35b779"/>
<circle cx="344.00" cy="108.40" r="0.85" fill="#3b528b"/>
<circle cx="341.80" cy="118.60" r="0.85" fill="#482878"/>
<path d="M409.6,128.6 C410.2,127.5 412.4,127.9 413.5,128.2 C414.6,128.5 415.8,129.3 416.2,130.4 C416.6,131.5 416.5,134.1 416.0,135.0 C415.5,135.9 414.0,135.9 413.0,135.8 C412.0,135.7 410.4,135.7 409.8,134.5 C409.2,133.3 409.0,129.7 409.6,128.6 Z" fill="#cfcfcf"/>
<circle cx="414.01" cy="131.94" r="0.55" fill="#cfcfcf"/>
<circle cx="415.94" cy="128.96" r="0.55" fill="#cfcfcf"/>
<circle cx="415.84" cy="130.23" r="0.55" fill="#cfcfcf"/>
<circle cx="415.09" cy="130.34" r="0.55" fill="#cfcfcf"/>
<circle cx="414.87" cy="129.47" r="0.55" fill="#cfcfcf"/>
<circle cx="411.76" cy="129.35" r="0.55" fill="#cfcfcf"/>
<circle cx="411.05" cy="130.52" r="0.55" fill="#cfcfcf"/>
<circle cx="410.39" cy="130.12" r="0.55" fill="#cfcfcf"/>
<path d="M404.6,113.4 C405.3,112.4 407.5,112.7 409.0,112.8 C410.5,112.9 412.9,113.1 413.6,114.0 C414.3,114.9 414.2,117.1 413.4,118.0 C412.6,118.9 410.4,119.5 409.0,119.6 C407.6,119.7 405.7,119.6 405.0,118.6 C404.3,117.6 403.9,114.4 404.6,113.4 Z" fill="#dcdcdc"/>
<circle cx="405.50" cy="113.28" r="0.55" fill="#dcdcdc"/>
<circle cx="408.91" cy="113.64" r="0.55" fill="#dcdcdc"/>
<circle cx="412.52" cy="115.01" r="0.55" fill="#dcdcdc"/>
<circle cx="406.16" cy="117.82" r="0.55" fill="#dcdcdc"/>
<circle cx="409.44" cy="117.07" r="0.55" fill="#dcdcdc"/>
<circle cx="408.27" cy="113.36" r="0.55" fill="#dcdcdc"/>
<circle cx="406.92" cy="115.09" r="0.55" fill="#dcdcdc"/>
<circle cx="408.22" cy="116.16" r="0.55" fill="#dcdcdc"/>
<path d="M425.6,115.2 C426.1,114.4 427.9,114.4 428.6,114.8 C429.3,115.2 429.5,116.8 429.6,117.7 C429.7,118.6 428.8,119.8 429.4,120.4 C430.0,121.0 431.6,120.9 433.0,121.2 C434.4,121.5 436.2,121.8 437.5,122.4 C438.8,123.0 440.1,123.7 441.0,124.7 C441.9,125.7 442.7,126.9 443.0,128.2 C443.3,129.4 443.4,131.1 443.0,132.2 C442.6,133.3 441.5,134.3 440.6,134.6 C439.7,134.9 438.4,134.4 437.6,133.8 C436.8,133.2 436.1,132.0 435.6,131.2 C435.1,130.4 434.9,129.1 434.6,128.8 C434.3,128.6 433.9,128.9 433.6,129.7 C433.3,130.5 433.1,132.8 432.8,133.7 C432.5,134.5 432.0,134.8 431.6,134.8 C431.2,134.9 430.4,134.8 430.2,134.0 C430.0,133.2 430.7,130.8 430.6,129.7 C430.5,128.6 430.4,128.3 429.6,127.7 C428.8,127.1 427.0,126.4 426.0,125.8 C425.0,125.2 424.0,124.9 423.6,124.2 C423.2,123.5 423.1,122.4 423.4,121.7 C423.7,121.0 425.0,120.9 425.4,119.8 C425.8,118.7 425.1,116.0 425.6,115.2 Z" fill="#d6d6d6"/>
<circle cx="430.81" cy="124.81" r="0.55" fill="#cbcbcb"/>
<circle cx="432.88" cy="122.74" r="0.55" fill="#cbcbcb"/>
<circle cx="435.77" cy="130.48" r="0.55" fill="#cbcbcb"/>
<circle cx="424.88" cy="123.02" r="0.55" fill="#cbcbcb"/>
<circle cx="436.11" cy="127.51" r="0.55" fill="#cbcbcb"/>
<circle cx="435.02" cy="128.72" r="0.55" fill="#cbcbcb"/>
<circle cx="428.63" cy="120.92" r="0.55" fill="#cbcbcb"/>
<circle cx="431.26" cy="134.12" r="0.55" fill="#cbcbcb"/>
<circle cx="429.40" cy="117.37" r="0.55" fill="#cbcbcb"/>
<circle cx="432.45" cy="133.78" r="0.55" fill="#cbcbcb"/>
<circle cx="434.34" cy="121.85" r="0.55" fill="#cbcbcb"/>
<circle cx="438.04" cy="127.14" r="0.55" fill="#cbcbcb"/>
<circle cx="424.97" cy="125.94" r="0.55" fill="#cbcbcb"/>
<circle cx="430.76" cy="126.05" r="0.55" fill="#cbcbcb"/>
<path d="M429.2,105.4 C429.5,104.9 430.8,104.1 431.8,104.2 C432.8,104.3 434.0,105.3 435.0,106.0 C436.0,106.7 437.1,107.4 438.0,108.2 C438.9,109.0 440.2,110.0 440.5,110.6 C440.8,111.2 440.2,112.0 439.6,112.0 C439.0,112.0 437.7,111.2 436.6,110.6 C435.5,110.0 434.1,109.1 433.0,108.6 C431.9,108.1 430.6,107.9 430.0,107.4 C429.4,106.9 428.9,105.9 429.2,105.4 Z" fill="#dcdcdc"/>
<circle cx="432.40" cy="105.89" r="0.55" fill="#dcdcdc"/>
<circle cx="431.67" cy="105.28" r="0.55" fill="#dcdcdc"/>
<circle cx="431.48" cy="105.73" r="0.55" fill="#dcdcdc"/>
<circle cx="432.82" cy="106.56" r="0.55" fill="#dcdcdc"/>
<circle cx="433.89" cy="108.74" r="0.55" fill="#dcdcdc"/>
<path d="M402.8,139.4 C403.5,139.1 404.0,139.7 403.8,140.4 C403.6,141.1 402.5,142.6 401.5,143.6 C400.5,144.6 398.8,145.9 398.0,146.2 C397.2,146.5 396.5,145.8 396.8,145.2 C397.1,144.6 398.8,143.4 399.8,142.4 C400.8,141.4 402.1,139.7 402.8,139.4 Z" fill="#e4e4e4"/>
<circle cx="402.36" cy="140.23" r="0.55" fill="#e4e4e4"/>
<circle cx="401.45" cy="143.36" r="0.55" fill="#e4e4e4"/>
<circle cx="404.49" cy="141.55" r="0.55" fill="#e4e4e4"/>
<path d="M397.4,116.0 C398.1,116.1 399.0,116.6 399.8,117.6 C400.6,118.6 401.4,120.2 402.2,121.8 C402.9,123.4 403.8,125.9 404.3,127.4 C404.8,128.9 404.6,130.2 405.2,130.8 C405.8,131.4 407.2,130.8 408.0,131.2 C408.8,131.6 409.9,132.5 410.2,133.2 C410.5,133.9 410.3,135.1 409.6,135.4 C408.9,135.7 407.2,135.1 406.0,135.0 C404.8,134.9 403.5,135.2 402.4,135.0 C401.3,134.8 400.2,134.3 399.4,133.6 C398.6,132.9 398.1,132.3 397.6,131.0 C397.1,129.7 397.0,127.8 396.6,126.0 C396.2,124.2 395.3,121.5 395.2,120.0 C395.1,118.5 395.4,117.7 395.8,117.0 C396.2,116.3 396.7,115.9 397.4,116.0 Z" fill="#2f5a8b"/>
<path d="M410.0,106.2 C410.2,105.7 411.9,106.2 412.6,106.6 C413.3,107.0 414.2,108.2 414.4,108.8 C414.6,109.4 414.3,110.1 413.8,110.2 C413.3,110.3 411.8,110.1 411.2,109.4 C410.6,108.7 409.8,106.7 410.0,106.2 Z" fill="#2a6a8e"/>
<circle cx="396.31" cy="124.30" r="0.85" fill="#26828e"/>
<circle cx="397.44" cy="126.55" r="0.85" fill="#27ad81"/>
<circle cx="399.09" cy="117.68" r="0.85" fill="#3b528b"/>
<circle cx="399.42" cy="129.55" r="0.85" fill="#21908c"/>
<circle cx="406.10" cy="132.18" r="0.85" fill="#26828e"/>
<circle cx="401.03" cy="131.63" r="0.85" fill="#2c728e"/>
<circle cx="398.42" cy="119.06" r="0.85" fill="#2c728e"/>
<circle cx="396.64" cy="122.13" r="0.85" fill="#1f9e89"/>
<circle cx="398.86" cy="117.87" r="0.85" fill="#2c728e"/>
<circle cx="398.15" cy="127.04" r="0.85" fill="#26828e"/>
<circle cx="400.92" cy="133.42" r="0.85" fill="#21908c"/>
<circle cx="403.02" cy="124.28" r="0.85" fill="#26828e"/>
<circle cx="401.98" cy="126.29" r="0.85" fill="#26828e"/>
<circle cx="397.72" cy="123.11" r="0.85" fill="#26828e"/>
<circle cx="397.03" cy="125.69" r="0.85" fill="#2c728e"/>
<circle cx="400.37" cy="121.75" r="0.85" fill="#21908c"/>
<circle cx="399.78" cy="118.58" r="0.85" fill="#27ad81"/>
<circle cx="397.58" cy="123.59" r="0.85" fill="#27ad81"/>
<circle cx="401.06" cy="125.03" r="0.85" fill="#1f9e89"/>
<circle cx="402.42" cy="128.32" r="0.85" fill="#21908c"/>
<circle cx="400.56" cy="128.62" r="0.85" fill="#27ad81"/>
<circle cx="402.38" cy="124.16" r="0.85" fill="#21908c"/>
<circle cx="398.24" cy="122.54" r="0.85" fill="#3b528b"/>
<circle cx="400.98" cy="122.19" r="0.85" fill="#27ad81"/>
<circle cx="397.88" cy="125.73" r="0.85" fill="#26828e"/>
<circle cx="401.67" cy="124.18" r="0.85" fill="#1f9e89"/>
<circle cx="400.30" cy="124.36" r="0.85" fill="#3b528b"/>
<circle cx="400.67" cy="131.84" r="0.85" fill="#2c728e"/>
<circle cx="400.65" cy="130.07" r="0.85" fill="#26828e"/>
<circle cx="401.22" cy="125.27" r="0.85" fill="#1f9e89"/>
<circle cx="402.75" cy="124.40" r="0.85" fill="#21908c"/>
<circle cx="405.45" cy="134.67" r="0.85" fill="#3b528b"/>
<circle cx="406.85" cy="133.45" r="0.85" fill="#3b528b"/>
<circle cx="396.76" cy="120.16" r="0.85" fill="#26828e"/>
<circle cx="397.56" cy="129.40" r="0.85" fill="#27ad81"/>
<circle cx="401.53" cy="122.12" r="0.85" fill="#2c728e"/>
<circle cx="403.45" cy="127.46" r="0.85" fill="#26828e"/>
<circle cx="399.95" cy="123.48" r="0.85" fill="#3b528b"/>
<circle cx="399.43" cy="117.66" r="0.85" fill="#2c728e"/>
<circle cx="398.86" cy="120.30" r="0.85" fill="#26828e"/>
<circle cx="400.20" cy="121.88" r="0.85" fill="#21908c"/>
<circle cx="404.87" cy="131.83" r="0.85" fill="#21908c"/>
<circle cx="398.96" cy="119.95" r="0.85" fill="#21908c"/>
<circle cx="400.37" cy="120.20" r="0.85" fill="#21908c"/>
<circle cx="396.95" cy="124.28" r="0.85" fill="#3b528b"/>
<circle cx="403.87" cy="132.07" r="0.85" fill="#1f9e89"/>
<circle cx="399.87" cy="128.90" r="0.85" fill="#3b528b"/>
<circle cx="401.53" cy="131.00" r="0.85" fill="#27ad81"/>
<circle cx="400.38" cy="128.69" r="0.85" fill="#1f9e89"/>
<circle cx="398.77" cy="130.50" r="0.85" fill="#1f9e89"/>
<circle cx="397.74" cy="122.36" r="0.85" fill="#3b528b"/>
<circle cx="401.84" cy="129.72" r="0.85" fill="#21908c"/>
<circle cx="402.11" cy="125.18" r="0.85" fill="#27ad81"/>
<circle cx="403.37" cy="125.30" r="0.85" fill="#2c728e"/>
<circle cx="396.31" cy="121.92" r="0.85" fill="#21908c"/>
<circle cx="407.78" cy="132.40" r="0.85" fill="#3b528b"/>
<circle cx="406.36" cy="131.44" r="0.85" fill="#2c728e"/>
<circle cx="405.35" cy="132.98" r="0.85" fill="#1f9e89"/>
<circle cx="398.22" cy="118.02" r="0.85" fill="#3b528b"/>
<circle cx="398.36" cy="129.88" r="0.85" fill="#3b528b"/>
<circle cx="399.76" cy="122.24" r="0.85" fill="#3b528b"/>
<circle cx="402.99" cy="123.96" r="0.85" fill="#2c728e"/>
<circle cx="407.20" cy="132.68" r="0.85" fill="#26828e"/>
<circle cx="399.58" cy="122.69" r="0.85" fill="#21908c"/>
<circle cx="396.71" cy="122.81" r="0.85" fill="#1f9e89"/>
<circle cx="403.15" cy="132.01" r="0.85" fill="#26828e"/>
<circle cx="403.05" cy="125.53" r="0.85" fill="#21908c"/>
<circle cx="406.33" cy="132.44" r="0.85" fill="#26828e"/>
<circle cx="407.40" cy="131.19" r="0.85" fill="#2c728e"/>
<circle cx="399.14" cy="118.58" r="0.85" fill="#1f9e89"/>
<circle cx="400.72" cy="119.72" r="0.85" fill="#1f9e89"/>
<circle cx="401.79" cy="125.48" r="0.85" fill="#3b528b"/>
<circle cx="402.10" cy="126.95" r="0.85" fill="#26828e"/>
<circle cx="397.57" cy="117.82" r="0.85" fill="#21908c"/>
<circle cx="400.67" cy="131.99" r="0.85" fill="#2c728e"/>
<circle cx="397.33" cy="121.55" r="0.85" fill="#21908c"/>
<circle cx="400.44" cy="131.22" r="0.85" fill="#26828e"/>
<circle cx="401.63" cy="129.62" r="0.85" fill="#3b528b"/>
<circle cx="402.15" cy="123.82" r="0.85" fill="#3b528b"/>
<circle cx="404.46" cy="134.92" r="0.85" fill="#26828e"/>
<circle cx="401.49" cy="123.08" r="0.85" fill="#3b528b"/>
<circle cx="401.14" cy="133.03" r="0.85" fill="#21908c"/>
<circle cx="398.95" cy="117.50" r="0.85" fill="#2c728e"/>
<circle cx="395.84" cy="121.15" r="0.85" fill="#26828e"/>
<circle cx="400.42" cy="124.02" r="0.85" fill="#3b528b"/>
<circle cx="400.55" cy="125.85" r="0.85" fill="#27ad81"/>
<circle cx="397.59" cy="123.05" r="0.85" fill="#27ad81"/>
<circle cx="409.63" cy="133.16" r="0.85" fill="#1f9e89"/>
<circle cx="401.27" cy="120.96" r="0.85" fill="#2c728e"/>
<circle cx="398.30" cy="128.67" r="0.85" fill="#21908c"/>
<circle cx="417.70" cy="96.60" r="0.80" fill="#25858e"/>
<circle cx="407.50" cy="111.30" r="0.80" fill="#25858e"/>
<circle cx="392.40" cy="120.70" r="0.80" fill="#25858e"/>
<circle cx="404.70" cy="118.20" r="0.80" fill="#25858e"/>
<circle cx="408.70" cy="118.20" r="0.80" fill="#25858e"/>
<circle cx="409.60" cy="128.40" r="0.80" fill="#25858e"/>
<circle cx="431.50" cy="105.80" r="0.80" fill="#25858e"/>
<circle cx="433.80" cy="108.20" r="0.80" fill="#25858e"/>
<circle cx="436.50" cy="110.20" r="0.80" fill="#25858e"/>
<circle cx="411.00" cy="130.50" r="0.80" fill="#25858e"/>
<circle cx="412.80" cy="129.60" r="0.80" fill="#25858e"/>
<rect x="319.40" y="28.40" width="56.80" height="54.80" fill="none" stroke="#111" stroke-width="1.1"/>
<rect x="389.40" y="28.40" width="56.80" height="54.80" fill="none" stroke="#111" stroke-width="1.1"/>
<rect x="319.40" y="93.60" width="56.80" height="54.80" fill="none" stroke="#111" stroke-width="1.1"/>
<rect x="389.40" y="93.60" width="56.80" height="54.80" fill="none" stroke="#111" stroke-width="1.1"/>
<line x1="316.60" y1="36.60" x2="319.40" y2="36.60" stroke="#1a1a1a" stroke-width="0.9"/>
<text x="313.40" y="39.40" font-size="7.9" text-anchor="end" fill="#1a1a1a" stroke="#1a1a1a" stroke-width="0.12">10</text>
<line x1="316.60" y1="47.45" x2="319.40" y2="47.45" stroke="#1a1a1a" stroke-width="0.9"/>
<text x="313.40" y="50.25" font-size="7.9" text-anchor="end" fill="#1a1a1a" stroke="#1a1a1a" stroke-width="0.12">5</text>
<line x1="316.60" y1="58.30" x2="319.40" y2="58.30" stroke="#1a1a1a" stroke-width="0.9"/>
<text x="313.40" y="61.10" font-size="7.9" text-anchor="end" fill="#1a1a1a" stroke="#1a1a1a" stroke-width="0.12">0</text>
<line x1="316.60" y1="69.15" x2="319.40" y2="69.15" stroke="#1a1a1a" stroke-width="0.9"/>
<text x="313.40" y="71.95" font-size="7.9" text-anchor="end" fill="#1a1a1a" stroke="#1a1a1a" stroke-width="0.12">−5</text>
<line x1="316.60" y1="80.00" x2="319.40" y2="80.00" stroke="#1a1a1a" stroke-width="0.9"/>
<text x="313.40" y="82.80" font-size="7.9" text-anchor="end" fill="#1a1a1a" stroke="#1a1a1a" stroke-width="0.12">−10</text>
<line x1="316.60" y1="101.90" x2="319.40" y2="101.90" stroke="#1a1a1a" stroke-width="0.9"/>
<text x="313.40" y="104.70" font-size="7.9" text-anchor="end" fill="#1a1a1a" stroke="#1a1a1a" stroke-width="0.12">10</text>
<line x1="316.60" y1="112.75" x2="319.40" y2="112.75" stroke="#1a1a1a" stroke-width="0.9"/>
<text x="313.40" y="115.55" font-size="7.9" text-anchor="end" fill="#1a1a1a" stroke="#1a1a1a" stroke-width="0.12">5</text>
<line x1="316.60" y1="123.60" x2="319.40" y2="123.60" stroke="#1a1a1a" stroke-width="0.9"/>
<text x="313.40" y="126.40" font-size="7.9" text-anchor="end" fill="#1a1a1a" stroke="#1a1a1a" stroke-width="0.12">0</text>
<line x1="316.60" y1="134.45" x2="319.40" y2="134.45" stroke="#1a1a1a" stroke-width="0.9"/>
<text x="313.40" y="137.25" font-size="7.9" text-anchor="end" fill="#1a1a1a" stroke="#1a1a1a" stroke-width="0.12">−5</text>
<line x1="316.60" y1="145.30" x2="319.40" y2="145.30" stroke="#1a1a1a" stroke-width="0.9"/>
<text x="313.40" y="148.10" font-size="7.9" text-anchor="end" fill="#1a1a1a" stroke="#1a1a1a" stroke-width="0.12">−10</text>
<line x1="326.20" y1="148.40" x2="326.20" y2="151.20" stroke="#1a1a1a" stroke-width="0.9"/>
<line x1="336.80" y1="148.40" x2="336.80" y2="151.20" stroke="#1a1a1a" stroke-width="0.9"/>
<line x1="347.40" y1="148.40" x2="347.40" y2="151.20" stroke="#1a1a1a" stroke-width="0.9"/>
<line x1="358.00" y1="148.40" x2="358.00" y2="151.20" stroke="#1a1a1a" stroke-width="0.9"/>
<line x1="368.60" y1="148.40" x2="368.60" y2="151.20" stroke="#1a1a1a" stroke-width="0.9"/>
<text x="325.00" y="161.00" font-size="7.9" text-anchor="middle" fill="#1a1a1a" stroke="#1a1a1a" stroke-width="0.12">−10</text>
<text x="337.00" y="161.00" font-size="7.9" text-anchor="middle" fill="#1a1a1a" stroke="#1a1a1a" stroke-width="0.12">−5</text>
<text x="347.60" y="161.00" font-size="7.9" text-anchor="middle" fill="#1a1a1a" stroke="#1a1a1a" stroke-width="0.12">0</text>
<text x="358.00" y="161.00" font-size="7.9" text-anchor="middle" fill="#1a1a1a" stroke="#1a1a1a" stroke-width="0.12">5</text>
<text x="368.60" y="161.00" font-size="7.9" text-anchor="middle" fill="#1a1a1a" stroke="#1a1a1a" stroke-width="0.12">10</text>
<line x1="395.95" y1="148.40" x2="395.95" y2="151.20" stroke="#1a1a1a" stroke-width="0.9"/>
<line x1="406.55" y1="148.40" x2="406.55" y2="151.20" stroke="#1a1a1a" stroke-width="0.9"/>
<line x1="417.15" y1="148.40" x2="417.15" y2="151.20" stroke="#1a1a1a" stroke-width="0.9"/>
<line x1="427.75" y1="148.40" x2="427.75" y2="151.20" stroke="#1a1a1a" stroke-width="0.9"/>
<line x1="438.35" y1="148.40" x2="438.35" y2="151.20" stroke="#1a1a1a" stroke-width="0.9"/>
<text x="394.75" y="161.00" font-size="7.9" text-anchor="middle" fill="#1a1a1a" stroke="#1a1a1a" stroke-width="0.12">−10</text>
<text x="406.75" y="161.00" font-size="7.9" text-anchor="middle" fill="#1a1a1a" stroke="#1a1a1a" stroke-width="0.12">−5</text>
<text x="417.35" y="161.00" font-size="7.9" text-anchor="middle" fill="#1a1a1a" stroke="#1a1a1a" stroke-width="0.12">0</text>
<text x="427.75" y="161.00" font-size="7.9" text-anchor="middle" fill="#1a1a1a" stroke="#1a1a1a" stroke-width="0.12">5</text>
<text x="438.35" y="161.00" font-size="7.9" text-anchor="middle" fill="#1a1a1a" stroke="#1a1a1a" stroke-width="0.12">10</text>
<text transform="translate(451.40,55.60) rotate(90)" dy="3.17" font-size="8.8" text-anchor="middle" fill="#1a1a1a" stroke="#1a1a1a" stroke-width="0.15" textLength="25.60" lengthAdjust="spacingAndGlyphs">Sensitive</text>
<text transform="translate(451.40,121.30) rotate(90)" dy="3.17" font-size="8.8" text-anchor="middle" fill="#1a1a1a" stroke="#1a1a1a" stroke-width="0.15" textLength="36.30" lengthAdjust="spacingAndGlyphs">Unresponsive</text>
<text transform="translate(290.65,88.55) rotate(-90)" dy="3.42" font-size="9.5" text-anchor="middle" fill="#1a1a1a" stroke="#1a1a1a" stroke-width="0.22" textLength="22.90" lengthAdjust="spacingAndGlyphs">UMAP 2</text>
<text x="382.25" y="175.70" font-size="9.5" text-anchor="middle" fill="#1a1a1a" stroke="#1a1a1a" stroke-width="0.22" textLength="22.90" lengthAdjust="spacingAndGlyphs">UMAP 1</text>
<defs><linearGradient id="vir" x1="0" y1="0" x2="0" y2="1"><stop offset="0" stop-color="#74d055"/><stop offset="0.2" stop-color="#2eb37c"/><stop offset="0.5" stop-color="#228b8d"/><stop offset="0.78" stop-color="#3c4c8a"/><stop offset="1" stop-color="#440154"/></linearGradient></defs>
<rect x="471.30" y="75.90" width="7.70" height="42.90" fill="url(#vir)"/>
<line x1="471.30" y1="85.00" x2="472.80" y2="85.00" stroke="#ffffff" stroke-width="0.5"/>
<line x1="477.50" y1="85.00" x2="479.00" y2="85.00" stroke="#ffffff" stroke-width="0.5"/>
<line x1="471.30" y1="97.20" x2="472.80" y2="97.20" stroke="#ffffff" stroke-width="0.5"/>
<line x1="477.50" y1="97.20" x2="479.00" y2="97.20" stroke="#ffffff" stroke-width="0.5"/>
<line x1="471.30" y1="109.70" x2="472.80" y2="109.70" stroke="#ffffff" stroke-width="0.5"/>
<line x1="477.50" y1="109.70" x2="479.00" y2="109.70" stroke="#ffffff" stroke-width="0.5"/>
<text x="470.80" y="70.60" font-size="7.2" fill="#1a1a1a" stroke="#1a1a1a" stroke-width="0.12" textLength="32.80" lengthAdjust="spacingAndGlyphs">Expression</text>
<text x="482.40" y="87.90" font-size="7.3" fill="#1a1a1a" stroke="#1a1a1a" stroke-width="0.12" textLength="9.60" lengthAdjust="spacingAndGlyphs">0.5</text>
<text x="482.40" y="100.10" font-size="7.3" fill="#1a1a1a" stroke="#1a1a1a" stroke-width="0.12" textLength="9.60" lengthAdjust="spacingAndGlyphs">0.0</text>
<text x="482.40" y="112.50" font-size="7.3" fill="#1a1a1a" stroke="#1a1a1a" stroke-width="0.12" textLength="13.90" lengthAdjust="spacingAndGlyphs">−0.5</text>
<text x="6.60" y="200.20" font-size="11" font-weight="bold" fill="#000" stroke="#000" stroke-width="0.12">C</text>
<line x1="75.50" y1="202.70" x2="75.50" y2="320.30" stroke="#1a1a1a" stroke-width="1.2"/>
<line x1="74.90" y1="319.80" x2="218.00" y2="319.80" stroke="#1a1a1a" stroke-width="1.3"/>
<line x1="72.30" y1="319.60" x2="75.50" y2="319.60" stroke="#1a1a1a" stroke-width="1"/>
<text x="68.90" y="322.30" font-size="7.6" text-anchor="end" fill="#1a1a1a" stroke="#1a1a1a" stroke-width="0.12">0</text>
<line x1="72.30" y1="274.60" x2="75.50" y2="274.60" stroke="#1a1a1a" stroke-width="1"/>
<text x="68.90" y="277.30" font-size="7.6" text-anchor="end" fill="#1a1a1a" stroke="#1a1a1a" stroke-width="0.12">50</text>
<line x1="72.30" y1="229.60" x2="75.50" y2="229.60" stroke="#1a1a1a" stroke-width="1"/>
<text x="68.90" y="232.30" font-size="7.6" text-anchor="end" fill="#1a1a1a" stroke="#1a1a1a" stroke-width="0.12">100</text>
<text x="77.20" y="209.60" font-size="7.8" fill="#1a1a1a" stroke="#1a1a1a" stroke-width="0.12" textLength="27.60" lengthAdjust="spacingAndGlyphs">MV4-11</text>
<line x1="114.80" y1="202.70" x2="114.80" y2="319.60" stroke="#1a1a1a" stroke-width="1" stroke-dasharray="3,2.2"/>
<line x1="154.60" y1="202.70" x2="154.60" y2="319.60" stroke="#1a1a1a" stroke-width="1" stroke-dasharray="3,2.2"/>
<circle cx="80.00" cy="233.80" r="1.95" fill="#3db34a"/>
<circle cx="79.60" cy="228.50" r="1.95" fill="#3db34a"/>
<circle cx="82.30" cy="226.50" r="1.95" fill="#3db34a"/>
<circle cx="85.00" cy="227.30" r="1.95" fill="#3db34a"/>
<circle cx="87.30" cy="230.00" r="1.95" fill="#3db34a"/>
<circle cx="84.20" cy="231.50" r="1.95" fill="#3db34a"/>
<circle cx="82.30" cy="230.00" r="1.95" fill="#3db34a"/>
<circle cx="82.70" cy="232.30" r="1.95" fill="#3db34a"/>
<line x1="101.20" y1="232.30" x2="103.00" y2="232.30" stroke="#1a1a1a" stroke-width="1"/>
<circle cx="102.30" cy="228.50" r="1.95" fill="#5a1f78"/>
<circle cx="107.30" cy="228.80" r="1.95" fill="#5a1f78"/>
<circle cx="105.40" cy="231.90" r="1.95" fill="#5a1f78"/>
<circle cx="110.00" cy="232.70" r="1.95" fill="#5a1f78"/>
<circle cx="106.20" cy="238.10" r="1.95" fill="#5a1f78"/>
<circle cx="104.20" cy="230.00" r="1.95" fill="#5a1f78"/>
<path d="M117.60,281.80 L120.00,281.40 L124.00,281.60 L128.60,281.80 L128.80,286.60 L126.60,287.20 L126.00,288.60 L121.80,288.60 L121.40,287.40 L117.60,287.40 Z" fill="#3db34a" stroke="#3db34a" stroke-width="0.8" stroke-linejoin="round"/>
<path d="M140.20,253.40 L143.50,252.60 L146.80,252.40 L147.60,250.60 L151.60,250.40 L151.80,259.60 L150.20,260.40 L147.00,261.40 L146.60,263.00 L140.60,263.20 L140.00,258.00 Z" fill="#5a1f78" stroke="#5a1f78" stroke-width="0.8" stroke-linejoin="round"/>
<path d="M157.20,273.80 L168.80,273.80 L168.60,277.40 L166.40,278.80 L165.60,282.40 L164.20,283.40 L164.20,288.40 L160.20,288.40 L160.20,284.60 L161.60,282.60 L160.20,279.00 L157.40,277.60 Z" fill="#c8102e" stroke="#c8102e" stroke-width="0.8" stroke-linejoin="round"/>
<path d="M183.60,277.40 L188.20,277.40 L188.40,280.60 L191.60,280.80 L191.60,285.60 L188.60,286.00 L188.20,289.60 L183.80,289.60 L183.60,286.00 L180.20,285.80 L180.20,280.80 L183.40,280.60 Z" fill="#0e4f8a" stroke="#0e4f8a" stroke-width="0.8" stroke-linejoin="round"/>
<path d="M203.00,254.60 L208.50,254.60 L210.00,255.60 L214.80,255.60 L215.00,260.00 L203.00,260.00 Z" fill="#ff8c00" stroke="#ff8c00" stroke-width="0.8" stroke-linejoin="round"/>
<path d="M206.40,263.40 L214.60,263.40 L214.60,268.40 L208.40,268.40 L208.20,272.60 L203.00,272.60 L203.00,267.80 L206.40,267.60 Z" fill="#ff8c00" stroke="#ff8c00" stroke-width="0.8" stroke-linejoin="round"/>
<line x1="203.80" y1="261.80" x2="214.90" y2="261.80" stroke="#222" stroke-width="1.1"/>
<text x="71.20" y="331.50" font-size="7.3" text-anchor="end" fill="#1a1a1a" stroke="#1a1a1a" stroke-width="0.12" textLength="53.00" lengthAdjust="spacingAndGlyphs">Gilteritinb (6nM)</text>
<text x="71.20" y="341.60" font-size="7.3" text-anchor="end" fill="#1a1a1a" stroke="#1a1a1a" stroke-width="0.12" textLength="25.20" lengthAdjust="spacingAndGlyphs">Hypoxia</text>
<line x1="81.70" y1="328.60" x2="84.90" y2="328.60" stroke="#1a1a1a" stroke-width="0.85"/>
<line x1="81.70" y1="338.80" x2="84.90" y2="338.80" stroke="#1a1a1a" stroke-width="0.85"/>
<line x1="102.90" y1="328.60" x2="106.10" y2="328.60" stroke="#1a1a1a" stroke-width="0.85"/>
<line x1="102.70" y1="338.80" x2="106.30" y2="338.80" stroke="#1a1a1a" stroke-width="0.85"/>
<line x1="104.50" y1="337.00" x2="104.50" y2="340.60" stroke="#1a1a1a" stroke-width="0.85"/>
<line x1="118.30" y1="328.60" x2="121.90" y2="328.60" stroke="#1a1a1a" stroke-width="0.85"/>
<line x1="120.10" y1="326.80" x2="120.10" y2="330.40" stroke="#1a1a1a" stroke-width="0.85"/>
<line x1="118.50" y1="338.80" x2="121.70" y2="338.80" stroke="#1a1a1a" stroke-width="0.85"/>
<line x1="141.40" y1="328.60" x2="145.00" y2="328.60" stroke="#1a1a1a" stroke-width="0.85"/>
<line x1="143.20" y1="326.80" x2="143.20" y2="330.40" stroke="#1a1a1a" stroke-width="0.85"/>
<line x1="141.40" y1="338.80" x2="145.00" y2="338.80" stroke="#1a1a1a" stroke-width="0.85"/>
<line x1="143.20" y1="337.00" x2="143.20" y2="340.60" stroke="#1a1a1a" stroke-width="0.85"/>
<line x1="161.30" y1="328.60" x2="164.90" y2="328.60" stroke="#1a1a1a" stroke-width="0.85"/>
<line x1="163.10" y1="326.80" x2="163.10" y2="330.40" stroke="#1a1a1a" stroke-width="0.85"/>
<line x1="161.30" y1="338.80" x2="164.90" y2="338.80" stroke="#1a1a1a" stroke-width="0.85"/>
<line x1="163.10" y1="337.00" x2="163.10" y2="340.60" stroke="#1a1a1a" stroke-width="0.85"/>
<line x1="187.10" y1="328.60" x2="190.70" y2="328.60" stroke="#1a1a1a" stroke-width="0.85"/>
<line x1="188.90" y1="326.80" x2="188.90" y2="330.40" stroke="#1a1a1a" stroke-width="0.85"/>
<line x1="187.10" y1="338.80" x2="190.70" y2="338.80" stroke="#1a1a1a" stroke-width="0.85"/>
<line x1="188.90" y1="337.00" x2="188.90" y2="340.60" stroke="#1a1a1a" stroke-width="0.85"/>
<line x1="210.50" y1="328.60" x2="214.10" y2="328.60" stroke="#1a1a1a" stroke-width="0.85"/>
<line x1="212.30" y1="326.80" x2="212.30" y2="330.40" stroke="#1a1a1a" stroke-width="0.85"/>
<line x1="210.50" y1="338.80" x2="214.10" y2="338.80" stroke="#1a1a1a" stroke-width="0.85"/>
<line x1="212.30" y1="337.00" x2="212.30" y2="340.60" stroke="#1a1a1a" stroke-width="0.85"/>
<text transform="translate(165.30,347.20) rotate(-90)" font-size="7" text-anchor="end" fill="#1a1a1a" stroke="#1a1a1a" stroke-width="0.12" textLength="28.80" lengthAdjust="spacingAndGlyphs">Bmx-IN-1</text>
<text transform="translate(191.00,346.50) rotate(-90)" font-size="7" text-anchor="end" fill="#1a1a1a" stroke="#1a1a1a" stroke-width="0.12" textLength="25.50" lengthAdjust="spacingAndGlyphs">CHMFL</text>
<text transform="translate(214.70,346.50) rotate(-90)" font-size="7" text-anchor="end" fill="#1a1a1a" stroke="#1a1a1a" stroke-width="0.12" textLength="15.10" lengthAdjust="spacingAndGlyphs">Remi</text>
<text transform="translate(47.30,261.00) rotate(-90)" dy="3.10" font-size="8.6" text-anchor="middle" fill="#1a1a1a" stroke="#1a1a1a" stroke-width="0.22" textLength="30.00" lengthAdjust="spacingAndGlyphs">% Viability</text>
<text x="257.30" y="199.90" font-size="11" font-weight="bold" fill="#000" stroke="#000" stroke-width="0.12">D</text>
<line x1="319.60" y1="202.70" x2="319.60" y2="320.30" stroke="#1a1a1a" stroke-width="1.2"/>
<line x1="319.00" y1="319.80" x2="462.30" y2="319.80" stroke="#1a1a1a" stroke-width="1.3"/>
<line x1="316.40" y1="319.60" x2="319.60" y2="319.60" stroke="#1a1a1a" stroke-width="1"/>
<text x="313.60" y="322.30" font-size="7.6" text-anchor="end" fill="#1a1a1a" stroke="#1a1a1a" stroke-width="0.12">0</text>
<line x1="316.40" y1="273.60" x2="319.60" y2="273.60" stroke="#1a1a1a" stroke-width="1"/>
<text x="313.60" y="276.30" font-size="7.6" text-anchor="end" fill="#1a1a1a" stroke="#1a1a1a" stroke-width="0.12">50</text>
<line x1="316.40" y1="227.60" x2="319.60" y2="227.60" stroke="#1a1a1a" stroke-width="1"/>
<text x="313.60" y="230.30" font-size="7.6" text-anchor="end" fill="#1a1a1a" stroke="#1a1a1a" stroke-width="0.12">100</text>
<text x="321.20" y="209.60" font-size="7.8" fill="#1a1a1a" stroke="#1a1a1a" stroke-width="0.12" textLength="34.80" lengthAdjust="spacingAndGlyphs">MOLM-13</text>
<line x1="358.60" y1="202.70" x2="358.60" y2="319.60" stroke="#1a1a1a" stroke-width="1" stroke-dasharray="3,2.2"/>
<line x1="398.60" y1="202.70" x2="398.60" y2="319.60" stroke="#1a1a1a" stroke-width="1" stroke-dasharray="3,2.2"/>
<circle cx="327.60" cy="218.90" r="1.95" fill="#3db34a"/>
<circle cx="324.70" cy="226.90" r="1.95" fill="#3db34a"/>
<circle cx="327.10" cy="225.00" r="1.95" fill="#3db34a"/>
<circle cx="329.50" cy="227.40" r="1.95" fill="#3db34a"/>
<circle cx="331.50" cy="225.00" r="1.95" fill="#3db34a"/>
<circle cx="328.60" cy="224.50" r="1.95" fill="#3db34a"/>
<circle cx="326.00" cy="227.00" r="1.95" fill="#3db34a"/>
<line x1="323.30" y1="225.50" x2="325.20" y2="225.50" stroke="#1a1a1a" stroke-width="1"/>
<circle cx="347.80" cy="224.50" r="1.95" fill="#5a1f78"/>
<circle cx="351.70" cy="222.80" r="1.95" fill="#5a1f78"/>
<circle cx="355.00" cy="225.50" r="1.95" fill="#5a1f78"/>
<circle cx="352.10" cy="228.30" r="1.95" fill="#5a1f78"/>
<circle cx="347.80" cy="229.30" r="1.95" fill="#5a1f78"/>
<circle cx="350.00" cy="226.00" r="1.95" fill="#5a1f78"/>
<path d="M366.00,279.40 L369.60,279.40 L370.40,283.20 L373.80,286.20 L373.80,290.80 L370.00,290.80 L369.20,288.60 L367.20,288.40 L366.40,290.40 L362.40,290.40 L362.40,286.40 L365.20,283.20 Z" fill="#3db34a" stroke="#3db34a" stroke-width="0.8" stroke-linejoin="round"/>
<rect x="388.45" y="219.05" width="4.30" height="4.30" fill="#5a1f78"/>
<rect x="385.45" y="229.55" width="4.30" height="4.30" fill="#5a1f78"/>
<rect x="389.05" y="231.45" width="4.30" height="4.30" fill="#5a1f78"/>
<rect x="392.15" y="230.15" width="4.30" height="4.30" fill="#5a1f78"/>
<rect x="388.45" y="239.05" width="4.30" height="4.30" fill="#5a1f78"/>
<rect x="388.65" y="229.05" width="4.30" height="4.30" fill="#5a1f78"/>
<path d="M402.60,279.60 L406.60,279.00 L408.20,278.60 L412.20,278.60 L412.60,282.40 L414.00,283.60 L414.00,287.80 L409.00,288.40 L402.60,288.80 Z" fill="#c8102e" stroke="#c8102e" stroke-width="0.8" stroke-linejoin="round"/>
<path d="M430.00,248.60 L433.40,247.80 L434.40,251.00 L436.80,251.80 L437.20,256.60 L435.20,257.40 L434.60,259.80 L431.00,260.20 L425.60,260.60 L425.40,255.80 L425.80,251.60 L429.60,251.20 Z" fill="#0e4f8a" stroke="#0e4f8a" stroke-width="0.8" stroke-linejoin="round"/>
<path d="M448.40,219.40 L452.60,219.40 L452.80,223.60 L454.60,223.40 L454.80,220.40 L459.60,220.40 L459.60,230.00 L454.80,230.20 L454.60,227.60 L452.80,227.80 L452.60,231.20 L448.40,231.20 Z" fill="#ff8c00" stroke="#ff8c00" stroke-width="0.8" stroke-linejoin="round"/>
<line x1="448.20" y1="225.20" x2="451.00" y2="225.20" stroke="#333" stroke-width="1"/>
<text x="315.60" y="331.50" font-size="7.3" text-anchor="end" fill="#1a1a1a" stroke="#1a1a1a" stroke-width="0.12" textLength="59.30" lengthAdjust="spacingAndGlyphs">Gilteritinb (30nM)</text>
<text x="315.60" y="341.60" font-size="7.3" text-anchor="end" fill="#1a1a1a" stroke="#1a1a1a" stroke-width="0.12" textLength="25.80" lengthAdjust="spacingAndGlyphs">Hypoxia</text>
<line x1="326.10" y1="328.60" x2="329.30" y2="328.60" stroke="#1a1a1a" stroke-width="0.85"/>
<line x1="326.10" y1="338.80" x2="329.30" y2="338.80" stroke="#1a1a1a" stroke-width="0.85"/>
<line x1="346.80" y1="328.60" x2="350.00" y2="328.60" stroke="#1a1a1a" stroke-width="0.85"/>
<line x1="346.60" y1="338.80" x2="350.20" y2="338.80" stroke="#1a1a1a" stroke-width="0.85"/>
<line x1="348.40" y1="337.00" x2="348.40" y2="340.60" stroke="#1a1a1a" stroke-width="0.85"/>
<line x1="364.60" y1="328.60" x2="368.20" y2="328.60" stroke="#1a1a1a" stroke-width="0.85"/>
<line x1="366.40" y1="326.80" x2="366.40" y2="330.40" stroke="#1a1a1a" stroke-width="0.85"/>
<line x1="364.80" y1="338.80" x2="368.00" y2="338.80" stroke="#1a1a1a" stroke-width="0.85"/>
<line x1="388.70" y1="328.60" x2="392.30" y2="328.60" stroke="#1a1a1a" stroke-width="0.85"/>
<line x1="390.50" y1="326.80" x2="390.50" y2="330.40" stroke="#1a1a1a" stroke-width="0.85"/>
<line x1="388.70" y1="338.80" x2="392.30" y2="338.80" stroke="#1a1a1a" stroke-width="0.85"/>
<line x1="390.50" y1="337.00" x2="390.50" y2="340.60" stroke="#1a1a1a" stroke-width="0.85"/>
<line x1="405.50" y1="328.60" x2="409.10" y2="328.60" stroke="#1a1a1a" stroke-width="0.85"/>
<line x1="407.30" y1="326.80" x2="407.30" y2="330.40" stroke="#1a1a1a" stroke-width="0.85"/>
<line x1="405.50" y1="338.80" x2="409.10" y2="338.80" stroke="#1a1a1a" stroke-width="0.85"/>
<line x1="407.30" y1="337.00" x2="407.30" y2="340.60" stroke="#1a1a1a" stroke-width="0.85"/>
<line x1="428.60" y1="328.60" x2="432.20" y2="328.60" stroke="#1a1a1a" stroke-width="0.85"/>
<line x1="430.40" y1="326.80" x2="430.40" y2="330.40" stroke="#1a1a1a" stroke-width="0.85"/>
<line x1="428.60" y1="338.80" x2="432.20" y2="338.80" stroke="#1a1a1a" stroke-width="0.85"/>
<line x1="430.40" y1="337.00" x2="430.40" y2="340.60" stroke="#1a1a1a" stroke-width="0.85"/>
<line x1="452.50" y1="328.60" x2="456.10" y2="328.60" stroke="#1a1a1a" stroke-width="0.85"/>
<line x1="454.30" y1="326.80" x2="454.30" y2="330.40" stroke="#1a1a1a" stroke-width="0.85"/>
<line x1="452.50" y1="338.80" x2="456.10" y2="338.80" stroke="#1a1a1a" stroke-width="0.85"/>
<line x1="454.30" y1="337.00" x2="454.30" y2="340.60" stroke="#1a1a1a" stroke-width="0.85"/>
<text transform="translate(409.50,347.00) rotate(-90)" font-size="7" text-anchor="end" fill="#1a1a1a" stroke="#1a1a1a" stroke-width="0.12" textLength="28.80" lengthAdjust="spacingAndGlyphs">Bmx-IN-1</text>
<text transform="translate(432.50,346.00) rotate(-90)" font-size="7" text-anchor="end" fill="#1a1a1a" stroke="#1a1a1a" stroke-width="0.12" textLength="26.00" lengthAdjust="spacingAndGlyphs">CHMFL</text>
<text transform="translate(456.20,346.00) rotate(-90)" font-size="7" text-anchor="end" fill="#1a1a1a" stroke="#1a1a1a" stroke-width="0.12" textLength="16.00" lengthAdjust="spacingAndGlyphs">Remi</text>
<text transform="translate(288.40,261.00) rotate(-90)" dy="3.10" font-size="8.6" text-anchor="middle" fill="#1a1a1a" stroke="#1a1a1a" stroke-width="0.22" textLength="30.00" lengthAdjust="spacingAndGlyphs">% Viability</text>
<text x="6.80" y="390.30" font-size="11" font-weight="bold" fill="#000" stroke="#000" stroke-width="0.12">E</text>
<line x1="51.00" y1="390.20" x2="51.00" y2="501.90" stroke="#1a1a1a" stroke-width="1.2"/>
<line x1="50.40" y1="501.30" x2="214.80" y2="501.30" stroke="#1a1a1a" stroke-width="1.3"/>
<line x1="48.00" y1="501.00" x2="51.00" y2="501.00" stroke="#1a1a1a" stroke-width="1"/>
<text x="43.70" y="503.70" font-size="7.6" text-anchor="end" fill="#1a1a1a" stroke="#1a1a1a" stroke-width="0.12">0</text>
<line x1="48.00" y1="483.25" x2="51.00" y2="483.25" stroke="#1a1a1a" stroke-width="1"/>
<text x="43.70" y="485.95" font-size="7.6" text-anchor="end" fill="#1a1a1a" stroke="#1a1a1a" stroke-width="0.12">20</text>
<line x1="48.00" y1="465.50" x2="51.00" y2="465.50" stroke="#1a1a1a" stroke-width="1"/>
<text x="43.70" y="468.20" font-size="7.6" text-anchor="end" fill="#1a1a1a" stroke="#1a1a1a" stroke-width="0.12">40</text>
<line x1="48.00" y1="447.75" x2="51.00" y2="447.75" stroke="#1a1a1a" stroke-width="1"/>
<text x="43.70" y="450.45" font-size="7.6" text-anchor="end" fill="#1a1a1a" stroke="#1a1a1a" stroke-width="0.12">60</text>
<line x1="48.00" y1="430.00" x2="51.00" y2="430.00" stroke="#1a1a1a" stroke-width="1"/>
<text x="43.70" y="432.70" font-size="7.6" text-anchor="end" fill="#1a1a1a" stroke="#1a1a1a" stroke-width="0.12">80</text>
<line x1="48.00" y1="412.25" x2="51.00" y2="412.25" stroke="#1a1a1a" stroke-width="1"/>
<text x="43.70" y="414.95" font-size="7.6" text-anchor="end" fill="#1a1a1a" stroke="#1a1a1a" stroke-width="0.12">100</text>
<line x1="48.00" y1="394.50" x2="51.00" y2="394.50" stroke="#1a1a1a" stroke-width="1"/>
<text x="43.70" y="397.20" font-size="7.6" text-anchor="end" fill="#1a1a1a" stroke="#1a1a1a" stroke-width="0.12">120</text>
<line x1="53.83" y1="501.30" x2="53.83" y2="503.10" stroke="#1a1a1a" stroke-width="0.8"/>
<line x1="57.67" y1="501.30" x2="57.67" y2="503.10" stroke="#1a1a1a" stroke-width="0.8"/>
<line x1="61.10" y1="501.30" x2="61.10" y2="504.30" stroke="#1a1a1a" stroke-width="0.8"/>
<line x1="83.68" y1="501.30" x2="83.68" y2="503.10" stroke="#1a1a1a" stroke-width="0.8"/>
<line x1="96.88" y1="501.30" x2="96.88" y2="503.10" stroke="#1a1a1a" stroke-width="0.8"/>
<line x1="106.25" y1="501.30" x2="106.25" y2="503.10" stroke="#1a1a1a" stroke-width="0.8"/>
<line x1="113.52" y1="501.30" x2="113.52" y2="503.10" stroke="#1a1a1a" stroke-width="0.8"/>
<line x1="119.46" y1="501.30" x2="119.46" y2="503.10" stroke="#1a1a1a" stroke-width="0.8"/>
<line x1="124.48" y1="501.30" x2="124.48" y2="503.10" stroke="#1a1a1a" stroke-width="0.8"/>
<line x1="128.83" y1="501.30" x2="128.83" y2="503.10" stroke="#1a1a1a" stroke-width="0.8"/>
<line x1="132.67" y1="501.30" x2="132.67" y2="503.10" stroke="#1a1a1a" stroke-width="0.8"/>
<line x1="136.10" y1="501.30" x2="136.10" y2="504.30" stroke="#1a1a1a" stroke-width="0.8"/>
<line x1="158.68" y1="501.30" x2="158.68" y2="503.10" stroke="#1a1a1a" stroke-width="0.8"/>
<line x1="171.88" y1="501.30" x2="171.88" y2="503.10" stroke="#1a1a1a" stroke-width="0.8"/>
<line x1="181.25" y1="501.30" x2="181.25" y2="503.10" stroke="#1a1a1a" stroke-width="0.8"/>
<line x1="188.52" y1="501.30" x2="188.52" y2="503.10" stroke="#1a1a1a" stroke-width="0.8"/>
<line x1="194.46" y1="501.30" x2="194.46" y2="503.10" stroke="#1a1a1a" stroke-width="0.8"/>
<line x1="199.48" y1="501.30" x2="199.48" y2="503.10" stroke="#1a1a1a" stroke-width="0.8"/>
<line x1="203.83" y1="501.30" x2="203.83" y2="503.10" stroke="#1a1a1a" stroke-width="0.8"/>
<line x1="207.67" y1="501.30" x2="207.67" y2="503.10" stroke="#1a1a1a" stroke-width="0.8"/>
<line x1="61.10" y1="501.30" x2="61.10" y2="504.30" stroke="#1a1a1a" stroke-width="1"/>
<line x1="136.10" y1="501.30" x2="136.10" y2="504.30" stroke="#1a1a1a" stroke-width="1"/>
<line x1="211.10" y1="501.30" x2="211.10" y2="504.30" stroke="#1a1a1a" stroke-width="1"/>
<text x="61.40" y="513.60" font-size="7.6" text-anchor="middle" fill="#1a1a1a" stroke="#1a1a1a" stroke-width="0.12">1</text>
<text x="136.30" y="513.60" font-size="7.6" text-anchor="middle" fill="#1a1a1a" stroke="#1a1a1a" stroke-width="0.12">10</text>
<text x="210.90" y="513.60" font-size="7.6" text-anchor="middle" fill="#1a1a1a" stroke="#1a1a1a" stroke-width="0.12">100</text>
<line x1="51.00" y1="456.60" x2="212.00" y2="456.60" stroke="#333" stroke-width="0.75" stroke-dasharray="0.9,0.9"/>
<path d="M53.06,409.50 C56.82,410.50 68.11,412.78 75.64,415.50 C83.16,418.22 90.69,421.60 98.21,425.80 C105.74,430.00 113.27,435.12 120.79,440.70 C128.32,446.28 135.84,453.33 143.37,459.30 C150.89,465.27 158.42,471.97 165.95,476.50 C173.47,481.03 181.00,484.20 188.52,486.50 C196.05,488.80 207.34,489.67 211.10,490.30 " fill="none" stroke="#3db34a" stroke-width="1.4"/>
<path d="M53.06,416.50 C56.82,417.30 68.11,419.32 75.64,421.30 C83.16,423.28 90.69,425.53 98.21,428.40 C105.74,431.27 113.27,434.48 120.79,438.50 C128.32,442.52 135.84,447.92 143.37,452.50 C150.89,457.08 158.42,462.38 165.95,466.00 C173.47,469.62 181.00,472.20 188.52,474.20 C196.05,476.20 207.34,477.37 211.10,478.00 " fill="none" stroke="#185a8c" stroke-width="1.4"/>
<path d="M53.06,416.80 C56.82,417.13 68.11,417.68 75.64,418.80 C83.16,419.92 90.69,420.80 98.21,423.50 C105.74,426.20 113.27,429.50 120.79,435.00 C128.32,440.50 135.84,449.42 143.37,456.50 C150.89,463.58 158.42,472.17 165.95,477.50 C173.47,482.83 181.00,486.05 188.52,488.50 C196.05,490.95 207.34,491.58 211.10,492.20 " fill="none" stroke="#c8102e" stroke-width="1.4"/>
<path d="M53.06,409.80 C56.82,409.87 68.11,409.75 75.64,410.20 C83.16,410.65 90.69,410.62 98.21,412.50 C105.74,414.38 113.27,416.50 120.79,421.50 C128.32,426.50 135.84,435.72 143.37,442.50 C150.89,449.28 158.42,457.48 165.95,462.20 C173.47,466.92 181.00,468.90 188.52,470.80 C196.05,472.70 207.34,473.13 211.10,473.60 " fill="none" stroke="#5a1f78" stroke-width="1.4"/>
<line x1="53.06" y1="407.00" x2="53.06" y2="413.00" stroke="#222" stroke-width="0.9"/>
<line x1="51.06" y1="407.00" x2="55.06" y2="407.00" stroke="#222" stroke-width="0.9"/>
<line x1="51.06" y1="413.00" x2="55.06" y2="413.00" stroke="#222" stroke-width="0.9"/>
<line x1="75.64" y1="416.50" x2="75.64" y2="424.00" stroke="#222" stroke-width="0.9"/>
<line x1="73.64" y1="416.50" x2="77.64" y2="416.50" stroke="#222" stroke-width="0.9"/>
<line x1="73.64" y1="424.00" x2="77.64" y2="424.00" stroke="#222" stroke-width="0.9"/>
<line x1="98.21" y1="408.60" x2="98.21" y2="415.40" stroke="#222" stroke-width="0.9"/>
<line x1="96.21" y1="408.60" x2="100.21" y2="408.60" stroke="#222" stroke-width="0.9"/>
<line x1="96.21" y1="415.40" x2="100.21" y2="415.40" stroke="#222" stroke-width="0.9"/>
<line x1="120.79" y1="418.80" x2="120.79" y2="424.60" stroke="#222" stroke-width="0.9"/>
<line x1="118.79" y1="418.80" x2="122.79" y2="418.80" stroke="#222" stroke-width="0.9"/>
<line x1="118.79" y1="424.60" x2="122.79" y2="424.60" stroke="#222" stroke-width="0.9"/>
<circle cx="53.06" cy="410.50" r="1.95" fill="#3db34a"/>
<circle cx="75.64" cy="415.70" r="1.95" fill="#3db34a"/>
<circle cx="98.21" cy="426.00" r="1.95" fill="#3db34a"/>
<circle cx="120.79" cy="440.70" r="1.95" fill="#3db34a"/>
<circle cx="143.37" cy="459.60" r="1.95" fill="#3db34a"/>
<circle cx="165.95" cy="477.00" r="1.95" fill="#3db34a"/>
<circle cx="188.52" cy="487.00" r="1.95" fill="#3db34a"/>
<circle cx="211.10" cy="490.00" r="1.95" fill="#3db34a"/>
<circle cx="53.06" cy="417.00" r="1.95" fill="#185a8c"/>
<circle cx="75.64" cy="421.50" r="1.95" fill="#185a8c"/>
<circle cx="98.21" cy="428.60" r="1.95" fill="#185a8c"/>
<circle cx="120.79" cy="438.00" r="1.95" fill="#185a8c"/>
<circle cx="143.37" cy="453.30" r="1.95" fill="#185a8c"/>
<circle cx="165.95" cy="466.00" r="1.95" fill="#185a8c"/>
<circle cx="188.52" cy="474.00" r="1.95" fill="#185a8c"/>
<circle cx="211.10" cy="477.80" r="1.95" fill="#185a8c"/>
<circle cx="53.06" cy="417.20" r="1.95" fill="#c8102e"/>
<circle cx="75.64" cy="418.00" r="1.95" fill="#c8102e"/>
<circle cx="98.21" cy="423.00" r="1.95" fill="#c8102e"/>
<circle cx="120.79" cy="434.40" r="1.95" fill="#c8102e"/>
<circle cx="143.37" cy="457.00" r="1.95" fill="#c8102e"/>
<circle cx="165.95" cy="479.00" r="1.95" fill="#c8102e"/>
<circle cx="188.52" cy="489.40" r="1.95" fill="#c8102e"/>
<circle cx="211.10" cy="492.50" r="1.95" fill="#c8102e"/>
<circle cx="53.06" cy="410.00" r="1.95" fill="#5a1f78"/>
<circle cx="75.64" cy="410.00" r="1.95" fill="#5a1f78"/>
<circle cx="98.21" cy="412.00" r="1.95" fill="#5a1f78"/>
<circle cx="120.79" cy="421.80" r="1.95" fill="#5a1f78"/>
<circle cx="143.37" cy="442.50" r="1.95" fill="#5a1f78"/>
<circle cx="165.95" cy="463.00" r="1.95" fill="#5a1f78"/>
<circle cx="188.52" cy="471.00" r="1.95" fill="#5a1f78"/>
<circle cx="211.10" cy="473.00" r="1.95" fill="#5a1f78"/>
<line x1="157.30" y1="394.20" x2="166.90" y2="394.20" stroke="#3db34a" stroke-width="1.2"/>
<circle cx="162.10" cy="394.20" r="1.85" fill="#3db34a"/>
<text x="169.20" y="396.70" font-size="7" fill="#1a1a1a" stroke="#1a1a1a" stroke-width="0.12" textLength="40.00" lengthAdjust="spacingAndGlyphs">Wildtype (N)</text>
<line x1="157.30" y1="405.20" x2="166.90" y2="405.20" stroke="#5a1f78" stroke-width="1.2"/>
<circle cx="162.10" cy="405.20" r="1.85" fill="#5a1f78"/>
<text x="169.20" y="407.70" font-size="7" fill="#1a1a1a" stroke="#1a1a1a" stroke-width="0.12" textLength="40.20" lengthAdjust="spacingAndGlyphs">Wildtype (H)</text>
<line x1="157.30" y1="416.90" x2="166.90" y2="416.90" stroke="#c8102e" stroke-width="1.2"/>
<circle cx="162.10" cy="416.90" r="1.85" fill="#c8102e"/>
<text x="169.20" y="419.40" font-size="7" fill="#1a1a1a" stroke="#1a1a1a" stroke-width="0.12" textLength="48.50" lengthAdjust="spacingAndGlyphs">+ BMX-IN-1 (H)</text>
<line x1="157.30" y1="428.60" x2="166.90" y2="428.60" stroke="#185a8c" stroke-width="1.2"/>
<circle cx="162.10" cy="428.60" r="1.85" fill="#185a8c"/>
<text x="169.20" y="431.10" font-size="7" fill="#1a1a1a" stroke="#1a1a1a" stroke-width="0.12" textLength="39.50" lengthAdjust="spacingAndGlyphs">+ CHMFL (H)</text>
<path d="M213.50,394.20 L219.20,394.20 L219.20,404.40 L213.50,404.40" fill="none" stroke="#3db34a" stroke-width="0.9"/>
<path d="M219.20,404.40 L224.00,404.40 L224.00,416.80 L219.20,416.80" fill="none" stroke="#e05060" stroke-width="0.9"/>
<path d="M224.00,404.40 L228.80,404.40 L228.80,429.60 L224.00,429.60" fill="none" stroke="#2a68a8" stroke-width="0.9"/>
<circle cx="223.40" cy="398.80" r="1.10" fill="#3db34a"/>
<circle cx="226.40" cy="398.80" r="1.10" fill="#3db34a"/>
<circle cx="229.40" cy="398.80" r="1.10" fill="#3db34a"/>
<circle cx="234.70" cy="411.30" r="1.10" fill="#e0303a"/>
<circle cx="237.70" cy="411.30" r="1.10" fill="#e0303a"/>
<circle cx="240.70" cy="411.30" r="1.10" fill="#e0303a"/>
<circle cx="234.70" cy="419.90" r="1.10" fill="#3070b0"/>
<circle cx="237.70" cy="419.90" r="1.10" fill="#3070b0"/>
<text transform="translate(22.80,446.00) rotate(-90)" dy="3.31" font-size="9.2" text-anchor="middle" fill="#1a1a1a" stroke="#1a1a1a" stroke-width="0.22" textLength="76.20" lengthAdjust="spacingAndGlyphs">Cell viability (% of control)</text>
<text x="132.20" y="526.00" font-size="9.0" text-anchor="middle" fill="#1a1a1a" stroke="#1a1a1a" stroke-width="0.22" textLength="45.50" lengthAdjust="spacingAndGlyphs">Gilteritinib (nM)</text>
<text x="265.30" y="390.30" font-size="11" font-weight="bold" fill="#000" stroke="#000" stroke-width="0.12">F</text>
<line x1="319.60" y1="390.20" x2="319.60" y2="501.90" stroke="#1a1a1a" stroke-width="1.2"/>
<line x1="319.00" y1="501.30" x2="491.00" y2="501.30" stroke="#1a1a1a" stroke-width="1.3"/>
<line x1="316.60" y1="501.00" x2="319.60" y2="501.00" stroke="#1a1a1a" stroke-width="1"/>
<text x="312.30" y="503.70" font-size="7.6" text-anchor="end" fill="#1a1a1a" stroke="#1a1a1a" stroke-width="0.12">0</text>
<line x1="316.60" y1="483.25" x2="319.60" y2="483.25" stroke="#1a1a1a" stroke-width="1"/>
<text x="312.30" y="485.95" font-size="7.6" text-anchor="end" fill="#1a1a1a" stroke="#1a1a1a" stroke-width="0.12">20</text>
<line x1="316.60" y1="465.50" x2="319.60" y2="465.50" stroke="#1a1a1a" stroke-width="1"/>
<text x="312.30" y="468.20" font-size="7.6" text-anchor="end" fill="#1a1a1a" stroke="#1a1a1a" stroke-width="0.12">40</text>
<line x1="316.60" y1="447.75" x2="319.60" y2="447.75" stroke="#1a1a1a" stroke-width="1"/>
<text x="312.30" y="450.45" font-size="7.6" text-anchor="end" fill="#1a1a1a" stroke="#1a1a1a" stroke-width="0.12">60</text>
<line x1="316.60" y1="430.00" x2="319.60" y2="430.00" stroke="#1a1a1a" stroke-width="1"/>
<text x="312.30" y="432.70" font-size="7.6" text-anchor="end" fill="#1a1a1a" stroke="#1a1a1a" stroke-width="0.12">80</text>
<line x1="316.60" y1="412.25" x2="319.60" y2="412.25" stroke="#1a1a1a" stroke-width="1"/>
<text x="312.30" y="414.95" font-size="7.6" text-anchor="end" fill="#1a1a1a" stroke="#1a1a1a" stroke-width="0.12">100</text>
<line x1="316.60" y1="394.50" x2="319.60" y2="394.50" stroke="#1a1a1a" stroke-width="1"/>
<text x="312.30" y="397.20" font-size="7.6" text-anchor="end" fill="#1a1a1a" stroke="#1a1a1a" stroke-width="0.12">120</text>
<line x1="323.66" y1="501.30" x2="323.66" y2="503.10" stroke="#1a1a1a" stroke-width="0.8"/>
<line x1="327.64" y1="501.30" x2="327.64" y2="503.10" stroke="#1a1a1a" stroke-width="0.8"/>
<line x1="331.20" y1="501.30" x2="331.20" y2="504.30" stroke="#1a1a1a" stroke-width="0.8"/>
<line x1="354.62" y1="501.30" x2="354.62" y2="503.10" stroke="#1a1a1a" stroke-width="0.8"/>
<line x1="368.32" y1="501.30" x2="368.32" y2="503.10" stroke="#1a1a1a" stroke-width="0.8"/>
<line x1="378.04" y1="501.30" x2="378.04" y2="503.10" stroke="#1a1a1a" stroke-width="0.8"/>
<line x1="385.58" y1="501.30" x2="385.58" y2="503.10" stroke="#1a1a1a" stroke-width="0.8"/>
<line x1="391.74" y1="501.30" x2="391.74" y2="503.10" stroke="#1a1a1a" stroke-width="0.8"/>
<line x1="396.95" y1="501.30" x2="396.95" y2="503.10" stroke="#1a1a1a" stroke-width="0.8"/>
<line x1="401.46" y1="501.30" x2="401.46" y2="503.10" stroke="#1a1a1a" stroke-width="0.8"/>
<line x1="405.44" y1="501.30" x2="405.44" y2="503.10" stroke="#1a1a1a" stroke-width="0.8"/>
<line x1="409.00" y1="501.30" x2="409.00" y2="504.30" stroke="#1a1a1a" stroke-width="0.8"/>
<line x1="432.42" y1="501.30" x2="432.42" y2="503.10" stroke="#1a1a1a" stroke-width="0.8"/>
<line x1="446.12" y1="501.30" x2="446.12" y2="503.10" stroke="#1a1a1a" stroke-width="0.8"/>
<line x1="455.84" y1="501.30" x2="455.84" y2="503.10" stroke="#1a1a1a" stroke-width="0.8"/>
<line x1="463.38" y1="501.30" x2="463.38" y2="503.10" stroke="#1a1a1a" stroke-width="0.8"/>
<line x1="469.54" y1="501.30" x2="469.54" y2="503.10" stroke="#1a1a1a" stroke-width="0.8"/>
<line x1="474.75" y1="501.30" x2="474.75" y2="503.10" stroke="#1a1a1a" stroke-width="0.8"/>
<line x1="479.26" y1="501.30" x2="479.26" y2="503.10" stroke="#1a1a1a" stroke-width="0.8"/>
<line x1="483.24" y1="501.30" x2="483.24" y2="503.10" stroke="#1a1a1a" stroke-width="0.8"/>
<line x1="331.20" y1="501.30" x2="331.20" y2="504.30" stroke="#1a1a1a" stroke-width="1"/>
<line x1="409.00" y1="501.30" x2="409.00" y2="504.30" stroke="#1a1a1a" stroke-width="1"/>
<line x1="486.80" y1="501.30" x2="486.80" y2="504.30" stroke="#1a1a1a" stroke-width="1"/>
<text x="331.50" y="513.60" font-size="7.6" text-anchor="middle" fill="#1a1a1a" stroke="#1a1a1a" stroke-width="0.12">1</text>
<text x="409.20" y="513.60" font-size="7.6" text-anchor="middle" fill="#1a1a1a" stroke="#1a1a1a" stroke-width="0.12">10</text>
<text x="486.60" y="513.60" font-size="7.6" text-anchor="middle" fill="#1a1a1a" stroke="#1a1a1a" stroke-width="0.12">100</text>
<line x1="319.60" y1="456.60" x2="481.00" y2="456.60" stroke="#333" stroke-width="0.75" stroke-dasharray="0.9,0.9"/>
<path d="M322.86,409.50 C326.76,410.55 338.47,413.22 346.28,415.80 C354.09,418.38 361.89,420.88 369.70,425.00 C377.51,429.12 385.31,434.67 393.12,440.50 C400.93,446.33 408.73,453.83 416.54,460.00 C424.35,466.17 432.15,472.97 439.96,477.50 C447.77,482.03 455.57,484.92 463.38,487.20 C471.19,489.48 482.90,490.53 486.80,491.20 " fill="none" stroke="#3db34a" stroke-width="1.4"/>
<path d="M322.86,414.80 C326.76,415.58 338.47,417.47 346.28,419.50 C354.09,421.53 361.89,423.58 369.70,427.00 C377.51,430.42 385.31,434.75 393.12,440.00 C400.93,445.25 408.73,452.50 416.54,458.50 C424.35,464.50 432.15,471.47 439.96,476.00 C447.77,480.53 455.57,483.50 463.38,485.70 C471.19,487.90 482.90,488.62 486.80,489.20 " fill="none" stroke="#c8102e" stroke-width="1.4"/>
<path d="M322.86,421.50 C326.76,422.67 338.47,425.72 346.28,428.50 C354.09,431.28 361.89,434.15 369.70,438.20 C377.51,442.25 385.31,447.33 393.12,452.80 C400.93,458.27 408.73,465.38 416.54,471.00 C424.35,476.62 432.15,482.67 439.96,486.50 C447.77,490.33 455.57,492.20 463.38,494.00 C471.19,495.80 482.90,496.75 486.80,497.30 " fill="none" stroke="#185a8c" stroke-width="1.4"/>
<path d="M322.86,409.80 C326.76,409.87 338.47,409.75 346.28,410.20 C354.09,410.65 361.89,410.62 369.70,412.50 C377.51,414.38 385.31,416.50 393.12,421.50 C400.93,426.50 408.73,435.72 416.54,442.50 C424.35,449.28 432.15,457.48 439.96,462.20 C447.77,466.92 455.57,468.90 463.38,470.80 C471.19,472.70 482.90,473.13 486.80,473.60 " fill="none" stroke="#5a1f78" stroke-width="1.4"/>
<line x1="322.86" y1="407.20" x2="322.86" y2="413.40" stroke="#222" stroke-width="0.9"/>
<line x1="320.86" y1="407.20" x2="324.86" y2="407.20" stroke="#222" stroke-width="0.9"/>
<line x1="320.86" y1="413.40" x2="324.86" y2="413.40" stroke="#222" stroke-width="0.9"/>
<line x1="322.86" y1="413.00" x2="322.86" y2="418.00" stroke="#222" stroke-width="0.9"/>
<line x1="320.86" y1="413.00" x2="324.86" y2="413.00" stroke="#222" stroke-width="0.9"/>
<line x1="320.86" y1="418.00" x2="324.86" y2="418.00" stroke="#222" stroke-width="0.9"/>
<line x1="369.70" y1="409.30" x2="369.70" y2="415.60" stroke="#222" stroke-width="0.9"/>
<line x1="367.70" y1="409.30" x2="371.70" y2="409.30" stroke="#222" stroke-width="0.9"/>
<line x1="367.70" y1="415.60" x2="371.70" y2="415.60" stroke="#222" stroke-width="0.9"/>
<line x1="393.12" y1="419.20" x2="393.12" y2="424.00" stroke="#222" stroke-width="0.9"/>
<line x1="391.12" y1="419.20" x2="395.12" y2="419.20" stroke="#222" stroke-width="0.9"/>
<line x1="391.12" y1="424.00" x2="395.12" y2="424.00" stroke="#222" stroke-width="0.9"/>
<circle cx="322.86" cy="410.50" r="1.95" fill="#3db34a"/>
<circle cx="346.28" cy="416.20" r="1.95" fill="#3db34a"/>
<circle cx="369.70" cy="425.00" r="1.95" fill="#3db34a"/>
<circle cx="393.12" cy="440.70" r="1.95" fill="#3db34a"/>
<circle cx="416.54" cy="460.00" r="1.95" fill="#3db34a"/>
<circle cx="439.96" cy="478.00" r="1.95" fill="#3db34a"/>
<circle cx="463.38" cy="487.40" r="1.95" fill="#3db34a"/>
<circle cx="486.80" cy="491.20" r="1.95" fill="#3db34a"/>
<circle cx="322.86" cy="415.00" r="1.95" fill="#c8102e"/>
<circle cx="346.28" cy="420.00" r="1.95" fill="#c8102e"/>
<circle cx="369.70" cy="426.80" r="1.95" fill="#c8102e"/>
<circle cx="393.12" cy="440.20" r="1.95" fill="#c8102e"/>
<circle cx="416.54" cy="458.90" r="1.95" fill="#c8102e"/>
<circle cx="439.96" cy="476.80" r="1.95" fill="#c8102e"/>
<circle cx="463.38" cy="486.70" r="1.95" fill="#c8102e"/>
<circle cx="486.80" cy="488.70" r="1.95" fill="#c8102e"/>
<circle cx="322.86" cy="422.00" r="1.95" fill="#185a8c"/>
<circle cx="346.28" cy="432.10" r="1.95" fill="#185a8c"/>
<circle cx="369.70" cy="438.70" r="1.95" fill="#185a8c"/>
<circle cx="393.12" cy="452.80" r="1.95" fill="#185a8c"/>
<circle cx="416.54" cy="471.80" r="1.95" fill="#185a8c"/>
<circle cx="439.96" cy="487.70" r="1.95" fill="#185a8c"/>
<circle cx="463.38" cy="494.50" r="1.95" fill="#185a8c"/>
<circle cx="486.80" cy="496.80" r="1.95" fill="#185a8c"/>
<circle cx="322.86" cy="410.00" r="1.95" fill="#5a1f78"/>
<circle cx="346.28" cy="410.40" r="1.95" fill="#5a1f78"/>
<circle cx="369.70" cy="412.20" r="1.95" fill="#5a1f78"/>
<circle cx="393.12" cy="421.80" r="1.95" fill="#5a1f78"/>
<circle cx="416.54" cy="442.50" r="1.95" fill="#5a1f78"/>
<circle cx="439.96" cy="463.00" r="1.95" fill="#5a1f78"/>
<circle cx="463.38" cy="471.00" r="1.95" fill="#5a1f78"/>
<circle cx="486.80" cy="473.00" r="1.95" fill="#5a1f78"/>
<line x1="429.60" y1="390.80" x2="439.20" y2="390.80" stroke="#3db34a" stroke-width="1.2"/>
<circle cx="434.40" cy="390.80" r="1.85" fill="#3db34a"/>
<text x="441.80" y="393.30" font-size="7" fill="#1a1a1a" stroke="#1a1a1a" stroke-width="0.12" textLength="40.00" lengthAdjust="spacingAndGlyphs">Wildtype (N)</text>
<line x1="429.60" y1="402.50" x2="439.20" y2="402.50" stroke="#5a1f78" stroke-width="1.2"/>
<circle cx="434.40" cy="402.50" r="1.85" fill="#5a1f78"/>
<text x="441.80" y="405.00" font-size="7" fill="#1a1a1a" stroke="#1a1a1a" stroke-width="0.12" textLength="40.20" lengthAdjust="spacingAndGlyphs">Wildtype (H)</text>
<line x1="429.60" y1="414.00" x2="439.20" y2="414.00" stroke="#c8102e" stroke-width="1.2"/>
<circle cx="434.40" cy="414.00" r="1.85" fill="#c8102e"/>
<text x="441.80" y="416.50" font-size="7" fill="#1a1a1a" stroke="#1a1a1a" stroke-width="0.12" textLength="28.50" lengthAdjust="spacingAndGlyphs">KO13 (H)</text>
<line x1="429.60" y1="425.50" x2="439.20" y2="425.50" stroke="#185a8c" stroke-width="1.2"/>
<circle cx="434.40" cy="425.50" r="1.85" fill="#185a8c"/>
<text x="441.80" y="428.00" font-size="7" fill="#1a1a1a" stroke="#1a1a1a" stroke-width="0.12" textLength="28.50" lengthAdjust="spacingAndGlyphs">KO12 (H)</text>
<path d="M483.10,390.80 L488.00,390.80 L488.00,403.60 L483.10,403.60" fill="none" stroke="#3db34a" stroke-width="0.9"/>
<path d="M488.00,403.60 L493.60,403.60 L493.60,416.40 L488.00,416.40" fill="none" stroke="#e05060" stroke-width="0.9"/>
<path d="M493.60,403.60 L499.00,403.60 L499.00,427.30 L493.60,427.30" fill="none" stroke="#2a68a8" stroke-width="0.9"/>
<circle cx="491.40" cy="396.90" r="1.10" fill="#3db34a"/>
<circle cx="494.40" cy="396.90" r="1.10" fill="#3db34a"/>
<circle cx="497.40" cy="396.90" r="1.10" fill="#3db34a"/>
<circle cx="502.40" cy="409.90" r="1.10" fill="#e0303a"/>
<circle cx="505.40" cy="409.90" r="1.10" fill="#e0303a"/>
<circle cx="508.40" cy="409.90" r="1.10" fill="#e0303a"/>
<circle cx="511.40" cy="409.90" r="1.10" fill="#e0303a"/>
<circle cx="502.40" cy="416.90" r="1.10" fill="#3070b0"/>
<circle cx="505.40" cy="416.90" r="1.10" fill="#3070b0"/>
<circle cx="508.40" cy="416.90" r="1.10" fill="#3070b0"/>
<circle cx="511.40" cy="416.90" r="1.10" fill="#3070b0"/>
<text transform="translate(291.60,446.00) rotate(-90)" dy="3.31" font-size="9.2" text-anchor="middle" fill="#1a1a1a" stroke="#1a1a1a" stroke-width="0.22" textLength="76.20" lengthAdjust="spacingAndGlyphs">Cell viability (% of control)</text>
<text x="405.30" y="526.00" font-size="9.0" text-anchor="middle" fill="#1a1a1a" stroke="#1a1a1a" stroke-width="0.22" textLength="45.50" lengthAdjust="spacingAndGlyphs">Gilteritinib (nM)</text>
<text x="6.60" y="540.50" font-size="11" font-weight="bold" fill="#000" stroke="#000" stroke-width="0.12">G</text>
<rect x="56.70" y="581.00" width="6.30" height="74.50" fill="#a98bbd"/>
<rect x="69.60" y="598.13" width="6.30" height="57.37" fill="#9ddaa2"/>
<rect x="82.70" y="584.73" width="6.30" height="70.77" fill="#e8899a"/>
<rect x="95.60" y="610.05" width="6.30" height="45.45" fill="#8eadc9"/>
<rect x="113.00" y="581.00" width="6.30" height="74.50" fill="#a98bbd"/>
<rect x="126.20" y="593.66" width="6.30" height="61.84" fill="#9ddaa2"/>
<rect x="139.20" y="605.59" width="6.30" height="49.91" fill="#e8899a"/>
<rect x="152.20" y="621.98" width="6.30" height="33.52" fill="#8eadc9"/>
<rect x="169.00" y="581.00" width="6.30" height="74.50" fill="#a98bbd"/>
<rect x="182.00" y="605.59" width="6.30" height="49.91" fill="#9ddaa2"/>
<rect x="195.00" y="598.88" width="6.30" height="56.62" fill="#e8899a"/>
<rect x="208.00" y="615.27" width="6.30" height="40.23" fill="#8eadc9"/>
<line x1="172.15" y1="581.00" x2="172.15" y2="569.08" stroke="#333" stroke-width="0.8"/>
<line x1="170.85" y1="569.08" x2="173.45" y2="569.08" stroke="#333" stroke-width="0.8"/>
<line x1="185.10" y1="601.86" x2="185.10" y2="592.17" stroke="#333" stroke-width="0.8"/>
<line x1="183.80" y1="592.17" x2="186.40" y2="592.17" stroke="#333" stroke-width="0.8"/>
<line x1="198.10" y1="595.90" x2="198.10" y2="592.17" stroke="#333" stroke-width="0.8"/>
<line x1="196.80" y1="592.17" x2="199.40" y2="592.17" stroke="#333" stroke-width="0.8"/>
<line x1="211.10" y1="613.03" x2="211.10" y2="610.05" stroke="#333" stroke-width="0.8"/>
<line x1="209.80" y1="610.05" x2="212.40" y2="610.05" stroke="#333" stroke-width="0.8"/>
<line x1="142.30" y1="603.35" x2="142.30" y2="597.39" stroke="#333" stroke-width="0.8"/>
<line x1="141.00" y1="597.39" x2="143.60" y2="597.39" stroke="#333" stroke-width="0.8"/>
<line x1="129.30" y1="591.43" x2="129.30" y2="584.73" stroke="#333" stroke-width="0.8"/>
<line x1="128.00" y1="584.73" x2="130.60" y2="584.73" stroke="#333" stroke-width="0.8"/>
<line x1="155.30" y1="621.23" x2="155.30" y2="619.74" stroke="#333" stroke-width="0.8"/>
<line x1="154.00" y1="619.74" x2="156.60" y2="619.74" stroke="#333" stroke-width="0.8"/>
<circle cx="59.10" cy="579.80" r="1.90" fill="#5a1f78"/>
<circle cx="60.70" cy="581.20" r="1.90" fill="#5a1f78"/>
<circle cx="115.60" cy="580.60" r="1.90" fill="#5a1f78"/>
<circle cx="117.50" cy="581.60" r="1.90" fill="#5a1f78"/>
<circle cx="171.00" cy="572.60" r="1.90" fill="#5a1f78"/>
<circle cx="173.20" cy="576.80" r="1.90" fill="#5a1f78"/>
<rect x="70.30" y="595.60" width="3.80" height="3.80" fill="#3db34a"/>
<rect x="71.70" y="597.10" width="3.80" height="3.80" fill="#3db34a"/>
<rect x="127.40" y="583.90" width="3.80" height="3.80" fill="#3db34a"/>
<rect x="127.40" y="590.30" width="3.80" height="3.80" fill="#3db34a"/>
<rect x="183.40" y="590.70" width="3.80" height="3.80" fill="#3db34a"/>
<rect x="181.00" y="609.50" width="3.80" height="3.80" fill="#3db34a"/>
<path d="M85.90,582.20 L88.20,586.20 L83.60,586.20 Z" fill="#c8102e"/>
<path d="M142.30,596.20 L144.60,600.20 L140.00,600.20 Z" fill="#c8102e"/>
<path d="M142.30,602.20 L144.60,606.20 L140.00,606.20 Z" fill="#c8102e"/>
<path d="M198.10,591.20 L200.40,595.20 L195.80,595.20 Z" fill="#c8102e"/>
<path d="M198.10,597.00 L200.40,601.00 L195.80,601.00 Z" fill="#c8102e"/>
<path d="M98.80,607.40 L101.00,609.60 L98.80,611.80 L96.60,609.60 Z" fill="#185a8c"/>
<path d="M155.00,618.20 L157.20,620.40 L155.00,622.60 L152.80,620.40 Z" fill="#185a8c"/>
<path d="M156.00,619.20 L158.20,621.40 L156.00,623.60 L153.80,621.40 Z" fill="#185a8c"/>
<path d="M211.20,607.60 L213.40,609.80 L211.20,612.00 L209.00,609.80 Z" fill="#185a8c"/>
<line x1="50.00" y1="540.50" x2="50.00" y2="656.10" stroke="#1a1a1a" stroke-width="1.2"/>
<line x1="49.40" y1="655.60" x2="218.00" y2="655.60" stroke="#1a1a1a" stroke-width="1.3"/>
<line x1="47.00" y1="655.50" x2="50.00" y2="655.50" stroke="#1a1a1a" stroke-width="1"/>
<text x="44.60" y="658.20" font-size="7.6" text-anchor="end" fill="#1a1a1a" stroke="#1a1a1a" stroke-width="0.12">0.0</text>
<line x1="47.00" y1="618.25" x2="50.00" y2="618.25" stroke="#1a1a1a" stroke-width="1"/>
<text x="44.60" y="620.95" font-size="7.6" text-anchor="end" fill="#1a1a1a" stroke="#1a1a1a" stroke-width="0.12">0.5</text>
<line x1="47.00" y1="581.00" x2="50.00" y2="581.00" stroke="#1a1a1a" stroke-width="1"/>
<text x="44.60" y="583.70" font-size="7.6" text-anchor="end" fill="#1a1a1a" stroke="#1a1a1a" stroke-width="0.12">1.0</text>
<line x1="47.00" y1="543.75" x2="50.00" y2="543.75" stroke="#1a1a1a" stroke-width="1"/>
<text x="44.60" y="546.45" font-size="7.6" text-anchor="end" fill="#1a1a1a" stroke="#1a1a1a" stroke-width="0.12">1.5</text>
<line x1="79.50" y1="655.60" x2="79.50" y2="658.50" stroke="#1a1a1a" stroke-width="1"/>
<text x="79.50" y="667.80" font-size="7.6" text-anchor="middle" fill="#1a1a1a" stroke="#1a1a1a" stroke-width="0.12" textLength="15.20" lengthAdjust="spacingAndGlyphs">2422</text>
<line x1="135.80" y1="655.60" x2="135.80" y2="658.50" stroke="#1a1a1a" stroke-width="1"/>
<text x="135.80" y="667.80" font-size="7.6" text-anchor="middle" fill="#1a1a1a" stroke="#1a1a1a" stroke-width="0.12" textLength="15.20" lengthAdjust="spacingAndGlyphs">1592</text>
<line x1="191.50" y1="655.60" x2="191.50" y2="658.50" stroke="#1a1a1a" stroke-width="1"/>
<text x="191.50" y="667.80" font-size="7.6" text-anchor="middle" fill="#1a1a1a" stroke="#1a1a1a" stroke-width="0.12" textLength="15.20" lengthAdjust="spacingAndGlyphs">0096</text>
<text transform="translate(25.00,598.80) rotate(-90)" dy="3.31" font-size="9.2" text-anchor="middle" fill="#1a1a1a" stroke="#1a1a1a" stroke-width="0.22" textLength="87.50" lengthAdjust="spacingAndGlyphs">Cell count (fold change DMSO)</text>
<circle cx="221.30" cy="549.20" r="2.10" fill="#5a1f78"/>
<text x="226.20" y="551.80" font-size="7.4" fill="#1a1a1a" stroke="#1a1a1a" stroke-width="0.12" textLength="22.40" lengthAdjust="spacingAndGlyphs">DMSO</text>
<rect x="219.35" y="558.45" width="3.90" height="3.90" fill="#3db34a"/>
<text x="226.20" y="563.00" font-size="7.4" fill="#1a1a1a" stroke="#1a1a1a" stroke-width="0.12" textLength="32.40" lengthAdjust="spacingAndGlyphs">Gilteritinib</text>
<path d="M221.30,569.05 L223.55,572.97 L219.05,572.97 Z" fill="#c8102e"/>
<text x="226.20" y="574.10" font-size="7.4" fill="#1a1a1a" stroke="#1a1a1a" stroke-width="0.12" textLength="23.80" lengthAdjust="spacingAndGlyphs">CHMFL</text>
<path d="M221.30,580.10 L223.60,582.40 L221.30,584.70 L219.00,582.40 Z" fill="#185a8c"/>
<text x="226.20" y="585.00" font-size="7.4" fill="#1a1a1a" stroke="#1a1a1a" stroke-width="0.12" textLength="65.50" lengthAdjust="spacingAndGlyphs">Gilteritinib + CHMFL</text>
<text x="317.30" y="540.60" font-size="11" font-weight="bold" fill="#000" stroke="#000" stroke-width="0.12">H</text>
<text transform="translate(377.00,570.50) rotate(-90)" font-size="7.2" fill="#1a1a1a" stroke="#1a1a1a" stroke-width="0.12" textLength="30.50" lengthAdjust="spacingAndGlyphs">Wild-type</text>
<text transform="translate(398.00,570.50) rotate(-90)" font-size="7.2" fill="#1a1a1a" stroke="#1a1a1a" stroke-width="0.12" textLength="24.50" lengthAdjust="spacingAndGlyphs">KO#12</text>
<text transform="translate(418.80,570.50) rotate(-90)" font-size="7.2" fill="#1a1a1a" stroke="#1a1a1a" stroke-width="0.12" textLength="24.50" lengthAdjust="spacingAndGlyphs">KO#13</text>
<line x1="365.50" y1="573.80" x2="383.80" y2="573.80" stroke="#8a8a8a" stroke-width="1.3"/>
<line x1="386.30" y1="573.80" x2="405.00" y2="573.80" stroke="#8a8a8a" stroke-width="1.3"/>
<line x1="407.50" y1="573.80" x2="426.30" y2="573.80" stroke="#8a8a8a" stroke-width="1.3"/>
<text x="360.00" y="581.00" font-size="7.6" text-anchor="end" fill="#1a1a1a" stroke="#1a1a1a" stroke-width="0.12" textLength="36.00" lengthAdjust="spacingAndGlyphs">Gilteritinib:</text>
<line x1="367.40" y1="579.60" x2="370.20" y2="579.60" stroke="#1a1a1a" stroke-width="0.75"/>
<line x1="377.30" y1="579.60" x2="380.30" y2="579.60" stroke="#1a1a1a" stroke-width="0.75"/>
<line x1="378.80" y1="578.10" x2="378.80" y2="581.10" stroke="#1a1a1a" stroke-width="0.75"/>
<line x1="388.60" y1="579.60" x2="391.40" y2="579.60" stroke="#1a1a1a" stroke-width="0.75"/>
<line x1="399.00" y1="579.60" x2="402.00" y2="579.60" stroke="#1a1a1a" stroke-width="0.75"/>
<line x1="400.50" y1="578.10" x2="400.50" y2="581.10" stroke="#1a1a1a" stroke-width="0.75"/>
<line x1="409.90" y1="579.60" x2="412.70" y2="579.60" stroke="#1a1a1a" stroke-width="0.75"/>
<line x1="421.00" y1="579.60" x2="424.00" y2="579.60" stroke="#1a1a1a" stroke-width="0.75"/>
<line x1="422.50" y1="578.10" x2="422.50" y2="581.10" stroke="#1a1a1a" stroke-width="0.75"/>
<rect x="361.60" y="586.60" width="69.80" height="17.20" fill="#a6a6a6" stroke="#1a1a1a" stroke-width="1.1"/>
<rect x="361.60" y="612.40" width="69.80" height="17.20" fill="#a6a6a6" stroke="#1a1a1a" stroke-width="1.1"/>
<rect x="361.60" y="638.40" width="69.80" height="17.20" fill="#a6a6a6" stroke="#1a1a1a" stroke-width="1.1"/>
<path d="M365.00,595.05 L373.90,594.15 L373.90,596.65 L365.00,597.35 Z" fill="#0d0d0d" stroke="#0d0d0d" stroke-width="0.7" stroke-linejoin="round" opacity="1"/>
<path d="M376.00,594.40 L384.40,593.50 L384.40,595.70 L376.00,596.40 Z" fill="#0d0d0d" stroke="#0d0d0d" stroke-width="0.7" stroke-linejoin="round" opacity="1"/>
<path d="M386.00,593.65 L395.20,592.55 L395.20,594.65 L386.00,595.55 Z" fill="#0d0d0d" stroke="#0d0d0d" stroke-width="0.7" stroke-linejoin="round" opacity="1"/>
<path d="M408.00,592.20 L416.30,590.95 L416.30,593.25 L408.00,594.20 Z" fill="#0d0d0d" stroke="#0d0d0d" stroke-width="0.7" stroke-linejoin="round" opacity="1"/>
<path d="M418.80,592.35 L427.70,590.85 L427.70,592.75 L418.80,593.65 Z" fill="#0d0d0d" stroke="#0d0d0d" stroke-width="0.7" stroke-linejoin="round" opacity="1"/>
<path d="M397.20,592.95 L406.00,592.55 L406.00,593.85 L397.20,594.25 Z" fill="#0d0d0d" stroke="#0d0d0d" stroke-width="0.7" stroke-linejoin="round" opacity="0.18"/>
<path d="M366.30,621.20 L375.30,620.40 L375.30,623.20 L366.30,623.80 Z" fill="#0d0d0d" stroke="#0d0d0d" stroke-width="0.7" stroke-linejoin="round" opacity="1"/>
<path d="M376.90,620.55 L385.80,619.70 L385.80,622.30 L376.90,623.05 Z" fill="#0d0d0d" stroke="#0d0d0d" stroke-width="0.7" stroke-linejoin="round" opacity="1"/>
<path d="M388.20,620.20 L395.30,619.30 L395.30,621.10 L388.20,621.80 Z" fill="#0d0d0d" stroke="#0d0d0d" stroke-width="0.7" stroke-linejoin="round" opacity="1"/>
<path d="M398.20,619.55 L406.00,618.10 L406.00,619.90 L398.20,621.05 Z" fill="#0d0d0d" stroke="#0d0d0d" stroke-width="0.7" stroke-linejoin="round" opacity="1"/>
<path d="M408.30,617.60 L416.30,616.50 L416.30,619.10 L408.30,620.00 Z" fill="#0d0d0d" stroke="#0d0d0d" stroke-width="0.7" stroke-linejoin="round" opacity="1"/>
<path d="M418.30,616.70 L427.50,615.60 L427.50,618.40 L418.30,619.30 Z" fill="#0d0d0d" stroke="#0d0d0d" stroke-width="0.7" stroke-linejoin="round" opacity="1"/>
<path d="M364.30,648.85 L373.70,648.05 L373.70,649.15 L364.30,649.95 Z" fill="#0d0d0d" stroke="#0d0d0d" stroke-width="0.7" stroke-linejoin="round" opacity="1"/>
<path d="M374.80,647.95 L385.20,647.05 L385.20,648.15 L374.80,649.05 Z" fill="#0d0d0d" stroke="#0d0d0d" stroke-width="0.7" stroke-linejoin="round" opacity="1"/>
<path d="M386.20,646.95 L395.30,646.15 L395.30,647.25 L386.20,648.05 Z" fill="#0d0d0d" stroke="#0d0d0d" stroke-width="0.7" stroke-linejoin="round" opacity="1"/>
<path d="M396.30,646.05 L406.70,645.05 L406.70,646.15 L396.30,647.15 Z" fill="#0d0d0d" stroke="#0d0d0d" stroke-width="0.7" stroke-linejoin="round" opacity="1"/>
<path d="M407.70,644.95 L417.50,644.15 L417.50,645.25 L407.70,646.05 Z" fill="#0d0d0d" stroke="#0d0d0d" stroke-width="0.7" stroke-linejoin="round" opacity="1"/>
<path d="M418.50,644.05 L428.40,643.15 L428.40,644.25 L418.50,645.15 Z" fill="#0d0d0d" stroke="#0d0d0d" stroke-width="0.7" stroke-linejoin="round" opacity="1"/>
<rect x="385" y="587.6" width="10" height="1.2" fill="#999" opacity="0.7"/>
<text x="434.40" y="598.00" font-size="7" fill="#1a1a1a" stroke="#1a1a1a" stroke-width="0.12" textLength="25.60" lengthAdjust="spacingAndGlyphs">pSTAT5</text>
<text x="434.40" y="623.30" font-size="7" fill="#1a1a1a" stroke="#1a1a1a" stroke-width="0.12" textLength="21.40" lengthAdjust="spacingAndGlyphs">STAT5</text>
<text x="434.40" y="649.60" font-size="7" fill="#1a1a1a" stroke="#1a1a1a" stroke-width="0.12" textLength="23.40" lengthAdjust="spacingAndGlyphs">GAPDH</text>
</g>
<rect x="0.5" y="0.5" width="519" height="673" fill="none" stroke="#000" stroke-width="1"/>
</svg>
</body></html>
